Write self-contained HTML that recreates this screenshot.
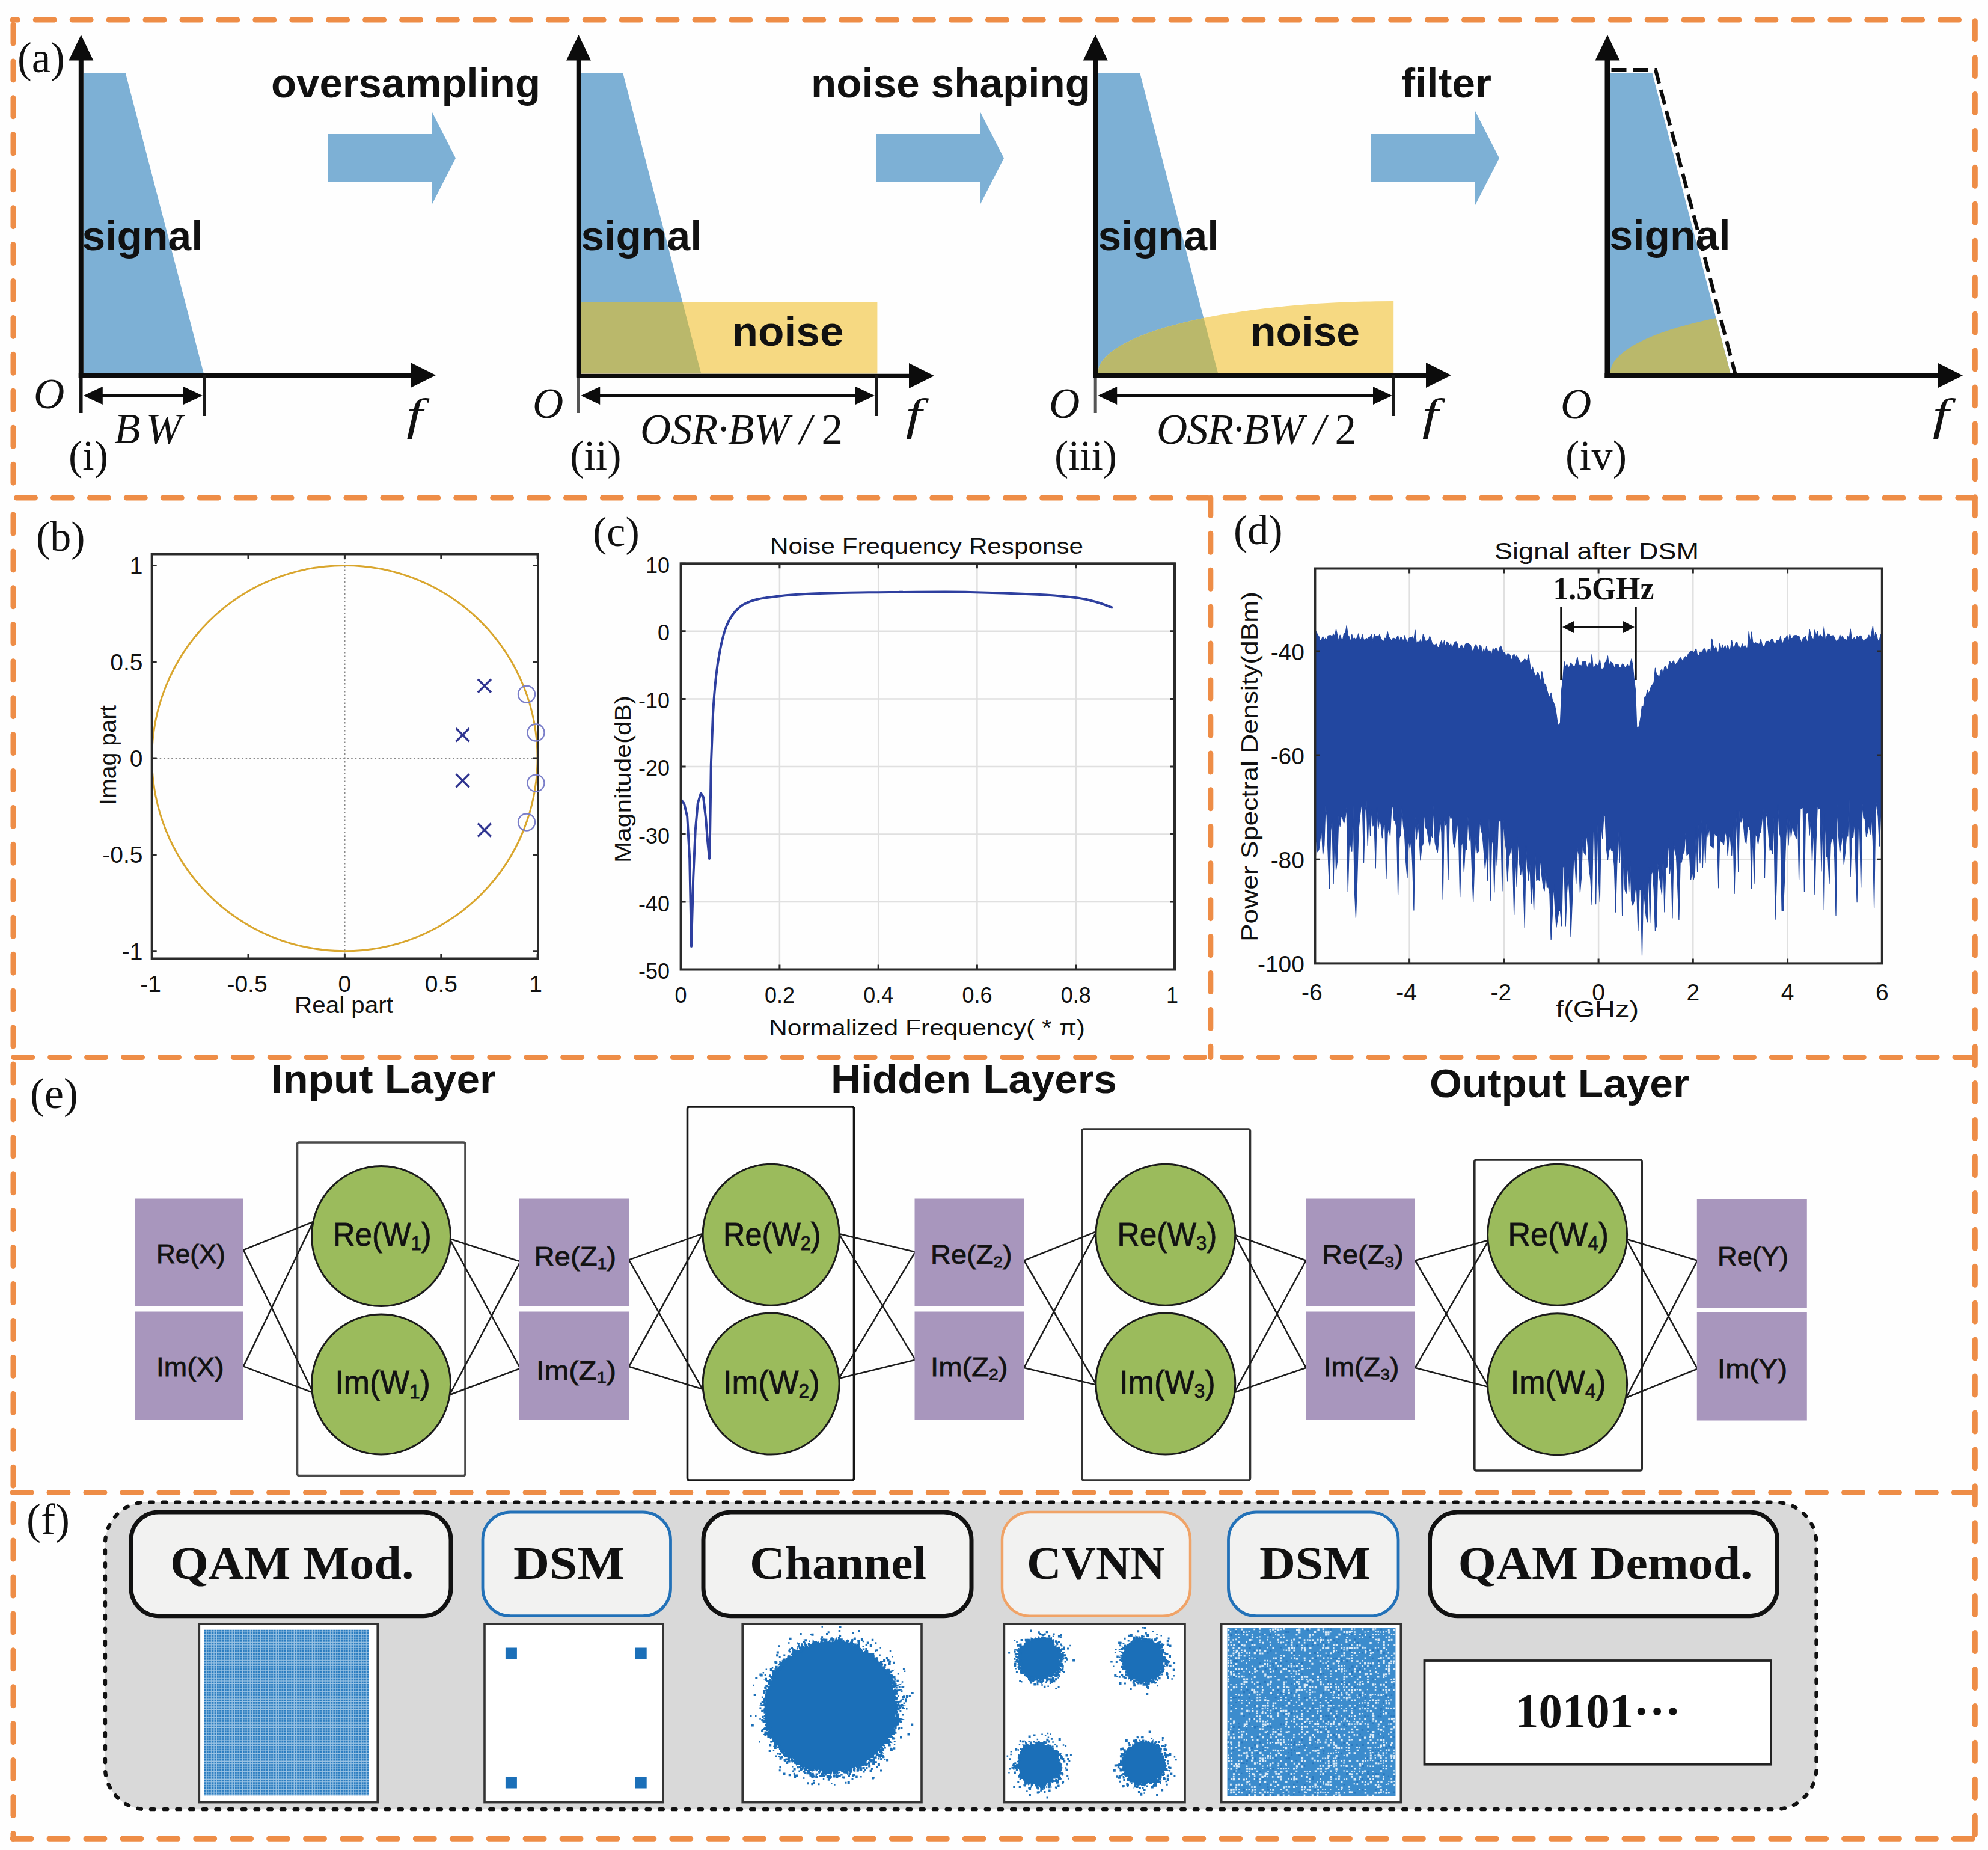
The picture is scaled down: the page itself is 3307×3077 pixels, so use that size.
<!DOCTYPE html>
<html lang="en"><head><meta charset="utf-8"><title>DSM and CVNN principle figure</title>
<style>
html,body{margin:0;padding:0;background:#fefefe;}
svg{display:block;}
text{fill:#111;}
.ss{font-family:"Liberation Sans", "DejaVu Sans", sans-serif;}
.sr{font-family:"Liberation Serif", "DejaVu Serif", serif;}
.b{font-weight:bold;}
.i{font-style:italic;}
</style></head><body>
<svg width="3307" height="3077" viewBox="0 0 3307 3077">
<rect width="3307" height="3077" fill="#fefefe"/>
<g fill="none" stroke="#EE8D47" stroke-width="9" stroke-linecap="round" stroke-dasharray="31 29.93">
<path d="M21 33H3285.3" stroke-dashoffset="22.7"/>
<path d="M21 828H3285.3" stroke-dashoffset="54.4"/>
<path d="M21 1758.5H3285.3" stroke-dashoffset="59.2"/>
<path d="M21 2482.5H3285.3" stroke-dashoffset="60.86"/>
<path d="M21 3058.3H3285.3" stroke-dashoffset="60.86"/>
<path d="M22 33V828" stroke-dashoffset="52.93"/>
<path d="M22 856V3058.3"/>
<path d="M3285.3 33V3058.3" stroke-dashoffset="59.3"/>
<path d="M2013.8 828V1758.5" stroke-dashoffset="1.6"/>
</g>
<text class="sr" x="29" y="120" font-size="71">(a)</text>
<path d="M138.8 121.5 H208.8 L338.8 621 H138.8 Z" fill="#7DB0D5"/>
<path d="M134.8 628 V88" stroke="#0c0c0c" stroke-width="8" fill="none"/>
<path d="M134.8 58 L114.3 100.5 L155.3 100.5 Z" fill="#0c0c0c"/>
<path d="M130.8 624 H695" stroke="#0c0c0c" stroke-width="8" fill="none"/>
<path d="M725 624 L683 603 L683 645 Z" fill="#0c0c0c"/>
<path d="M134.8 628V687" stroke="#111" stroke-width="5.5" fill="none"/>
<path d="M339.5 624V692" stroke="#1a1a1a" stroke-width="5" fill="none"/>
<path d="M158.8 658H317" stroke="#0c0c0c" stroke-width="4" fill="none"/>
<path d="M138.8 658 l32 -15 v30 Z M337 658 l-32 -15 v30 Z" fill="#0c0c0c"/>
<text class="ss b" x="136.5" y="416" font-size="68" textLength="201" lengthAdjust="spacingAndGlyphs">signal</text>
<text class="sr i" x="56" y="679" font-size="71">O</text>
<text class="sr i" x="190" y="737" font-size="71" textLength="112" lengthAdjust="spacing">BW</text>
<text class="sr i" x="676.2" y="713.5" font-size="75" textLength="27.1" lengthAdjust="spacingAndGlyphs">f</text>
<text class="sr" x="114" y="781" font-size="70">(i)</text>
<text class="ss b" x="451" y="162" font-size="69" textLength="448" lengthAdjust="spacingAndGlyphs">oversampling</text>
<path d="M545 223 h173 v-38 l40 78 l-40 78 v-38 h-173 Z" fill="#7DB0D5"/>
<path d="M966.2 121.5 H1036.2 L1166.2 621 H966.2 Z" fill="#7DB0D5"/>
<rect x="966.2" y="502" width="493.2" height="119.5" fill="#F6D982"/>
<clipPath id="c2"><path d="M966.2 121.5 H1036.2 L1166.2 621 H966.2 Z"/></clipPath>
<rect x="966.2" y="502" width="493.2" height="119.5" fill="#BAB86B" clip-path="url(#c2)"/>
<path d="M962.5 627.8 V88" stroke="#0c0c0c" stroke-width="7.5" fill="none"/>
<path d="M962.5 58 L942 100.5 L983 100.5 Z" fill="#0c0c0c"/>
<path d="M959.2 625 H1524" stroke="#0c0c0c" stroke-width="6.5" fill="none"/>
<path d="M1554 625 L1512 604 L1512 646 Z" fill="#0c0c0c"/>
<path d="M962.5 628V687" stroke="#555" stroke-width="5" fill="none"/>
<path d="M1457.5 624V692" stroke="#1a1a1a" stroke-width="5" fill="none"/>
<path d="M986.2 658H1435" stroke="#0c0c0c" stroke-width="4" fill="none"/>
<path d="M966.2 658 l32 -15 v30 Z M1455 658 l-32 -15 v30 Z" fill="#0c0c0c"/>
<text class="ss b" x="966.5" y="416" font-size="68" textLength="201" lengthAdjust="spacingAndGlyphs">signal</text>
<text class="ss b" x="1217.5" y="574.5" font-size="68" textLength="186" lengthAdjust="spacingAndGlyphs">noise</text>
<text class="sr i" x="886" y="695" font-size="71">O</text>
<text class="sr i" x="1065" y="738" font-size="71" textLength="337" lengthAdjust="spacing">OSR·BW / <tspan font-style="normal">2</tspan></text>
<text class="sr i" x="1506.7" y="713.5" font-size="75" textLength="27.1" lengthAdjust="spacingAndGlyphs">f</text>
<text class="sr" x="948" y="781" font-size="70">(ii)</text>
<text class="ss b" x="1349" y="162" font-size="69" textLength="465" lengthAdjust="spacingAndGlyphs">noise shaping</text>
<path d="M1457 223 h173 v-38 l40 78 l-40 78 v-38 h-173 Z" fill="#7DB0D5"/>
<path d="M1826.2 121.5 H1896.2 L2026.2 621 H1826.2 Z" fill="#7DB0D5"/>
<path d="M1826.2 621 A492 120 0 0 1 2318.2 501 V621 Z" fill="#F6D982"/>
<clipPath id="c3"><path d="M1826.2 121.5 H1896.2 L2026.2 621 H1826.2 Z"/></clipPath>
<path d="M1826.2 621 A492 120 0 0 1 2318.2 501 V621 Z" fill="#BAB86B" clip-path="url(#c3)"/>
<path d="M1822.2 628 V88" stroke="#0c0c0c" stroke-width="8" fill="none"/>
<path d="M1822.2 58 L1801.7 100.5 L1842.7 100.5 Z" fill="#0c0c0c"/>
<path d="M1818.2 624 H2384" stroke="#0c0c0c" stroke-width="8" fill="none"/>
<path d="M2414 624 L2372 603 L2372 645 Z" fill="#0c0c0c"/>
<path d="M1822.2 628V687" stroke="#555" stroke-width="5" fill="none"/>
<path d="M2318.5 624V692" stroke="#1a1a1a" stroke-width="5" fill="none"/>
<path d="M1846.2 658H2296" stroke="#0c0c0c" stroke-width="4" fill="none"/>
<path d="M1826.2 658 l32 -15 v30 Z M2316 658 l-32 -15 v30 Z" fill="#0c0c0c"/>
<text class="ss b" x="1826.5" y="416" font-size="68" textLength="201" lengthAdjust="spacingAndGlyphs">signal</text>
<text class="ss b" x="2080" y="574.5" font-size="68" textLength="182" lengthAdjust="spacingAndGlyphs">noise</text>
<text class="sr i" x="1745" y="695" font-size="71">O</text>
<text class="sr i" x="1924" y="738" font-size="71" textLength="332" lengthAdjust="spacing">OSR·BW / <tspan font-style="normal">2</tspan></text>
<text class="sr i" x="2365.7" y="713.5" font-size="75" textLength="27.1" lengthAdjust="spacingAndGlyphs">f</text>
<text class="sr" x="1754" y="781" font-size="70" textLength="104" lengthAdjust="spacing">(iii)</text>
<text class="ss b" x="2331" y="162" font-size="69" textLength="150" lengthAdjust="spacingAndGlyphs">filter</text>
<path d="M2281 223 h173 v-38 l40 78 l-40 78 v-38 h-173 Z" fill="#7DB0D5"/>
<path d="M2678.5 121.5 H2748.5 L2878.5 621 H2678.5 Z" fill="#7DB0D5"/>
<clipPath id="c4"><path d="M2678.5 121.5 H2748.5 L2878.5 621 H2678.5 Z"/></clipPath>
<path d="M2678.5 621 A492 120 0 0 1 3170.5 501 V621 Z" fill="#BAB86B" clip-path="url(#c4)"/>
<path d="M2674 628.5 V88" stroke="#0c0c0c" stroke-width="9" fill="none"/>
<path d="M2674 58 L2653.5 100.5 L2694.5 100.5 Z" fill="#0c0c0c"/>
<path d="M2669.5 624.6 H3235" stroke="#0c0c0c" stroke-width="9" fill="none"/>
<path d="M3265 624.6 L3223 603.6 L3223 645.6 Z" fill="#0c0c0c"/>
<path d="M2680.5 116 H2754 L2886.5 622" stroke="#0c0c0c" stroke-width="6" stroke-dasharray="25 11" fill="none"/>
<text class="ss b" x="2677.5" y="415" font-size="68" textLength="201" lengthAdjust="spacingAndGlyphs">signal</text>
<text class="sr i" x="2596" y="696" font-size="71">O</text>
<text class="sr i" x="3215.1" y="713.5" font-size="75" textLength="27.1" lengthAdjust="spacingAndGlyphs">f</text>
<text class="sr" x="2604" y="781" font-size="70" textLength="102" lengthAdjust="spacing">(iv)</text>
<text class="sr" x="60" y="916" font-size="70">(b)</text>
<path d="M252.7 1261.1H895 M573.4 921.5V1594.5" stroke="#888" stroke-width="2.2" stroke-dasharray="2.5 4" fill="none"/>
<circle cx="573.4" cy="1261.1" r="320.7" fill="none" stroke="#D9A62E" stroke-width="3"/>
<rect x="252.7" y="921.5" width="642.3" height="673" fill="none" stroke="#2a2a2a" stroke-width="4"/>
<path d="M252.7 1594.5v-8 M252.7 921.5v8 M252.7 1581.8h8 M895 1581.8h-8 M413 1594.5v-8 M413 921.5v8 M252.7 1421.4h8 M895 1421.4h-8 M573.4 1594.5v-8 M573.4 921.5v8 M252.7 1261.1h8 M895 1261.1h-8 M733.8 1594.5v-8 M733.8 921.5v8 M252.7 1100.8h8 M895 1100.8h-8 M894.1 1594.5v-8 M894.1 921.5v8 M252.7 940.4h8 M895 940.4h-8" stroke="#2a2a2a" stroke-width="3" fill="none"/>
<text class="ss" x="237.5" y="954.4" font-size="39" text-anchor="end" fill="#222">1</text>
<text class="ss" x="237.5" y="1114.8" font-size="39" text-anchor="end" fill="#222">0.5</text>
<text class="ss" x="237.5" y="1275.1" font-size="39" text-anchor="end" fill="#222">0</text>
<text class="ss" x="237.5" y="1435.4" font-size="39" text-anchor="end" fill="#222">-0.5</text>
<text class="ss" x="237.5" y="1595.8" font-size="39" text-anchor="end" fill="#222">-1</text>
<text class="ss" x="250.7" y="1650" font-size="39" text-anchor="middle" fill="#222">-1</text>
<text class="ss" x="411" y="1650" font-size="39" text-anchor="middle" fill="#222">-0.5</text>
<text class="ss" x="573.4" y="1650" font-size="39" text-anchor="middle" fill="#222">0</text>
<text class="ss" x="733.8" y="1650" font-size="39" text-anchor="middle" fill="#222">0.5</text>
<text class="ss" x="891.1" y="1650" font-size="39" text-anchor="middle" fill="#222">1</text>
<text class="ss" x="572" y="1685" font-size="39" text-anchor="middle" textLength="164" lengthAdjust="spacingAndGlyphs" fill="#222">Real part</text>
<text class="ss" x="193" y="1256" font-size="39" text-anchor="middle" textLength="166" lengthAdjust="spacingAndGlyphs" transform="rotate(-90 193 1256)" fill="#222">Imag part</text>
<path d="M794.9 1129.7l22 22 M816.9 1129.7l-22 22 M758.6 1211.2l22 22 M780.6 1211.2l-22 22 M758.6 1287.5l22 22 M780.6 1287.5l-22 22 M794.9 1369.5l22 22 M816.9 1369.5l-22 22" stroke="#2F3490" stroke-width="3.4" fill="none"/>
<circle cx="876" cy="1154.7" r="14" fill="none" stroke="#7B7FC9" stroke-width="2.4"/>
<circle cx="891.5" cy="1218.5" r="14" fill="none" stroke="#7B7FC9" stroke-width="2.4"/>
<circle cx="891.5" cy="1302.6" r="14" fill="none" stroke="#7B7FC9" stroke-width="2.4"/>
<circle cx="876" cy="1367.5" r="14" fill="none" stroke="#7B7FC9" stroke-width="2.4"/>
<text class="sr" x="986" y="908" font-size="70">(c)</text>
<path d="M1296.9 937.3V1612.5 M1461.2 937.3V1612.5 M1625.4 937.3V1612.5 M1789.7 937.3V1612.5 M1132.6 1049.8H1954 M1132.6 1162.4H1954 M1132.6 1274.9H1954 M1132.6 1387.4H1954 M1132.6 1500H1954" stroke="#e0e0e0" stroke-width="2.5" fill="none"/>
<path d="M1132.8 1330 L1138 1336.8 L1143.2 1358 L1147.2 1428 L1150 1574 L1153.2 1460 L1156.8 1380 L1160.8 1336 L1166 1319.2 L1170 1326 L1174 1360 L1177.2 1400 L1180 1428 L1181.2 1380 L1182.8 1272 L1186 1188 C1187.4 1163.3 1189.2 1142 1191.2 1124 C1193.2 1106 1195.5 1092.7 1198 1080 C1200.5 1067.3 1203.3 1056.3 1206 1048 C1208.7 1039.7 1211 1035.3 1214 1030 C1217 1024.7 1220 1020.2 1224 1016 C1228 1011.8 1232 1008 1238 1004.8 C1244 1001.6 1250 999.1 1260 996.8 C1270 994.5 1284.7 992.7 1298 991.2 C1311.3 989.7 1323 988.9 1340 988 C1357 987.1 1380 986.5 1400 986 C1420 985.5 1443.3 985.4 1460 985.2 C1476.7 985 1492.8 984.9 1500 984.8 C1507.2 984.7 1484.3 984.9 1503.3 984.9 C1522.3 984.9 1577.1 984.2 1614 984.9 C1650.9 985.5 1695.1 987.2 1724.6 988.8 C1754.1 990.3 1774.4 992.2 1791 994.3 C1807.6 996.4 1814.3 998.7 1824.2 1001.5 C1834.2 1004.3 1846.4 1009.3 1850.8 1010.9" stroke="#2E3F9F" stroke-width="4" fill="none" stroke-linejoin="round"/>
<rect x="1132.6" y="937.3" width="821.4" height="675.2" fill="none" stroke="#2a2a2a" stroke-width="4"/>
<path d="M1132.6 1612.5v-8 M1132.6 937.3v8 M1296.9 1612.5v-8 M1296.9 937.3v8 M1461.2 1612.5v-8 M1461.2 937.3v8 M1625.4 1612.5v-8 M1625.4 937.3v8 M1789.7 1612.5v-8 M1789.7 937.3v8 M1954 1612.5v-8 M1954 937.3v8 M1132.6 937.3h8 M1954 937.3h-8 M1132.6 1049.8h8 M1954 1049.8h-8 M1132.6 1162.4h8 M1954 1162.4h-8 M1132.6 1274.9h8 M1954 1274.9h-8 M1132.6 1387.4h8 M1954 1387.4h-8 M1132.6 1500h8 M1954 1500h-8 M1132.6 1612.5h8 M1954 1612.5h-8" stroke="#2a2a2a" stroke-width="3" fill="none"/>
<text class="ss" x="1114" y="952.8" font-size="36" text-anchor="end" fill="#222">10</text>
<text class="ss" x="1114" y="1065.3" font-size="36" text-anchor="end" fill="#222">0</text>
<text class="ss" x="1114" y="1177.9" font-size="36" text-anchor="end" fill="#222">-10</text>
<text class="ss" x="1114" y="1290.4" font-size="36" text-anchor="end" fill="#222">-20</text>
<text class="ss" x="1114" y="1402.9" font-size="36" text-anchor="end" fill="#222">-30</text>
<text class="ss" x="1114" y="1515.5" font-size="36" text-anchor="end" fill="#222">-40</text>
<text class="ss" x="1114" y="1628" font-size="36" text-anchor="end" fill="#222">-50</text>
<text class="ss" x="1132.6" y="1668" font-size="36" text-anchor="middle" fill="#222">0</text>
<text class="ss" x="1296.9" y="1668" font-size="36" text-anchor="middle" fill="#222">0.2</text>
<text class="ss" x="1461.2" y="1668" font-size="36" text-anchor="middle" fill="#222">0.4</text>
<text class="ss" x="1625.4" y="1668" font-size="36" text-anchor="middle" fill="#222">0.6</text>
<text class="ss" x="1789.7" y="1668" font-size="36" text-anchor="middle" fill="#222">0.8</text>
<text class="ss" x="1950" y="1668" font-size="36" text-anchor="middle" fill="#222">1</text>
<text class="ss" x="1541.5" y="921" font-size="37" text-anchor="middle" textLength="521" lengthAdjust="spacingAndGlyphs" fill="#222">Noise Frequency Response</text>
<text class="ss" x="1542" y="1722" font-size="37" text-anchor="middle" textLength="526" lengthAdjust="spacingAndGlyphs" fill="#222">Normalized Frequency( * π)</text>
<text class="ss" x="1049" y="1296" font-size="36" text-anchor="middle" textLength="278" lengthAdjust="spacingAndGlyphs" transform="rotate(-90 1049 1296)" fill="#222">Magnitude(dB)</text>
<text class="sr" x="2052" y="905" font-size="70">(d)</text>
<path d="M2344.6 945.5V1602.4 M2501.9 945.5V1602.4 M2659.1 945.5V1602.4 M2816.3 945.5V1602.4 M2973.6 945.5V1602.4 M2187.4 1083H3130.8 M2187.4 1256.1H3130.8 M2187.4 1429.2H3130.8" stroke="#e0e0e0" stroke-width="2.5" fill="none"/>
<path d="M2187.4 1062.9 L2189.6 1050.6 L2191.8 1055.9 L2194 1058.7 L2196.2 1066.8 L2198.4 1063.1 L2200.6 1058.6 L2202.8 1064.6 L2205 1061.1 L2207.1 1064 L2209.3 1057.3 L2211.5 1056.9 L2213.7 1056.8 L2215.9 1059.2 L2218.1 1054.3 L2220.3 1058.5 L2222.5 1047 L2224.7 1056.8 L2226.9 1066.3 L2229.1 1056.1 L2231.3 1062.5 L2233.5 1064.2 L2235.7 1053.3 L2237.9 1054.2 L2240.1 1040.5 L2242.2 1056.4 L2244.4 1059.2 L2246.6 1067.4 L2248.8 1055.3 L2251 1062.4 L2253.2 1061 L2255.4 1063.8 L2257.6 1060.1 L2259.8 1053.9 L2262 1065.1 L2264.2 1062.9 L2266.4 1055.6 L2268.6 1064.4 L2270.8 1063.8 L2273 1061.5 L2275.2 1062.8 L2277.4 1059.3 L2279.5 1059 L2281.7 1055.5 L2283.9 1065.7 L2286.1 1054.9 L2288.3 1058.4 L2290.5 1057.3 L2292.7 1059.5 L2294.9 1055.2 L2297.1 1062.8 L2299.3 1064.8 L2301.5 1067.2 L2303.7 1061 L2305.9 1062.2 L2308.1 1050.7 L2310.3 1059.3 L2312.5 1061.8 L2314.6 1066.1 L2316.8 1061.9 L2319 1061.3 L2321.2 1063.6 L2323.4 1060.3 L2325.6 1057 L2327.8 1069.1 L2330 1059.4 L2332.2 1061.2 L2334.4 1067.4 L2336.6 1056.8 L2338.8 1063.5 L2341 1070.5 L2343.2 1062.2 L2345.4 1060.1 L2347.6 1060.4 L2349.8 1058.9 L2351.9 1063.9 L2354.1 1048 L2356.3 1071.1 L2358.5 1066.3 L2360.7 1069.1 L2362.9 1063.6 L2365.1 1069.3 L2367.3 1055 L2369.5 1061 L2371.7 1067.3 L2373.9 1064.9 L2376.1 1064.9 L2378.3 1057.9 L2380.5 1063.6 L2382.7 1071.4 L2384.9 1072.1 L2387 1072.6 L2389.2 1071 L2391.4 1076.5 L2393.6 1076.5 L2395.8 1069.8 L2398 1065.2 L2400.2 1075.5 L2402.4 1065.5 L2404.6 1076.2 L2406.8 1067.3 L2409 1069.2 L2411.2 1073.9 L2413.4 1070.5 L2415.6 1079.4 L2417.8 1072.3 L2420 1068.3 L2422.2 1066.8 L2424.3 1071.1 L2426.5 1079.9 L2428.7 1077.1 L2430.9 1072.4 L2433.1 1075.6 L2435.3 1079.6 L2437.5 1071.4 L2439.7 1070 L2441.9 1070.3 L2444.1 1071.6 L2446.3 1073.1 L2448.5 1080.4 L2450.7 1084.9 L2452.9 1075.4 L2455.1 1071.8 L2457.3 1076.4 L2459.5 1082.9 L2461.6 1073.5 L2463.8 1074.5 L2466 1086.8 L2468.2 1078.9 L2470.4 1086.4 L2472.6 1075 L2474.8 1083.5 L2477 1082.4 L2479.2 1083.4 L2481.4 1088.7 L2483.6 1078.1 L2485.8 1083.5 L2488 1077.7 L2490.2 1079.5 L2492.4 1085.6 L2494.6 1077.1 L2496.7 1074.3 L2498.9 1081.1 L2501.1 1086 L2503.3 1085.1 L2505.5 1094.5 L2507.7 1087.2 L2509.9 1087.4 L2512.1 1090 L2514.3 1099 L2516.5 1091.2 L2518.7 1087.9 L2520.9 1092.8 L2523.1 1090.4 L2525.3 1094.8 L2527.5 1098.2 L2529.7 1103 L2531.9 1100.4 L2534 1099.1 L2536.2 1095.8 L2538.4 1097.9 L2540.6 1098.4 L2542.8 1088.9 L2545 1105 L2547.2 1116.5 L2549.4 1109.2 L2551.6 1117.9 L2553.8 1125 L2556 1122.1 L2558.2 1117.8 L2560.4 1124.2 L2562.6 1135.1 L2564.8 1116.7 L2567 1128.2 L2569.1 1138.4 L2571.3 1138.9 L2573.5 1148.4 L2575.7 1155.8 L2577.9 1160.2 L2580.1 1152.3 L2582.3 1164 L2584.5 1169 L2586.7 1175.2 L2588.9 1187.6 L2591.1 1203.9 L2593.3 1207.6 L2595.5 1201.8 L2597.7 1146.9 L2599.9 1128.8 L2602.1 1100.4 L2604.3 1109.7 L2606.4 1104.7 L2608.6 1109.8 L2610.8 1108.8 L2613 1102.3 L2615.2 1105.7 L2617.4 1107.6 L2619.6 1109 L2621.8 1101.3 L2624 1092.9 L2626.2 1107.7 L2628.4 1105.7 L2630.6 1108.2 L2632.8 1100.5 L2635 1099.9 L2637.2 1099.8 L2639.4 1107.9 L2641.5 1111.1 L2643.7 1101.6 L2645.9 1106.1 L2648.1 1088.3 L2650.3 1111.7 L2652.5 1109.1 L2654.7 1104.2 L2656.9 1106.5 L2659.1 1106.9 L2661.3 1096.5 L2663.5 1112.2 L2665.7 1112.5 L2667.9 1111.4 L2670.1 1102 L2672.3 1100 L2674.5 1090.9 L2676.7 1109.5 L2678.8 1100.6 L2681 1101.9 L2683.2 1103.9 L2685.4 1111.7 L2687.6 1105.6 L2689.8 1104.6 L2692 1105.3 L2694.2 1110.8 L2696.4 1109.8 L2698.6 1104.1 L2700.8 1104.8 L2703 1111.5 L2705.2 1108.4 L2707.4 1105.1 L2709.6 1111.4 L2711.8 1104.5 L2713.9 1095.8 L2716.1 1107.1 L2718.3 1129.9 L2720.5 1147.5 L2722.7 1208.9 L2724.9 1212.4 L2727.1 1205.4 L2729.3 1192.7 L2731.5 1174.1 L2733.7 1177.1 L2735.9 1159.2 L2738.1 1158.5 L2740.3 1147.3 L2742.5 1153.6 L2744.7 1148.5 L2746.9 1140.4 L2749.1 1138.8 L2751.2 1135.3 L2753.4 1111.2 L2755.6 1122.2 L2757.8 1123.1 L2760 1129.4 L2762.2 1116.5 L2764.4 1112.8 L2766.6 1122.6 L2768.8 1109.2 L2771 1107.7 L2773.2 1115.5 L2775.4 1108.3 L2777.6 1099.5 L2779.8 1104.2 L2782 1101.8 L2784.2 1098.6 L2786.3 1107.2 L2788.5 1103.7 L2790.7 1101.6 L2792.9 1097.3 L2795.1 1093.5 L2797.3 1096.7 L2799.5 1100.8 L2801.7 1093.2 L2803.9 1091.8 L2806.1 1093.3 L2808.3 1087.9 L2810.5 1085.4 L2812.7 1082.8 L2814.9 1082.4 L2817.1 1086 L2819.3 1082.8 L2821.5 1078.9 L2823.6 1089.5 L2825.8 1091.3 L2828 1084.5 L2830.2 1085.5 L2832.4 1082.8 L2834.6 1078.2 L2836.8 1080.6 L2839 1088.3 L2841.2 1080.6 L2843.4 1080.3 L2845.6 1086 L2847.8 1062.4 L2850 1074.8 L2852.2 1080 L2854.4 1075.6 L2856.6 1083.8 L2858.7 1084.7 L2860.9 1070 L2863.1 1080.8 L2865.3 1072.3 L2867.5 1079.5 L2869.7 1073.4 L2871.9 1081.1 L2874.1 1072.5 L2876.3 1081.7 L2878.5 1079.4 L2880.7 1065.2 L2882.9 1075.8 L2885.1 1077 L2887.3 1069.1 L2889.5 1068 L2891.7 1077.5 L2893.9 1075.8 L2896 1077.9 L2898.2 1070.7 L2900.4 1077 L2902.6 1073.4 L2904.8 1077.3 L2907 1076.9 L2909.2 1050 L2911.4 1069.2 L2913.6 1051.1 L2915.8 1068.4 L2918 1070.5 L2920.2 1068.7 L2922.4 1069.8 L2924.6 1071 L2926.8 1071 L2929 1062.8 L2931.2 1071.9 L2933.3 1075.2 L2935.5 1074.8 L2937.7 1066.8 L2939.9 1066.5 L2942.1 1066.4 L2944.3 1068.1 L2946.5 1063.4 L2948.7 1063 L2950.9 1069.2 L2953.1 1072.6 L2955.3 1065.1 L2957.5 1064.6 L2959.7 1066.9 L2961.9 1057.7 L2964.1 1070.8 L2966.3 1068.4 L2968.4 1061.6 L2970.6 1061.4 L2972.8 1056.5 L2975 1069.7 L2977.2 1054.3 L2979.4 1061.3 L2981.6 1061.8 L2983.8 1057.3 L2986 1056.8 L2988.2 1056.7 L2990.4 1057.8 L2992.6 1057.6 L2994.8 1064.1 L2997 1069.3 L2999.2 1061.8 L3001.4 1060.2 L3003.6 1058.5 L3005.7 1066.2 L3007.9 1066.5 L3010.1 1046.7 L3012.3 1056.8 L3014.5 1060.9 L3016.7 1064 L3018.9 1047.8 L3021.1 1057.9 L3023.3 1049.5 L3025.5 1060.7 L3027.7 1055.4 L3029.9 1057.6 L3032.1 1060.6 L3034.3 1042.5 L3036.5 1064.6 L3038.7 1058.7 L3040.8 1054.2 L3043 1055.3 L3045.2 1057.9 L3047.4 1057.2 L3049.6 1057 L3051.8 1060.8 L3054 1067.2 L3056.2 1064.4 L3058.4 1065.5 L3060.6 1055.8 L3062.8 1060.8 L3065 1057.5 L3067.2 1063.7 L3069.4 1062.8 L3071.6 1065.8 L3073.8 1058.2 L3076 1064.6 L3078.1 1046 L3080.3 1063.4 L3082.5 1062.7 L3084.7 1060.1 L3086.9 1064.4 L3089.1 1057.6 L3091.3 1060.6 L3093.5 1057.6 L3095.7 1057.3 L3097.9 1062.8 L3100.1 1067.2 L3102.3 1063.7 L3104.5 1062.3 L3106.7 1061.2 L3108.9 1056.1 L3111.1 1062.1 L3113.2 1054.2 L3115.4 1041.4 L3117.6 1064 L3119.8 1051.6 L3122 1057.7 L3124.2 1066.8 L3126.4 1063.5 L3128.6 1055.5 L3130.8 1065.1 L3130.8 1364.9 L3128.6 1353.2 L3126.4 1407.1 L3124.2 1358.6 L3122 1334.3 L3119.8 1353.5 L3117.6 1510.1 L3115.4 1398.4 L3113.2 1357.9 L3111.1 1387.4 L3108.9 1370.7 L3106.7 1383.8 L3104.5 1391.4 L3102.3 1362.3 L3100.1 1361 L3097.9 1336 L3095.7 1476.1 L3093.5 1374.6 L3091.3 1379.1 L3089.1 1500.7 L3086.9 1434.4 L3084.7 1364.6 L3082.5 1392.8 L3080.3 1392 L3078.1 1458.5 L3076 1329 L3073.8 1390.9 L3071.6 1389.8 L3069.4 1418.2 L3067.2 1437.3 L3065 1384.5 L3062.8 1404.5 L3060.6 1417.7 L3058.4 1387.9 L3056.2 1338.1 L3054 1522.7 L3051.8 1425.8 L3049.6 1396.4 L3047.4 1393.8 L3045.2 1404.1 L3043 1469.4 L3040.8 1425.2 L3038.7 1425.3 L3036.5 1353.9 L3034.3 1513.4 L3032.1 1365.9 L3029.9 1449.1 L3027.7 1342.8 L3025.5 1345.5 L3023.3 1340 L3021.1 1397.3 L3018.9 1487.5 L3016.7 1370.4 L3014.5 1431.8 L3012.3 1362.9 L3010.1 1389.2 L3007.9 1348.3 L3005.7 1353.1 L3003.6 1348.6 L3001.4 1483.4 L2999.2 1342.2 L2997 1344.9 L2994.8 1344.8 L2992.6 1462.8 L2990.4 1353.5 L2988.2 1394.9 L2986 1388 L2983.8 1381.5 L2981.6 1373.4 L2979.4 1392 L2977.2 1361.4 L2975 1406 L2972.8 1356.7 L2970.6 1397.7 L2968.4 1467.1 L2966.3 1515.1 L2964.1 1514.4 L2961.9 1392.3 L2959.7 1382.5 L2957.5 1337 L2955.3 1466 L2953.1 1529.3 L2950.9 1359.7 L2948.7 1420.5 L2946.5 1412.2 L2944.3 1414.5 L2942.1 1388.6 L2939.9 1361.9 L2937.7 1351.6 L2935.5 1459.9 L2933.3 1345.8 L2931.2 1362.4 L2929 1383.4 L2926.8 1386.4 L2924.6 1403.8 L2922.4 1390.9 L2920.2 1386.7 L2918 1469.5 L2915.8 1383.8 L2913.6 1477.6 L2911.4 1381.4 L2909.2 1375.6 L2907 1373.9 L2904.8 1402.7 L2902.6 1398.1 L2900.4 1372.5 L2898.2 1356 L2896 1368 L2893.9 1349.1 L2891.7 1449.9 L2889.5 1347 L2887.3 1400.1 L2885.1 1486.5 L2882.9 1368.9 L2880.7 1422.8 L2878.5 1394.7 L2876.3 1388.6 L2874.1 1422.8 L2871.9 1389.7 L2869.7 1382.7 L2867.5 1405.2 L2865.3 1399.9 L2863.1 1400 L2860.9 1387.8 L2858.7 1476.8 L2856.6 1390.5 L2854.4 1389.9 L2852.2 1383.7 L2850 1410.9 L2847.8 1407.5 L2845.6 1406.4 L2843.4 1375.1 L2841.2 1391.9 L2839 1369.1 L2836.8 1435.4 L2834.6 1375.4 L2832.4 1442.6 L2830.2 1362.9 L2828 1435.7 L2825.8 1371.4 L2823.6 1450.4 L2821.5 1376.1 L2819.3 1455.6 L2817.1 1462.9 L2814.9 1447.3 L2812.7 1463 L2810.5 1421.2 L2808.3 1420.1 L2806.1 1422.7 L2803.9 1385.6 L2801.7 1416 L2799.5 1420.8 L2797.3 1433.9 L2795.1 1435.1 L2792.9 1530.4 L2790.7 1473.8 L2788.5 1423.8 L2786.3 1416.1 L2784.2 1400.2 L2782 1526.9 L2779.8 1430.5 L2777.6 1452.7 L2775.4 1394.9 L2773.2 1442.1 L2771 1442.8 L2768.8 1516.9 L2766.6 1416.8 L2764.4 1487.7 L2762.2 1471.3 L2760 1455 L2757.8 1436.3 L2755.6 1539.6 L2753.4 1548.1 L2751.2 1480.1 L2749.1 1448.4 L2746.9 1453.5 L2744.7 1535.3 L2742.5 1442.6 L2740.3 1533.8 L2738.1 1522.8 L2735.9 1498.2 L2733.7 1470.7 L2731.5 1589.3 L2729.3 1478.7 L2727.1 1480.1 L2724.9 1548.3 L2722.7 1481.8 L2720.5 1477.5 L2718.3 1498.7 L2716.1 1506 L2713.9 1498.1 L2711.8 1432.9 L2709.6 1483.7 L2707.4 1431.9 L2705.2 1486.2 L2703 1479.6 L2700.8 1422.2 L2698.6 1523.3 L2696.4 1380.4 L2694.2 1435.5 L2692 1383.3 L2689.8 1437.3 L2687.6 1517.2 L2685.4 1440.9 L2683.2 1415.2 L2681 1414.8 L2678.8 1407.3 L2676.7 1414.1 L2674.5 1429.6 L2672.3 1410.9 L2670.1 1357 L2667.9 1355.2 L2665.7 1394.4 L2663.5 1367.6 L2661.3 1499.7 L2659.1 1457.2 L2656.9 1367.6 L2654.7 1503.7 L2652.5 1381.1 L2650.3 1384.1 L2648.1 1504.7 L2645.9 1462.3 L2643.7 1445.3 L2641.5 1409 L2639.4 1384.1 L2637.2 1421.8 L2635 1418 L2632.8 1395.2 L2630.6 1458.4 L2628.4 1484.3 L2626.2 1421 L2624 1411.1 L2621.8 1469.4 L2619.6 1426.7 L2617.4 1435.5 L2615.2 1502.6 L2613 1557.5 L2610.8 1486.5 L2608.6 1453.5 L2606.4 1485.9 L2604.3 1540.1 L2602.1 1440.9 L2599.9 1442.1 L2597.7 1539.9 L2595.5 1514.7 L2593.3 1514.4 L2591.1 1527.9 L2588.9 1542.1 L2586.7 1510.5 L2584.5 1470.8 L2582.3 1521.8 L2580.1 1563.4 L2577.9 1486.6 L2575.7 1475.2 L2573.5 1476.6 L2571.3 1446.5 L2569.1 1481.8 L2567 1474.3 L2564.8 1456.8 L2562.6 1425.1 L2560.4 1464.3 L2558.2 1460.9 L2556 1465.5 L2553.8 1419.8 L2551.6 1513.1 L2549.4 1463.3 L2547.2 1502.9 L2545 1437.6 L2542.8 1464.5 L2540.6 1442.7 L2538.4 1405.5 L2536.2 1542.6 L2534 1466.7 L2531.9 1433.5 L2529.7 1455.4 L2527.5 1434.4 L2525.3 1391.2 L2523.1 1474.5 L2520.9 1422.8 L2518.7 1521.6 L2516.5 1433.3 L2514.3 1404.5 L2512.1 1418.2 L2509.9 1426.5 L2507.7 1465.9 L2505.5 1412.6 L2503.3 1396.3 L2501.1 1363.6 L2498.9 1482 L2496.7 1363.6 L2494.6 1365.1 L2492.4 1367.7 L2490.2 1439.3 L2488 1389.1 L2485.8 1484 L2483.6 1394.1 L2481.4 1403.6 L2479.2 1497.6 L2477 1360.6 L2474.8 1464.9 L2472.6 1417.3 L2470.4 1444.9 L2468.2 1414.3 L2466 1387.7 L2463.8 1380.8 L2461.6 1363.3 L2459.5 1415.8 L2457.3 1418.7 L2455.1 1391.2 L2452.9 1429.6 L2450.7 1499.9 L2448.5 1444.5 L2446.3 1380.7 L2444.1 1397.1 L2441.9 1358.4 L2439.7 1413.4 L2437.5 1407.9 L2435.3 1449.8 L2433.1 1402 L2430.9 1405.1 L2428.7 1491.8 L2426.5 1391.8 L2424.3 1367.8 L2422.2 1382.6 L2420 1409.2 L2417.8 1402.7 L2415.6 1358.1 L2413.4 1362.3 L2411.2 1352 L2409 1463.2 L2406.8 1367.8 L2404.6 1372.8 L2402.4 1357.6 L2400.2 1496.2 L2398 1383.6 L2395.8 1361.9 L2393.6 1389.2 L2391.4 1417.3 L2389.2 1410.3 L2387 1400.8 L2384.9 1340.2 L2382.7 1392.9 L2380.5 1387.1 L2378.3 1407 L2376.1 1395.8 L2373.9 1379.9 L2371.7 1376.4 L2369.5 1348.5 L2367.3 1403.5 L2365.1 1407.7 L2362.9 1430.8 L2360.7 1388.5 L2358.5 1364.5 L2356.3 1395.9 L2354.1 1358.8 L2351.9 1514.1 L2349.8 1439.8 L2347.6 1390.8 L2345.4 1411.2 L2343.2 1394.7 L2341 1459.4 L2338.8 1434.4 L2336.6 1388 L2334.4 1372.5 L2332.2 1340.9 L2330 1388.1 L2327.8 1393.2 L2325.6 1487.8 L2323.4 1378.1 L2321.2 1366.6 L2319 1364.3 L2316.8 1338.1 L2314.6 1347.1 L2312.5 1390.2 L2310.3 1375.9 L2308.1 1385.7 L2305.9 1461.5 L2303.7 1369.3 L2301.5 1373.6 L2299.3 1393.8 L2297.1 1370.9 L2294.9 1362 L2292.7 1378.4 L2290.5 1342.3 L2288.3 1444 L2286.1 1369.6 L2283.9 1374 L2281.7 1346.8 L2279.5 1389.8 L2277.4 1340.6 L2275.2 1406.5 L2273 1330.8 L2270.8 1349.9 L2268.6 1434.6 L2266.4 1341.5 L2264.2 1341.8 L2262 1359.8 L2259.8 1382.2 L2257.6 1465.2 L2255.4 1526.4 L2253.2 1478.5 L2251 1338.7 L2248.8 1416.3 L2246.6 1405.4 L2244.4 1402.5 L2242.2 1482.9 L2240.1 1342.5 L2237.9 1359.6 L2235.7 1369 L2233.5 1361.3 L2231.3 1355.5 L2229.1 1374.5 L2226.9 1356.8 L2224.7 1431.3 L2222.5 1447 L2220.3 1372.7 L2218.1 1470.2 L2215.9 1362.2 L2213.7 1382.3 L2211.5 1478.3 L2209.3 1424.6 L2207.1 1357.3 L2205 1339.7 L2202.8 1406 L2200.6 1421.2 L2198.4 1379.2 L2196.2 1394.4 L2194 1412.8 L2191.8 1416.8 L2189.6 1388 L2187.4 1455 Z" fill="#2247A0" stroke="#2247A0" stroke-width="1.2" stroke-linejoin="round"/>
<rect x="2187.4" y="945.5" width="943.4" height="656.9" fill="none" stroke="#2a2a2a" stroke-width="4"/>
<path d="M2187.4 1602.4v-8 M2187.4 945.5v8 M2344.6 1602.4v-8 M2344.6 945.5v8 M2501.9 1602.4v-8 M2501.9 945.5v8 M2659.1 1602.4v-8 M2659.1 945.5v8 M2816.3 1602.4v-8 M2816.3 945.5v8 M2973.6 1602.4v-8 M2973.6 945.5v8 M3130.8 1602.4v-8 M3130.8 945.5v8 M2187.4 1083h8 M3130.8 1083h-8 M2187.4 1256.1h8 M3130.8 1256.1h-8 M2187.4 1429.2h8 M3130.8 1429.2h-8 M2187.4 1602.3h8 M3130.8 1602.3h-8" stroke="#2a2a2a" stroke-width="3" fill="none"/>
<text class="ss" x="2170" y="1097.5" font-size="39" text-anchor="end" fill="#222">-40</text>
<text class="ss" x="2170" y="1270.6" font-size="39" text-anchor="end" fill="#222">-60</text>
<text class="ss" x="2170" y="1443.7" font-size="39" text-anchor="end" fill="#222">-80</text>
<text class="ss" x="2170" y="1616.8" font-size="39" text-anchor="end" fill="#222">-100</text>
<text class="ss" x="2182.4" y="1664" font-size="39" text-anchor="middle" fill="#222">-6</text>
<text class="ss" x="2339.6" y="1664" font-size="39" text-anchor="middle" fill="#222">-4</text>
<text class="ss" x="2496.9" y="1664" font-size="39" text-anchor="middle" fill="#222">-2</text>
<text class="ss" x="2659.1" y="1664" font-size="39" text-anchor="middle" fill="#222">0</text>
<text class="ss" x="2816.3" y="1664" font-size="39" text-anchor="middle" fill="#222">2</text>
<text class="ss" x="2973.6" y="1664" font-size="39" text-anchor="middle" fill="#222">4</text>
<text class="ss" x="3130.8" y="1664" font-size="39" text-anchor="middle" fill="#222">6</text>
<text class="ss" x="2656" y="929.5" font-size="38" text-anchor="middle" textLength="340" lengthAdjust="spacingAndGlyphs" fill="#222">Signal after DSM</text>
<text class="ss" x="2657" y="1692" font-size="38" text-anchor="middle" textLength="138" lengthAdjust="spacingAndGlyphs" fill="#222">f(GHz)</text>
<text class="ss" x="2092" y="1275" font-size="38" text-anchor="middle" textLength="582" lengthAdjust="spacingAndGlyphs" transform="rotate(-90 2092 1275)" fill="#222">Power Spectral Density(dBm)</text>
<text class="sr b" x="2667.5" y="996.5" font-size="54" text-anchor="middle" textLength="168" lengthAdjust="spacingAndGlyphs">1.5GHz</text>
<path d="M2597 1010V1131 M2721 1010V1131" stroke="#111" stroke-width="3.5" fill="none"/>
<path d="M2612 1043H2706" stroke="#111" stroke-width="4" fill="none"/>
<path d="M2599 1043l20 -10.5v21Z M2719 1043l-20 -10.5v21Z" fill="#111"/>
<text class="sr" x="50" y="1843" font-size="72">(e)</text>
<text class="ss b" x="451" y="1817.5" font-size="66" textLength="374" lengthAdjust="spacingAndGlyphs">Input Layer</text>
<text class="ss b" x="1382" y="1817.5" font-size="66" textLength="476" lengthAdjust="spacingAndGlyphs">Hidden Layers</text>
<text class="ss b" x="2378" y="1824.5" font-size="66" textLength="432" lengthAdjust="spacingAndGlyphs">Output Layer</text>
<rect x="494.5" y="1900" width="279.5" height="554.5" rx="3" fill="none" stroke="#4a4a4a" stroke-width="3.6"/>
<rect x="1143.5" y="1841" width="277" height="621" rx="3" fill="none" stroke="#161616" stroke-width="3.6"/>
<rect x="1800" y="1878" width="279.5" height="584" rx="3" fill="none" stroke="#333" stroke-width="3.6"/>
<rect x="2452.8" y="1929" width="278.4" height="517" rx="3" fill="none" stroke="#2a2a2a" stroke-width="3.6"/>
<path d="M405 2079L521 2032 M405 2079L521 2316.6 M405 2272.6L521 2032 M405 2272.6L521 2316.6 M748 2060.3L865.5 2098.3 M748 2060.3L865.5 2276 M748 2320L865.5 2098.3 M748 2320L865.5 2276 M1046.2 2095.4L1168.5 2051.9 M1046.2 2095.4L1168.5 2310.5 M1046.2 2273L1168.5 2051.9 M1046.2 2273L1168.5 2310.5 M1395.5 2051.9L1522.5 2082.2 M1395.5 2051.9L1522.5 2261.7 M1395.5 2292.7L1522.5 2082.2 M1395.5 2292.7L1522.5 2261.7 M1703.4 2096.5L1824 2048.3 M1703.4 2096.5L1824 2303.4 M1703.4 2274.9L1824 2048.3 M1703.4 2274.9L1824 2303.4 M2053.5 2053.7L2172.5 2096.5 M2053.5 2053.7L2172.5 2274.9 M2053.5 2315.9L2172.5 2096.5 M2053.5 2315.9L2172.5 2274.9 M2354.1 2096.5L2476.5 2062.6 M2354.1 2096.5L2476.5 2307 M2354.1 2274.9L2476.5 2062.6 M2354.1 2274.9L2476.5 2307 M2705 2060.8L2823.6 2096.5 M2705 2060.8L2823.6 2276.7 M2705 2324.8L2823.6 2096.5 M2705 2324.8L2823.6 2276.7" stroke="#1c1c1c" stroke-width="2.6" fill="none"/>
<rect x="224" y="1993.5" width="181" height="179.5" fill="#A896BD"/>
<rect x="224" y="2181.5" width="181" height="180.5" fill="#A896BD"/>
<rect x="864" y="1993.5" width="182" height="179.5" fill="#A896BD"/>
<rect x="864" y="2181.5" width="182" height="180.5" fill="#A896BD"/>
<rect x="1521.5" y="1993.5" width="181.9" height="179.5" fill="#A896BD"/>
<rect x="1521.5" y="2181.5" width="181.9" height="180.5" fill="#A896BD"/>
<rect x="2172.3" y="1993.5" width="181.7" height="179.5" fill="#A896BD"/>
<rect x="2172.3" y="2181.5" width="181.7" height="180.5" fill="#A896BD"/>
<rect x="2822.8" y="1994.5" width="183" height="180.5" fill="#A896BD"/>
<rect x="2822.8" y="2183" width="183" height="179.5" fill="#A896BD"/>
<ellipse cx="634" cy="2056" rx="115.5" ry="116.5" fill="#9BBB5C" stroke="#1b1b1b" stroke-width="3"/>
<ellipse cx="634" cy="2302.5" rx="115.5" ry="116.5" fill="#9BBB5C" stroke="#1b1b1b" stroke-width="3"/>
<ellipse cx="1282.6" cy="2053.7" rx="113.5" ry="117.5" fill="#9BBB5C" stroke="#1b1b1b" stroke-width="3"/>
<ellipse cx="1282.6" cy="2301.6" rx="113.5" ry="117.5" fill="#9BBB5C" stroke="#1b1b1b" stroke-width="3"/>
<ellipse cx="1938.8" cy="2053.7" rx="116" ry="117.5" fill="#9BBB5C" stroke="#1b1b1b" stroke-width="3"/>
<ellipse cx="1938.8" cy="2301.6" rx="116" ry="117.5" fill="#9BBB5C" stroke="#1b1b1b" stroke-width="3"/>
<ellipse cx="2590.6" cy="2053.7" rx="116" ry="117.5" fill="#9BBB5C" stroke="#1b1b1b" stroke-width="3"/>
<ellipse cx="2590.6" cy="2302.3" rx="116" ry="117.5" fill="#9BBB5C" stroke="#1b1b1b" stroke-width="3"/>
<text class="ss" x="260" y="2101" font-size="44" textLength="115" lengthAdjust="spacingAndGlyphs" fill="#1a1a1a" stroke="#1a1a1a" stroke-width="0.9">Re(X)</text>
<text class="ss" x="260" y="2288.5" font-size="44" textLength="112.5" lengthAdjust="spacingAndGlyphs" fill="#1a1a1a" stroke="#1a1a1a" stroke-width="0.9">Im(X)</text>
<text class="ss" x="888.5" y="2105.4" font-size="44" textLength="136.5" lengthAdjust="spacingAndGlyphs" fill="#1a1a1a" stroke="#1a1a1a" stroke-width="0.9">Re(Z<tspan font-size="60%" dy="5.7">1</tspan><tspan dy="-5.7">)</tspan></text>
<text class="ss" x="892" y="2294.5" font-size="44" textLength="133" lengthAdjust="spacingAndGlyphs" fill="#1a1a1a" stroke="#1a1a1a" stroke-width="0.9">Im(Z<tspan font-size="60%" dy="5.7">1</tspan><tspan dy="-5.7">)</tspan></text>
<text class="ss" x="1548" y="2101.8" font-size="44" textLength="135.7" lengthAdjust="spacingAndGlyphs" fill="#1a1a1a" stroke="#1a1a1a" stroke-width="0.9">Re(Z<tspan font-size="60%" dy="5.7">2</tspan><tspan dy="-5.7">)</tspan></text>
<text class="ss" x="1548" y="2289" font-size="44" textLength="128.6" lengthAdjust="spacingAndGlyphs" fill="#1a1a1a" stroke="#1a1a1a" stroke-width="0.9">Im(Z<tspan font-size="60%" dy="5.7">2</tspan><tspan dy="-5.7">)</tspan></text>
<text class="ss" x="2199" y="2101.8" font-size="44" textLength="135.8" lengthAdjust="spacingAndGlyphs" fill="#1a1a1a" stroke="#1a1a1a" stroke-width="0.9">Re(Z<tspan font-size="60%" dy="5.7">3</tspan><tspan dy="-5.7">)</tspan></text>
<text class="ss" x="2201.7" y="2289" font-size="44" textLength="125.6" lengthAdjust="spacingAndGlyphs" fill="#1a1a1a" stroke="#1a1a1a" stroke-width="0.9">Im(Z<tspan font-size="60%" dy="5.7">3</tspan><tspan dy="-5.7">)</tspan></text>
<text class="ss" x="2857" y="2104.7" font-size="44" textLength="118" lengthAdjust="spacingAndGlyphs" fill="#1a1a1a" stroke="#1a1a1a" stroke-width="0.9">Re(Y)</text>
<text class="ss" x="2857" y="2292.4" font-size="44" textLength="116" lengthAdjust="spacingAndGlyphs" fill="#1a1a1a" stroke="#1a1a1a" stroke-width="0.9">Im(Y)</text>
<text class="ss" x="554" y="2072" font-size="55" textLength="163.6" lengthAdjust="spacingAndGlyphs" fill="#1a1a1a" stroke="#1a1a1a" stroke-width="0.9">Re(W<tspan font-size="60%" dy="7.2">1</tspan><tspan dy="-7.2">)</tspan></text>
<text class="ss" x="557.4" y="2318.4" font-size="55" textLength="158.4" lengthAdjust="spacingAndGlyphs" fill="#1a1a1a" stroke="#1a1a1a" stroke-width="0.9">Im(W<tspan font-size="60%" dy="7.2">1</tspan><tspan dy="-7.2">)</tspan></text>
<text class="ss" x="1203" y="2071.5" font-size="55" textLength="162.5" lengthAdjust="spacingAndGlyphs" fill="#1a1a1a" stroke="#1a1a1a" stroke-width="0.9">Re(W<tspan font-size="60%" dy="7.2">2</tspan><tspan dy="-7.2">)</tspan></text>
<text class="ss" x="1203" y="2317.7" font-size="55" textLength="160.7" lengthAdjust="spacingAndGlyphs" fill="#1a1a1a" stroke="#1a1a1a" stroke-width="0.9">Im(W<tspan font-size="60%" dy="7.2">2</tspan><tspan dy="-7.2">)</tspan></text>
<text class="ss" x="1858.5" y="2071.5" font-size="55" textLength="165.9" lengthAdjust="spacingAndGlyphs" fill="#1a1a1a" stroke="#1a1a1a" stroke-width="0.9">Re(W<tspan font-size="60%" dy="7.2">3</tspan><tspan dy="-7.2">)</tspan></text>
<text class="ss" x="1862" y="2317.7" font-size="55" textLength="159.6" lengthAdjust="spacingAndGlyphs" fill="#1a1a1a" stroke="#1a1a1a" stroke-width="0.9">Im(W<tspan font-size="60%" dy="7.2">3</tspan><tspan dy="-7.2">)</tspan></text>
<text class="ss" x="2508.5" y="2071.5" font-size="55" textLength="167.7" lengthAdjust="spacingAndGlyphs" fill="#1a1a1a" stroke="#1a1a1a" stroke-width="0.9">Re(W<tspan font-size="60%" dy="7.2">4</tspan><tspan dy="-7.2">)</tspan></text>
<text class="ss" x="2512.8" y="2317.7" font-size="55" textLength="158.8" lengthAdjust="spacingAndGlyphs" fill="#1a1a1a" stroke="#1a1a1a" stroke-width="0.9">Im(W<tspan font-size="60%" dy="7.2">4</tspan><tspan dy="-7.2">)</tspan></text>
<text class="sr" x="44" y="2551" font-size="72">(f)</text>
<rect x="175" y="2498.7" width="2846.5" height="510.5" rx="68" fill="#D9D9D9"/>
<rect x="175" y="2498.7" width="2846.5" height="510.5" rx="68" fill="none" stroke="#111" stroke-width="6.3" stroke-linecap="round" stroke-dasharray="5.7 16" stroke-dashoffset="-6"/>
<rect x="218" y="2515" width="532" height="172.7" rx="46" fill="#F2F2F1" stroke="#111" stroke-width="7"/>
<text class="sr b" x="283" y="2626" font-size="78" textLength="405.5" lengthAdjust="spacingAndGlyphs" fill="#0b0b0b">QAM Mod.</text>
<rect x="803" y="2515" width="312.5" height="172.7" rx="46" fill="#F2F2F1" stroke="#2271B8" stroke-width="4.8"/>
<text class="sr b" x="854" y="2626" font-size="78" textLength="185" lengthAdjust="spacingAndGlyphs" fill="#0b0b0b">DSM</text>
<rect x="1170" y="2515" width="446" height="172.7" rx="46" fill="#F2F2F1" stroke="#111" stroke-width="7"/>
<text class="sr b" x="1247" y="2626" font-size="78" textLength="294" lengthAdjust="spacingAndGlyphs" fill="#0b0b0b">Channel</text>
<rect x="1667" y="2515" width="313" height="172.7" rx="46" fill="#F2F2F1" stroke="#F0A367" stroke-width="4.4"/>
<text class="sr b" x="1708" y="2626" font-size="78" textLength="230" lengthAdjust="spacingAndGlyphs" fill="#0b0b0b">CVNN</text>
<rect x="2043.5" y="2515" width="282.5" height="172.7" rx="46" fill="#F2F2F1" stroke="#2271B8" stroke-width="4.8"/>
<text class="sr b" x="2095" y="2626" font-size="78" textLength="185" lengthAdjust="spacingAndGlyphs" fill="#0b0b0b">DSM</text>
<rect x="2378.5" y="2515" width="578" height="172.7" rx="46" fill="#F2F2F1" stroke="#111" stroke-width="7"/>
<text class="sr b" x="2425.5" y="2626" font-size="78" textLength="490" lengthAdjust="spacingAndGlyphs" fill="#0b0b0b">QAM Demod.</text>
<rect x="331.3" y="2701" width="296.9" height="296.6" fill="#fff" stroke="#333" stroke-width="3.6"/>
<pattern id="qg" x="339.4" y="2710.6" width="4.3" height="4.3" patternUnits="userSpaceOnUse"><rect width="4.3" height="4.3" fill="#9CC4E4"/><rect width="3" height="3" fill="#2A7CC0"/></pattern>
<rect x="339.4" y="2710.6" width="274.6" height="275.7" fill="url(#qg)"/>
<rect x="806" y="2701" width="297" height="296.6" fill="#fff" stroke="#333" stroke-width="3.6"/>
<rect x="840.9" y="2740.5" width="19" height="19" fill="#1B6FB8"/>
<rect x="1056.7" y="2740.5" width="19" height="19" fill="#1B6FB8"/>
<rect x="840.9" y="2955.5" width="19" height="19" fill="#1B6FB8"/>
<rect x="1056.7" y="2955.5" width="19" height="19" fill="#1B6FB8"/>
<rect x="1235.2" y="2701" width="297.8" height="296.6" fill="#fff" stroke="#333" stroke-width="3.6"/>
<path d="M1492.1 2839L1495.6 2841.7L1492.4 2844.3L1489.9 2846.8L1493 2849.7L1488.7 2851.9L1488.3 2854.5L1505.2 2860L1493.9 2860.8L1495.2 2863.9L1495.4 2866.9L1495 2869.6L1487.5 2870.4L1487.2 2873.1L1486.3 2875.5L1485 2877.9L1487.8 2881.9L1485.7 2884L1481 2884.8L1489.7 2892L1479.2 2889.8L1477.9 2892.1L1484.9 2899.3L1478.5 2898.7L1477.5 2901.3L1470.4 2899.7L1473.2 2904.9L1467.4 2904L1470.9 2910.1L1464.4 2908.2L1471.1 2917.6L1461.3 2912.3L1460.9 2915.6L1467.5 2926.2L1455.4 2917.5L1454 2919.8L1455.7 2925.8L1450.4 2923.7L1447.9 2924.8L1448.7 2930.2L1443.2 2927.2L1441.6 2929.3L1441.6 2934.3L1440.1 2937.1L1436.2 2935.8L1433.9 2937.2L1431 2937.4L1428.7 2938.7L1427.5 2942.5L1422.9 2938.6L1422.3 2944.2L1418.2 2940.7L1417.4 2946.8L1414.8 2947.7L1411.5 2946L1411.1 2955.5L1405.7 2944.6L1403.2 2945.3L1401.1 2948.2L1398 2945.5L1395.3 2945.1L1393.1 2949L1390.4 2949.7L1387.9 2952.1L1385 2945.5L1382.4 2954.6L1379.8 2948.1L1377.2 2946.2L1374.2 2951.7L1371.7 2949.8L1368.5 2953.6L1367 2944.4L1363.6 2949L1361.9 2943.5L1358.7 2946.4L1356.4 2944.6L1354.3 2942.2L1350.4 2946.2L1347.8 2945.4L1345.1 2944.9L1343.8 2940.9L1339.8 2943.7L1338.7 2939.4L1334.9 2941.3L1333.2 2938.5L1330.9 2937L1330.4 2932.5L1324.7 2937.1L1323.4 2934L1321.1 2932.6L1320.1 2929.2L1319.5 2925.6L1317.7 2923.7L1313.5 2924.7L1310.4 2924.3L1308.8 2922.1L1303.9 2923.4L1304.6 2918.7L1305.4 2914.2L1300.9 2914.8L1297.8 2914L1297.3 2910.8L1297 2907.6L1292.5 2907.7L1294 2903.2L1285.7 2905.7L1288.2 2900.7L1287.5 2897.9L1281.7 2898.2L1287.6 2891.7L1285.5 2889.9L1283.7 2887.8L1280.3 2886.5L1277.5 2884.7L1268 2885.6L1279 2878.2L1271.2 2878.1L1266.9 2876.5L1274.2 2871.3L1275.2 2868.2L1274.6 2865.6L1272.6 2863.3L1273 2860.4L1269.6 2858.3L1273.7 2854.9L1275.5 2852L1274 2849.5L1272.4 2847L1270.5 2844.4L1270.1 2841.7L1275.4 2839L1262.3 2836.1L1271.5 2833.6L1273.5 2831.1L1270 2828.1L1269.8 2825.3L1272.3 2822.9L1272.2 2820.2L1273.3 2817.6L1277 2815.7L1272 2811.8L1275.9 2810L1278.2 2807.9L1275.2 2804.2L1281.5 2803.5L1279.1 2799.8L1269.8 2793.2L1284.5 2796.3L1284.8 2793.6L1276.7 2786.7L1284.8 2787.8L1284 2784.3L1284.6 2781.5L1280.6 2775.8L1290.1 2778.6L1290.4 2775.5L1293.2 2774.2L1294.6 2771.9L1297.3 2770.6L1296 2766.1L1298 2764.3L1301.6 2763.9L1305.2 2763.7L1305.5 2760.2L1309.8 2761L1309.3 2756.5L1310 2753.1L1313.5 2753.2L1317.5 2754.1L1318.1 2750.4L1318.1 2745.8L1317.7 2740.2L1323.1 2743.5L1326.7 2744.2L1330 2744.8L1324.5 2728.7L1335.2 2743.5L1336.9 2741L1339 2739.3L1336.5 2726.2L1344.4 2738.7L1346.5 2736.9L1348.3 2734.1L1351.2 2734.4L1351.8 2726.6L1355.8 2731.1L1358.6 2731.3L1361.1 2730.1L1364.2 2732.4L1366.2 2727.8L1369.3 2731.1L1371.5 2726.3L1374.2 2725.5L1377.2 2731.8L1379.7 2727.2L1382.4 2731.9L1385 2729.5L1387.6 2731.8L1390.9 2721.7L1393.2 2728.1L1397.2 2717.4L1398.6 2728.1L1401.2 2729.1L1403.8 2729.5L1406.2 2731.1L1410.3 2725.8L1410.7 2734.9L1414.9 2730L1419.4 2725L1418.8 2735.4L1421 2737.3L1424 2736.9L1430.9 2727.7L1429.9 2736.8L1431 2740.6L1433.2 2742.1L1434.7 2745L1436.4 2747.2L1441.7 2743.6L1444.2 2744.6L1444.5 2749L1447.1 2749.9L1450.6 2749.7L1453.3 2750.8L1454.7 2753.3L1454.9 2757.1L1459.3 2756.3L1460.7 2758.8L1460.7 2762.6L1460.7 2766.2L1470.3 2761.2L1467.3 2767.3L1466.7 2771.3L1470.9 2771.4L1472.4 2773.6L1473.2 2776.3L1477.6 2776.6L1477.2 2780.1L1488.9 2776.4L1480.2 2784.6L1484.7 2785.3L1486.2 2787.7L1485 2791.3L1483.4 2795L1484.8 2797.3L1486.3 2799.6L1483.3 2803.5L1500.9 2800.5L1485.5 2808.2L1486.2 2810.7L1502.5 2809.4L1489.3 2815.4L1491.2 2817.7L1489.3 2820.7L1491.8 2823L1493.3 2825.5L1488.4 2828.7L1499.8 2830.5L1491.5 2833.7L1507.4 2836Z" fill="#1B6FB8"/>
<path d="M1483.5 2802.2h3v3h-3zM1281.1 2887.1h3v3h-3zM1485.9 2869.4h4v4h-4zM1464 2943.4h3v3h-3zM1296.5 2773.6h4v4h-4zM1277.8 2868.9h2.5v2.5h-2.5zM1315.1 2923.9h3.5v3.5h-3.5zM1274 2879.7h4v4h-4zM1289.7 2770.7h4v4h-4zM1305.1 2927.8h3v3h-3zM1494.7 2804.5h3v3h-3zM1270.7 2852.3h3.5v3.5h-3.5zM1406.9 2726.9h3.5v3.5h-3.5zM1364.7 2952.1h3v3h-3zM1303.3 2751.4h3v3h-3zM1489.8 2805.5h3v3h-3zM1460.1 2764.9h2.5v2.5h-2.5zM1491.6 2845.5h2.5v2.5h-2.5zM1305.3 2763.5h3.5v3.5h-3.5zM1479.1 2886.4h3v3h-3zM1273.3 2803.1h3.5v3.5h-3.5zM1272.5 2850.1h3.5v3.5h-3.5zM1317 2937h2.5v2.5h-2.5zM1418.4 2733.3h3v3h-3zM1271.6 2879.4h4v4h-4zM1423.1 2736.1h3.5v3.5h-3.5zM1352.4 2953.4h3v3h-3zM1283 2887.6h2.5v2.5h-2.5zM1275.4 2865h2.5v2.5h-2.5zM1279 2886.1h4v4h-4zM1346.5 2952.3h2.5v2.5h-2.5zM1335.9 2956.2h2.5v2.5h-2.5zM1344.4 2733.2h3.5v3.5h-3.5zM1360.2 2944.9h3.5v3.5h-3.5zM1321.8 2747h2.5v2.5h-2.5zM1333.3 2939.2h3.5v3.5h-3.5zM1271.5 2884.5h3.5v3.5h-3.5zM1277.1 2867.2h3v3h-3zM1486.8 2900.1h2.5v2.5h-2.5zM1309.9 2923h4v4h-4zM1416 2726.3h3.5v3.5h-3.5zM1415.4 2730.8h3v3h-3zM1435 2944.9h3.5v3.5h-3.5zM1423.7 2738.1h2.5v2.5h-2.5zM1273.1 2807.9h2.5v2.5h-2.5zM1312.6 2741.5h2.5v2.5h-2.5zM1286.8 2784.9h2.5v2.5h-2.5zM1326.9 2933.4h2.5v2.5h-2.5zM1469.2 2775.2h3v3h-3zM1480.9 2908.2h4v4h-4zM1385.5 2947.9h3.5v3.5h-3.5zM1392.6 2728.5h3.5v3.5h-3.5zM1421.2 2735.9h3v3h-3zM1269.4 2843.5h2.5v2.5h-2.5zM1349.5 2716.8h4v4h-4zM1455 2743.5h2.5v2.5h-2.5zM1483.4 2754h2.5v2.5h-2.5zM1266.9 2821.6h2.5v2.5h-2.5zM1284.3 2891.6h3v3h-3zM1385.3 2947.4h4v4h-4zM1338.1 2738.2h4v4h-4zM1284.6 2888.9h2.5v2.5h-2.5zM1266.9 2859.9h3.5v3.5h-3.5zM1311.3 2743.7h3v3h-3zM1483 2777.1h2.5v2.5h-2.5zM1273.6 2775.5h2.5v2.5h-2.5zM1340.8 2939.5h3.5v3.5h-3.5zM1404.6 2945.8h4v4h-4zM1292.2 2777.8h3v3h-3zM1470 2770.7h3.5v3.5h-3.5zM1291.8 2746.4h4v4h-4zM1450.3 2749.6h4v4h-4zM1477.1 2782.4h2.5v2.5h-2.5zM1274.1 2850.9h2.5v2.5h-2.5zM1404.4 2944.9h4v4h-4zM1500.6 2821.1h3.5v3.5h-3.5zM1407.6 2734.5h3v3h-3zM1478.6 2761.7h3.5v3.5h-3.5zM1278.5 2872.7h4v4h-4zM1297.2 2772h3v3h-3zM1397.3 2731.8h3v3h-3zM1294 2736.2h3.5v3.5h-3.5zM1275.5 2828.3h3v3h-3zM1503 2840h3v3h-3zM1429.5 2742.2h3.5v3.5h-3.5zM1297.6 2764.4h4v4h-4zM1345.1 2738h3.5v3.5h-3.5zM1490.3 2852h3v3h-3zM1475.7 2785.2h4v4h-4zM1411.6 2948.4h4v4h-4zM1448.9 2940.3h3.5v3.5h-3.5zM1337.6 2940.7h3.5v3.5h-3.5zM1498.1 2837h2.5v2.5h-2.5zM1308.5 2928.7h2.5v2.5h-2.5zM1325.1 2738.2h2.5v2.5h-2.5zM1321.6 2750.8h4v4h-4zM1355.7 2730.1h3.5v3.5h-3.5zM1279.5 2795.1h2.5v2.5h-2.5zM1457.7 2743.3h3v3h-3zM1470.6 2776.2h4v4h-4zM1491.4 2793.8h3.5v3.5h-3.5zM1385.9 2725.6h2.5v2.5h-2.5zM1378 2947.7h2.5v2.5h-2.5zM1320.2 2953.1h4v4h-4zM1364.3 2730.3h4v4h-4zM1472.9 2898.3h2.5v2.5h-2.5zM1460.3 2923.5h3v3h-3zM1429.8 2939.5h4v4h-4zM1292.4 2779.7h3v3h-3zM1515.2 2866.4h4v4h-4zM1292.7 2898.4h4v4h-4zM1479.4 2791h3v3h-3zM1395.2 2719h4v4h-4zM1256 2852.8h2.5v2.5h-2.5zM1365.9 2725.7h3.5v3.5h-3.5zM1501 2825.5h2.5v2.5h-2.5zM1375.1 2947.4h3.5v3.5h-3.5zM1319.4 2751.4h4v4h-4zM1413.2 2944.8h3.5v3.5h-3.5zM1434.5 2737.1h3v3h-3zM1379.6 2952.1h3.5v3.5h-3.5zM1277 2806h3v3h-3zM1285.2 2790.1h3v3h-3zM1284.6 2795h3v3h-3zM1400.4 2732.3h4v4h-4zM1279.1 2785.2h3.5v3.5h-3.5zM1485.8 2906.2h3.5v3.5h-3.5zM1277.3 2863.9h3v3h-3zM1390.5 2952.4h2.5v2.5h-2.5zM1280.7 2798.5h3.5v3.5h-3.5zM1295.6 2774.7h2.5v2.5h-2.5zM1352.4 2960.3h3v3h-3zM1388.2 2728.6h3v3h-3zM1427 2943.1h2.5v2.5h-2.5zM1275.8 2870.4h3v3h-3zM1341.4 2947.3h4v4h-4zM1296.2 2762.8h2.5v2.5h-2.5zM1442.8 2932.3h2.5v2.5h-2.5zM1451.5 2925.7h4v4h-4zM1434.4 2939.1h3.5v3.5h-3.5zM1387.1 2967.2h2.5v2.5h-2.5zM1314.9 2755.6h3v3h-3zM1290.1 2903.3h2.5v2.5h-2.5zM1273.2 2859.9h4v4h-4zM1383.6 2726.7h4v4h-4zM1446.8 2735h4v4h-4zM1431.5 2742.8h2.5v2.5h-2.5zM1475.9 2775.7h4v4h-4zM1288.4 2890.4h2.5v2.5h-2.5zM1349.7 2948.8h4v4h-4zM1369.5 2725.5h3.5v3.5h-3.5zM1473.9 2755.9h3v3h-3zM1461.7 2917.7h4v4h-4zM1492.9 2819.8h2.5v2.5h-2.5zM1274.7 2821.1h3.5v3.5h-3.5zM1311 2731.2h2.5v2.5h-2.5zM1499.8 2838.5h3.5v3.5h-3.5zM1456.8 2756.2h3v3h-3zM1403.2 2955h2.5v2.5h-2.5zM1471 2777.5h3v3h-3zM1463 2918.4h4v4h-4zM1491.6 2839.4h3.5v3.5h-3.5zM1489.7 2855.2h4v4h-4zM1477.6 2765.3h4v4h-4zM1455.8 2929.2h3v3h-3zM1485.2 2869.5h3.5v3.5h-3.5zM1342.4 2944.1h4v4h-4zM1461.1 2763.9h2.5v2.5h-2.5zM1423.2 2953.4h3.5v3.5h-3.5zM1468.8 2775.7h3v3h-3zM1275.6 2816.5h2.5v2.5h-2.5zM1317.9 2750h3.5v3.5h-3.5zM1488.7 2812.7h4v4h-4zM1357.6 2733.7h4v4h-4zM1289 2894.1h3.5v3.5h-3.5zM1466.9 2919h3.5v3.5h-3.5zM1428.2 2938h3.5v3.5h-3.5zM1410.3 2731.9h2.5v2.5h-2.5zM1290.3 2780.6h3.5v3.5h-3.5zM1468.4 2772.7h3v3h-3zM1363.1 2952.5h2.5v2.5h-2.5zM1277.7 2864h2.5v2.5h-2.5zM1277 2818.3h3.5v3.5h-3.5zM1274.1 2813.2h2.5v2.5h-2.5zM1451.8 2955.5h3v3h-3zM1385.2 2948.6h2.5v2.5h-2.5zM1431.1 2954.1h2.5v2.5h-2.5zM1291.1 2751.2h4v4h-4zM1507 2841.1h2.5v2.5h-2.5zM1430.8 2941.6h3.5v3.5h-3.5zM1334.1 2940.3h2.5v2.5h-2.5zM1270.4 2827.2h3v3h-3zM1283.8 2773h2.5v2.5h-2.5zM1297.5 2770.5h4v4h-4zM1278 2806.6h3v3h-3zM1375.5 2952h4v4h-4zM1374.7 2947.5h2.5v2.5h-2.5zM1271.7 2784.6h3v3h-3zM1330.4 2940.9h4v4h-4zM1421.3 2733.4h3.5v3.5h-3.5zM1449 2755h2.5v2.5h-2.5zM1477.3 2776.5h3v3h-3zM1305.6 2763.9h4v4h-4zM1488.5 2867.9h3.5v3.5h-3.5zM1393.2 2727.1h3v3h-3zM1303.3 2914.4h4v4h-4zM1338.3 2726.2h4v4h-4zM1485.5 2880.7h3.5v3.5h-3.5zM1345.4 2728.4h2.5v2.5h-2.5zM1464.1 2924.3h3v3h-3zM1451.2 2927.2h2.5v2.5h-2.5zM1493.6 2841.3h3v3h-3zM1477.6 2900.6h4v4h-4zM1286.7 2888.2h2.5v2.5h-2.5zM1332.5 2733.2h3v3h-3zM1351.8 2942.6h3v3h-3zM1288.6 2891.9h3v3h-3zM1310 2922.2h3v3h-3zM1490.1 2866.4h2.5v2.5h-2.5zM1373.4 2725.7h3v3h-3zM1274.5 2864.8h3v3h-3zM1295 2919.9h3v3h-3zM1287.2 2892.6h3v3h-3zM1272.2 2852.8h4v4h-4zM1389.2 2727.1h4v4h-4zM1498.3 2834.1h4v4h-4zM1413.6 2945.3h2.5v2.5h-2.5zM1487.2 2871h3.5v3.5h-3.5zM1300.6 2761.3h3.5v3.5h-3.5zM1269.1 2830.3h3v3h-3zM1369.5 2948.8h3v3h-3zM1366.1 2721.2h3v3h-3zM1393.9 2722.4h2.5v2.5h-2.5zM1491.6 2853.1h4v4h-4zM1266.1 2876.8h4v4h-4zM1328.4 2944.6h2.5v2.5h-2.5zM1345.5 2947.3h4v4h-4zM1487.2 2866.5h3v3h-3zM1490.2 2860.8h4v4h-4zM1267.1 2854.6h3.5v3.5h-3.5zM1338.7 2941.9h4v4h-4zM1447.9 2925.9h3.5v3.5h-3.5zM1273.4 2814.6h3v3h-3zM1289.4 2919.4h3v3h-3zM1470.8 2905.5h3v3h-3zM1459.9 2933.1h4v4h-4zM1272.5 2790.7h3.5v3.5h-3.5zM1325 2748h3v3h-3zM1279.2 2799.6h2.5v2.5h-2.5zM1500.6 2804.8h3v3h-3zM1405.1 2732h4v4h-4zM1464.4 2915.8h4v4h-4zM1300.5 2912.7h4v4h-4zM1350.9 2734.7h4v4h-4zM1417.7 2952.2h3.5v3.5h-3.5zM1326.9 2745h2.5v2.5h-2.5zM1376.7 2713.3h3v3h-3zM1274.1 2853.9h3.5v3.5h-3.5zM1349.4 2737h4v4h-4zM1474.1 2925.5h4v4h-4zM1367.1 2948.7h3.5v3.5h-3.5zM1274.4 2860.4h3.5v3.5h-3.5zM1478.8 2886.1h3.5v3.5h-3.5zM1470.7 2767.6h3.5v3.5h-3.5zM1431.9 2725h4v4h-4zM1299.9 2912.3h3.5v3.5h-3.5zM1496.9 2861.6h3v3h-3zM1397.8 2725.2h4v4h-4zM1300.8 2769h2.5v2.5h-2.5zM1441.8 2730.4h4v4h-4zM1490.8 2815.7h3v3h-3zM1337.9 2738.9h4v4h-4zM1295.7 2943.3h3v3h-3zM1296.1 2771.7h3.5v3.5h-3.5zM1336 2740.2h2.5v2.5h-2.5zM1503.8 2778.6h2.5v2.5h-2.5zM1389.9 2951.1h2.5v2.5h-2.5zM1301.8 2759h3.5v3.5h-3.5zM1372.9 2946.4h2.5v2.5h-2.5zM1337.1 2946.8h4v4h-4zM1330.7 2716.1h3v3h-3zM1444.2 2935.6h4v4h-4zM1419.6 2735.7h4v4h-4zM1356.2 2954h4v4h-4zM1391.3 2947.9h3.5v3.5h-3.5zM1347.9 2717h3v3h-3zM1479.8 2744.6h2.5v2.5h-2.5zM1465.1 2766.6h4v4h-4zM1266.7 2830h2.5v2.5h-2.5zM1446.6 2943.8h4v4h-4zM1485.6 2875h4v4h-4zM1380.3 2954h3.5v3.5h-3.5zM1358.9 2731.4h3.5v3.5h-3.5zM1449.6 2753.5h3v3h-3zM1280.9 2793.2h3v3h-3zM1295.7 2754.5h3v3h-3zM1460.6 2917.4h3.5v3.5h-3.5zM1395.3 2946.8h2.5v2.5h-2.5zM1267.8 2859.5h3v3h-3zM1370 2947.8h3.5v3.5h-3.5zM1307.2 2757.4h3v3h-3zM1493.9 2874.2h2.5v2.5h-2.5zM1457.2 2760.1h3.5v3.5h-3.5zM1366.5 2704.3h2.5v2.5h-2.5zM1278.7 2909.9h4v4h-4zM1433.5 2933.6h4v4h-4zM1420.3 2723.6h3.5v3.5h-3.5zM1401.7 2954.5h4v4h-4zM1395.5 2704h4v4h-4zM1332.9 2742h3.5v3.5h-3.5zM1416 2736.1h3v3h-3zM1439.4 2740.9h3.5v3.5h-3.5zM1463.9 2763h3v3h-3zM1334.6 2934.9h3v3h-3zM1365.9 2948.8h3.5v3.5h-3.5zM1398.2 2950.1h3.5v3.5h-3.5zM1274.8 2802.9h3v3h-3zM1497 2888.1h3.5v3.5h-3.5zM1331 2745.1h3.5v3.5h-3.5zM1247.5 2853.1h3v3h-3zM1493.4 2833.2h2.5v2.5h-2.5zM1279.2 2900.4h4v4h-4zM1280.5 2800.6h3.5v3.5h-3.5zM1360.5 2966.3h3v3h-3zM1494 2835h2.5v2.5h-2.5zM1430.6 2934.8h3v3h-3zM1270 2810.9h3.5v3.5h-3.5zM1307.7 2930.5h3.5v3.5h-3.5zM1485.7 2882.1h3v3h-3zM1484.2 2882.1h3.5v3.5h-3.5zM1426.5 2728h4v4h-4zM1285.7 2909.9h2.5v2.5h-2.5zM1485.7 2795.2h4v4h-4zM1382 2965h2.5v2.5h-2.5zM1490.4 2845.4h3.5v3.5h-3.5zM1297.9 2910.4h3.5v3.5h-3.5zM1423.6 2736.4h4v4h-4zM1315.7 2926h3.5v3.5h-3.5zM1291.6 2777.9h3v3h-3zM1376.7 2730.3h3v3h-3zM1271.2 2805.8h3v3h-3zM1320.1 2927.6h3.5v3.5h-3.5zM1316.7 2929h2.5v2.5h-2.5zM1295.6 2902.3h2.5v2.5h-2.5zM1333.3 2940.9h3v3h-3zM1490 2853.1h2.5v2.5h-2.5zM1385.2 2731.1h3.5v3.5h-3.5zM1262 2895.6h3v3h-3zM1263.4 2839.5h3v3h-3zM1423.6 2739.6h4v4h-4zM1486.6 2803.5h3v3h-3zM1401.9 2727.8h2.5v2.5h-2.5zM1451.1 2931.2h4v4h-4zM1473.5 2782h3.5v3.5h-3.5zM1475.5 2759.6h4v4h-4zM1268.8 2835.5h2.5v2.5h-2.5zM1467.4 2920.3h4v4h-4zM1279.3 2882.7h4v4h-4zM1271.7 2837.9h2.5v2.5h-2.5zM1275.6 2828.8h4v4h-4zM1274.6 2876.4h2.5v2.5h-2.5zM1480.9 2793.9h4v4h-4zM1330.8 2935.4h3.5v3.5h-3.5zM1424.7 2942.7h4v4h-4zM1509.5 2882.5h4v4h-4zM1465.6 2908.8h3v3h-3zM1439.6 2733.9h3.5v3.5h-3.5zM1489.8 2834.7h2.5v2.5h-2.5zM1356.3 2732.9h3.5v3.5h-3.5zM1274 2871.2h4v4h-4zM1418.9 2942.3h3v3h-3zM1483.9 2889.6h4v4h-4zM1459.3 2763.8h4v4h-4zM1455.2 2745.3h2.5v2.5h-2.5zM1413.8 2735.3h3.5v3.5h-3.5zM1430.2 2938.3h3.5v3.5h-3.5zM1487.1 2808.8h3.5v3.5h-3.5zM1462.8 2912h4v4h-4zM1496.3 2861.6h4v4h-4zM1470.1 2776.7h3v3h-3zM1274.6 2816.9h3v3h-3zM1256.3 2789.1h4v4h-4zM1492.2 2849.6h3.5v3.5h-3.5zM1455.3 2731.2h3v3h-3zM1345.5 2736.9h3v3h-3zM1436.3 2939.3h2.5v2.5h-2.5zM1456.8 2917.3h3.5v3.5h-3.5zM1297.3 2768.5h3v3h-3zM1489.8 2844.4h3v3h-3zM1372.9 2728.9h3.5v3.5h-3.5zM1395.9 2731.1h2.5v2.5h-2.5zM1306.8 2757.2h4v4h-4zM1362.6 2945.3h2.5v2.5h-2.5zM1485.4 2799.4h4v4h-4zM1393.1 2952.4h3.5v3.5h-3.5zM1470.8 2925.4h2.5v2.5h-2.5zM1332.7 2738.8h4v4h-4zM1292.8 2915.4h3v3h-3zM1280.5 2873.2h4v4h-4zM1325.4 2937.7h3.5v3.5h-3.5zM1351.4 2951.2h3v3h-3zM1492.6 2849.5h3.5v3.5h-3.5zM1298.8 2909.9h2.5v2.5h-2.5zM1434.7 2728.7h2.5v2.5h-2.5zM1279 2808.3h3v3h-3zM1476.4 2897.3h3.5v3.5h-3.5zM1494.4 2860.6h3.5v3.5h-3.5zM1502.6 2831.4h2.5v2.5h-2.5zM1329 2744.7h2.5v2.5h-2.5zM1310.1 2924.5h3.5v3.5h-3.5zM1268 2853.7h2.5v2.5h-2.5zM1515.7 2813.9h4v4h-4zM1282.7 2883.3h2.5v2.5h-2.5zM1489.9 2837.4h4v4h-4zM1316 2739.8h3v3h-3zM1269.2 2826.2h4v4h-4zM1308.4 2917.9h4v4h-4zM1480.9 2906.8h2.5v2.5h-2.5zM1439.9 2938.9h3.5v3.5h-3.5zM1312.6 2723.7h4v4h-4zM1400 2732.4h4v4h-4zM1444.1 2930.8h3.5v3.5h-3.5zM1499.8 2796.3h2.5v2.5h-2.5zM1468.6 2909.3h2.5v2.5h-2.5zM1400.1 2732.7h2.5v2.5h-2.5zM1481.8 2884.1h2.5v2.5h-2.5zM1272.7 2832.3h3.5v3.5h-3.5zM1401.2 2731.4h4v4h-4zM1249.8 2867.4h4v4h-4zM1434.3 2933.6h3v3h-3zM1446.2 2752h3v3h-3zM1452.6 2928.3h3v3h-3zM1287.1 2902.5h2.5v2.5h-2.5zM1290.8 2894.4h3v3h-3zM1413.9 2735.8h4v4h-4zM1445 2933.1h2.5v2.5h-2.5zM1289.5 2902.2h2.5v2.5h-2.5zM1297.9 2909.1h3v3h-3zM1375.1 2946.7h4v4h-4zM1329 2937.8h3v3h-3zM1280 2792.4h2.5v2.5h-2.5zM1295.9 2906.6h3.5v3.5h-3.5zM1402.5 2944.8h4v4h-4zM1296.1 2915.4h3.5v3.5h-3.5zM1280.1 2871.7h2.5v2.5h-2.5zM1439.9 2933.8h3.5v3.5h-3.5zM1294.3 2903.2h2.5v2.5h-2.5zM1357.8 2734.6h3.5v3.5h-3.5zM1273.9 2849.9h4v4h-4zM1370.7 2728.9h2.5v2.5h-2.5zM1496.4 2844.1h3v3h-3zM1306.5 2924.4h3.5v3.5h-3.5zM1440.8 2747.1h2.5v2.5h-2.5zM1337.7 2942.2h3.5v3.5h-3.5zM1484.2 2874.3h3.5v3.5h-3.5zM1280.8 2775h4v4h-4zM1315.8 2750.6h2.5v2.5h-2.5zM1356.5 2952.1h2.5v2.5h-2.5zM1295.6 2904.9h3.5v3.5h-3.5zM1330.5 2936h3v3h-3zM1409.8 2727.2h2.5v2.5h-2.5zM1494.7 2838.8h4v4h-4zM1302.1 2759h3.5v3.5h-3.5zM1313.4 2757h3v3h-3zM1288.5 2787.5h4v4h-4zM1281.3 2895.9h2.5v2.5h-2.5zM1432.8 2934.2h3v3h-3zM1302 2916.6h4v4h-4zM1417.7 2733.1h2.5v2.5h-2.5zM1449.8 2725.7h3.5v3.5h-3.5zM1325.5 2741h2.5v2.5h-2.5zM1350.1 2732.8h2.5v2.5h-2.5zM1478.5 2787.9h4v4h-4zM1333.8 2935.7h2.5v2.5h-2.5zM1443.9 2929.6h4v4h-4zM1491.7 2860.8h4v4h-4zM1418.2 2950h4v4h-4zM1266.2 2843.7h4v4h-4zM1270.5 2830.9h3v3h-3zM1398.2 2730h2.5v2.5h-2.5zM1320.7 2928.2h3.5v3.5h-3.5zM1296.6 2922.7h4v4h-4zM1273.3 2872.3h4v4h-4zM1310.7 2927.6h4v4h-4zM1350.7 2732.6h2.5v2.5h-2.5zM1347 2735.8h3.5v3.5h-3.5zM1316.5 2928.6h2.5v2.5h-2.5zM1377.6 2946.4h3.5v3.5h-3.5zM1298.4 2920.4h4v4h-4zM1472.5 2780.3h3v3h-3zM1507 2819.9h4v4h-4zM1300.6 2909.5h3v3h-3zM1384.5 2731.2h3.5v3.5h-3.5zM1274.1 2838.6h3.5v3.5h-3.5zM1279.3 2792h3.5v3.5h-3.5zM1271 2846.3h3.5v3.5h-3.5zM1419.4 2737.7h3v3h-3zM1403.8 2945.6h3.5v3.5h-3.5zM1468.3 2920.5h3v3h-3zM1485.2 2763.7h3.5v3.5h-3.5zM1296.4 2937.7h3.5v3.5h-3.5zM1288.3 2762.9h3.5v3.5h-3.5zM1467.4 2909.7h3v3h-3zM1276.1 2813.7h3.5v3.5h-3.5zM1356.6 2949.5h3.5v3.5h-3.5zM1273.4 2849.4h3.5v3.5h-3.5zM1417.5 2714.1h3v3h-3zM1458.5 2761.8h3v3h-3zM1294.9 2767.2h3v3h-3zM1269.6 2814.1h3.5v3.5h-3.5zM1343.7 2943.5h3.5v3.5h-3.5zM1316.9 2746.7h4v4h-4zM1276.6 2871.3h3v3h-3zM1488 2800h3.5v3.5h-3.5zM1463.4 2768.1h2.5v2.5h-2.5zM1268.6 2781.1h2.5v2.5h-2.5zM1347.8 2940.3h2.5v2.5h-2.5zM1419.7 2943.2h3.5v3.5h-3.5zM1457 2761.6h2.5v2.5h-2.5zM1452.9 2925h3v3h-3zM1497.9 2826.5h2.5v2.5h-2.5zM1275.4 2883.9h2.5v2.5h-2.5zM1273.5 2820.6h4v4h-4zM1492.8 2783h2.5v2.5h-2.5zM1285 2894.8h2.5v2.5h-2.5zM1345.1 2738.5h2.5v2.5h-2.5zM1455.1 2921.3h3.5v3.5h-3.5zM1403.3 2946.5h3v3h-3zM1511.6 2819.4h3v3h-3zM1463.5 2739.2h2.5v2.5h-2.5zM1289.8 2763.4h3.5v3.5h-3.5zM1480.8 2795.1h3v3h-3zM1486.2 2812h2.5v2.5h-2.5zM1349.8 2943.9h2.5v2.5h-2.5zM1289.5 2894.6h3v3h-3zM1339.9 2734.5h2.5v2.5h-2.5zM1490 2839.5h3v3h-3zM1502.1 2820.3h4v4h-4zM1318 2926.9h4v4h-4zM1500.5 2850.1h3.5v3.5h-3.5zM1488.1 2871.7h3.5v3.5h-3.5zM1272.9 2824.4h3v3h-3zM1483.3 2792.3h3v3h-3zM1446.7 2927.4h4v4h-4zM1405.4 2963.8h3v3h-3zM1390.9 2954.1h3.5v3.5h-3.5zM1288.5 2774.7h2.5v2.5h-2.5zM1426 2939h3.5v3.5h-3.5zM1265 2831.8h3v3h-3zM1327.6 2732.9h2.5v2.5h-2.5zM1486.7 2895.1h3v3h-3zM1282.2 2877.5h3v3h-3zM1306.4 2919.2h2.5v2.5h-2.5zM1493.1 2832.4h3v3h-3zM1281.2 2895.4h3v3h-3zM1319.6 2940.5h4v4h-4zM1477 2776.2h2.5v2.5h-2.5zM1263.3 2857.2h2.5v2.5h-2.5zM1484 2873.4h2.5v2.5h-2.5zM1285.9 2888.3h2.5v2.5h-2.5zM1416.5 2957.9h3v3h-3zM1482.6 2793h3v3h-3zM1455.9 2929.9h2.5v2.5h-2.5zM1420.5 2940.2h3v3h-3zM1469.1 2760.1h4v4h-4zM1303.6 2925.8h3.5v3.5h-3.5zM1457 2937h3v3h-3zM1364.6 2724.4h2.5v2.5h-2.5zM1344.4 2940.7h2.5v2.5h-2.5zM1365.5 2950.6h4v4h-4zM1391.1 2726.4h2.5v2.5h-2.5zM1477.4 2892.4h2.5v2.5h-2.5zM1501.9 2774.9h3v3h-3zM1441.2 2932.1h2.5v2.5h-2.5zM1349.5 2953.8h4v4h-4zM1302.5 2948.6h4v4h-4zM1276.3 2862.7h4v4h-4zM1488.6 2824.2h4v4h-4zM1276.8 2809.5h2.5v2.5h-2.5zM1437.1 2943.1h3v3h-3zM1486.4 2813.1h4v4h-4zM1416.6 2731.8h2.5v2.5h-2.5zM1276.4 2862.6h2.5v2.5h-2.5zM1450.3 2956h3.5v3.5h-3.5zM1374.8 2953.4h3.5v3.5h-3.5zM1340.7 2738h3.5v3.5h-3.5zM1436.7 2932.6h4v4h-4zM1279.4 2887.8h3.5v3.5h-3.5zM1319.8 2948.8h3v3h-3zM1332 2735.9h3v3h-3zM1271.1 2861.4h3.5v3.5h-3.5zM1394.7 2711.1h3.5v3.5h-3.5zM1393 2952.4h3v3h-3zM1349.7 2733.7h2.5v2.5h-2.5zM1311 2759.2h4v4h-4zM1277.7 2798h4v4h-4zM1336.9 2732.7h4v4h-4zM1368.8 2951.9h4v4h-4zM1485.6 2877.2h4v4h-4zM1482.6 2879.9h2.5v2.5h-2.5zM1361.4 2948.6h2.5v2.5h-2.5zM1362.1 2944.5h4v4h-4zM1414.8 2734.6h2.5v2.5h-2.5zM1281 2889.7h2.5v2.5h-2.5zM1270.4 2846.1h3.5v3.5h-3.5zM1335.8 2944.9h3.5v3.5h-3.5zM1485.5 2787.5h4v4h-4zM1427.1 2711h3v3h-3zM1335 2729.2h3.5v3.5h-3.5zM1426.2 2727.5h3v3h-3zM1465.3 2914.5h3v3h-3zM1497.9 2871.9h3.5v3.5h-3.5zM1269.1 2859.9h4v4h-4zM1487.4 2791.6h2.5v2.5h-2.5zM1489.6 2822.9h3.5v3.5h-3.5zM1504.9 2825.2h3.5v3.5h-3.5zM1379.4 2953.4h3.5v3.5h-3.5zM1496.6 2828.2h3v3h-3zM1381.7 2723.2h4v4h-4zM1462.3 2751.4h2.5v2.5h-2.5zM1264.7 2784.4h4v4h-4zM1400.7 2954.4h2.5v2.5h-2.5zM1489.7 2854.5h3v3h-3zM1396.2 2952.8h2.5v2.5h-2.5zM1343.8 2733.1h3.5v3.5h-3.5zM1268.6 2863.1h2.5v2.5h-2.5zM1312.8 2745.9h2.5v2.5h-2.5zM1320.4 2950.7h2.5v2.5h-2.5zM1349.4 2965.8h3.5v3.5h-3.5zM1497.9 2811.3h3.5v3.5h-3.5zM1466.7 2908h4v4h-4zM1481.1 2882.4h2.5v2.5h-2.5zM1266.3 2858.9h3v3h-3zM1351.8 2963.7h3.5v3.5h-3.5zM1388.4 2949h2.5v2.5h-2.5zM1311.7 2950.7h3.5v3.5h-3.5zM1253.7 2817h4v4h-4zM1409.7 2963h4v4h-4zM1475.6 2785.1h4v4h-4zM1276.4 2886.5h3.5v3.5h-3.5zM1287 2781.6h2.5v2.5h-2.5zM1275.4 2820.2h2.5v2.5h-2.5zM1301 2767.1h3.5v3.5h-3.5zM1408.8 2728.1h3.5v3.5h-3.5zM1368.8 2957.9h2.5v2.5h-2.5zM1351.9 2731.4h4v4h-4zM1511.9 2819.2h3v3h-3zM1501.8 2804.1h2.5v2.5h-2.5zM1280.7 2805.7h4v4h-4zM1344.3 2734.2h3v3h-3zM1494.8 2835.7h3v3h-3zM1287.8 2905h4v4h-4zM1494.3 2872.6h3v3h-3zM1385.8 2952.6h4v4h-4zM1489.4 2850.4h4v4h-4zM1368.3 2725.2h3v3h-3zM1499.4 2804h4v4h-4zM1505.4 2828.7h2.5v2.5h-2.5zM1327.5 2931h4v4h-4zM1374 2716.1h3v3h-3zM1376.8 2958.3h3.5v3.5h-3.5zM1277.6 2874.2h4v4h-4zM1413.7 2946h3v3h-3zM1303.2 2760.9h3.5v3.5h-3.5zM1304.8 2764.2h4v4h-4zM1302.5 2758.6h4v4h-4zM1333.1 2737.8h4v4h-4zM1463.6 2768.4h3v3h-3zM1348.8 2951.3h4v4h-4zM1276.5 2884.8h3v3h-3zM1295.6 2775.3h3.5v3.5h-3.5zM1280.1 2796h4v4h-4zM1320.1 2931.3h2.5v2.5h-2.5zM1300 2767.7h4v4h-4zM1342 2964.3h4v4h-4zM1488.4 2880.8h3v3h-3zM1440.3 2744.4h3.5v3.5h-3.5zM1380 2725.2h3.5v3.5h-3.5zM1377.9 2955h4v4h-4zM1252 2801.7h3v3h-3zM1384.4 2725.1h2.5v2.5h-2.5zM1365 2951.3h4v4h-4zM1323.2 2951.6h4v4h-4zM1325.5 2745.2h4v4h-4zM1334.1 2742.6h2.5v2.5h-2.5zM1272.9 2866.8h4v4h-4zM1263.4 2783.5h3.5v3.5h-3.5zM1284.5 2883.1h2.5v2.5h-2.5zM1346.2 2949.5h3.5v3.5h-3.5zM1434.8 2741.4h3.5v3.5h-3.5zM1451.3 2929.6h2.5v2.5h-2.5zM1274.8 2811.7h4v4h-4zM1447.8 2927.4h3v3h-3zM1411.3 2942.2h2.5v2.5h-2.5zM1312.5 2757.7h3v3h-3zM1372.3 2950.9h2.5v2.5h-2.5zM1326.9 2744.4h3.5v3.5h-3.5zM1410.5 2952.2h3.5v3.5h-3.5zM1318.1 2944.6h3v3h-3z" fill="#1B6FB8"/>
<rect x="1670.4" y="2701" width="300.6" height="296.6" fill="#fff" stroke="#333" stroke-width="3.6"/>
<path d="M1766.8 2758.5L1762 2760.8L1766.2 2763.7L1764.1 2766L1763.7 2768.5L1761.7 2770.4L1764 2774.1L1766.7 2778.6L1759.9 2777.8L1757.9 2779.5L1755.8 2781L1754 2782.7L1757.4 2790.1L1751.7 2787.5L1749.8 2789.4L1747.4 2790.4L1743.5 2788.3L1742.6 2792.2L1740.1 2792.6L1737.5 2792.6L1735.1 2793.3L1732.8 2794.8L1730.4 2799.7L1727.8 2791.8L1724.9 2797.6L1723.3 2791L1719.2 2797.9L1716.7 2796.5L1713.3 2797.4L1714.1 2789.1L1710 2791.5L1708 2789.7L1706.2 2787.7L1703.8 2786.5L1704.2 2782.5L1701.2 2781.8L1698.6 2780.6L1699.7 2776.8L1697.9 2775L1698.7 2772L1695.2 2770.8L1692.2 2769.1L1694.1 2765.9L1684.2 2764.8L1694.8 2760.9L1692.3 2758.5L1688 2755.6L1694.4 2753.6L1688.4 2749.9L1695.3 2748.8L1686.4 2743L1694.7 2743.2L1696.1 2741L1696.2 2738L1699.6 2737.1L1703.5 2737.1L1705 2735.3L1706 2733L1705.4 2728.3L1707.9 2727.3L1709.9 2725.3L1714.5 2728.8L1714.7 2723L1718.4 2725.8L1720.8 2725.5L1722.8 2723.1L1725.4 2724.7L1727.7 2721L1730.2 2724.6L1732.9 2721.5L1735.5 2721.5L1738 2722.4L1740.3 2723.6L1743.1 2723.6L1745.3 2725L1749.8 2722.4L1750.2 2727L1752.4 2728.5L1752.6 2732.3L1754.4 2733.9L1754.4 2737.2L1756.9 2738.2L1757.4 2740.8L1761.6 2741.1L1764.1 2742.9L1760.6 2747L1764.3 2748.4L1766.5 2750.5L1761.7 2753.9L1770.4 2755.6Z" fill="#1B6FB8"/>
<path d="M1755.5 2782.4h3.5v3.5h-3.5zM1695.3 2745.8h3v3h-3zM1738.4 2790.2h3v3h-3zM1693.9 2770.3h2.5v2.5h-2.5zM1768.9 2779.8h2.5v2.5h-2.5zM1753.6 2784.7h3v3h-3zM1750.7 2726.2h3v3h-3zM1731.8 2717.8h2.5v2.5h-2.5zM1709.2 2785.5h3.5v3.5h-3.5zM1746.4 2786.8h2.5v2.5h-2.5zM1731.1 2797.8h3v3h-3zM1757.5 2775.7h3.5v3.5h-3.5zM1690.3 2729.8h2.5v2.5h-2.5zM1700.1 2739.5h3v3h-3zM1741.2 2789.9h3v3h-3zM1762.6 2775.3h2.5v2.5h-2.5zM1747.4 2791.4h4v4h-4zM1698.7 2777.8h2.5v2.5h-2.5zM1700.8 2782.4h2.5v2.5h-2.5zM1762.1 2755.9h3.5v3.5h-3.5zM1762.4 2744.1h4v4h-4zM1720.3 2792.5h3v3h-3zM1751.9 2794.7h3.5v3.5h-3.5zM1759 2743.1h2.5v2.5h-2.5zM1726 2793.5h3v3h-3zM1729.1 2716.1h3v3h-3zM1697.6 2725.9h3.5v3.5h-3.5zM1732.3 2724.9h2.5v2.5h-2.5zM1726.3 2713.3h3.5v3.5h-3.5zM1695.4 2737h3.5v3.5h-3.5zM1773.2 2758.2h3.5v3.5h-3.5zM1761.9 2750.1h4v4h-4zM1695.4 2759.2h2.5v2.5h-2.5zM1693.9 2773.9h3v3h-3zM1711.9 2793.2h3v3h-3zM1724.5 2798h2.5v2.5h-2.5zM1726.2 2794.2h3v3h-3zM1695.4 2749.3h4v4h-4zM1695.7 2746.1h2.5v2.5h-2.5zM1759.1 2785.1h3.5v3.5h-3.5zM1705.7 2729.9h2.5v2.5h-2.5zM1766.3 2774.7h3v3h-3zM1739.8 2726.1h4v4h-4zM1759.9 2719.5h4v4h-4zM1724.7 2796.3h3v3h-3zM1713.1 2796.6h4v4h-4zM1691.2 2749.2h3v3h-3zM1756.2 2785.9h2.5v2.5h-2.5zM1689.9 2779.5h3v3h-3zM1693.2 2741h2.5v2.5h-2.5zM1695.2 2794.8h3v3h-3zM1686.8 2769.5h3.5v3.5h-3.5zM1686.1 2745.2h3.5v3.5h-3.5zM1760.1 2746.4h2.5v2.5h-2.5zM1695.7 2763.5h3v3h-3zM1749.5 2731.3h3.5v3.5h-3.5zM1755.8 2786.4h3.5v3.5h-3.5zM1760.3 2740.9h3.5v3.5h-3.5zM1757.3 2733.2h3v3h-3zM1755 2728.2h3.5v3.5h-3.5zM1719.3 2799.5h4v4h-4zM1696.6 2765h4v4h-4zM1751.2 2728.8h3v3h-3zM1695.7 2756.3h3v3h-3zM1706.3 2786.2h2.5v2.5h-2.5zM1771.6 2756h3.5v3.5h-3.5zM1763.6 2775.8h4v4h-4zM1741 2724.5h4v4h-4zM1765.1 2741.3h3.5v3.5h-3.5zM1758.5 2774.9h4v4h-4zM1677.1 2747.4h3v3h-3zM1693.2 2771.6h2.5v2.5h-2.5zM1695.5 2733.5h4v4h-4zM1708.2 2730h4v4h-4zM1755.3 2736.3h2.5v2.5h-2.5zM1763.1 2759.2h3v3h-3zM1751.8 2783.5h2.5v2.5h-2.5zM1697.9 2744.7h3.5v3.5h-3.5zM1692.5 2771.4h2.5v2.5h-2.5zM1722.5 2791.2h3v3h-3zM1699.2 2773.7h2.5v2.5h-2.5zM1764.1 2753.1h4v4h-4zM1763.5 2733.6h3v3h-3zM1751.6 2716.4h3v3h-3zM1694.4 2765h4v4h-4zM1739.1 2796.5h2.5v2.5h-2.5zM1699.2 2775h4v4h-4zM1702.9 2734.6h4v4h-4zM1764.1 2734.2h2.5v2.5h-2.5zM1743.1 2726.8h3.5v3.5h-3.5zM1729.3 2796.4h3.5v3.5h-3.5zM1756.2 2731.2h3.5v3.5h-3.5zM1731.1 2723h4v4h-4zM1762.9 2721.8h3v3h-3zM1696.1 2766.2h2.5v2.5h-2.5zM1733.1 2793h4v4h-4zM1689.7 2759.4h3.5v3.5h-3.5zM1739.7 2790.2h3v3h-3zM1767.2 2752.4h3v3h-3zM1760.5 2778.5h4v4h-4zM1696.2 2780.3h3.5v3.5h-3.5zM1764.9 2736.1h2.5v2.5h-2.5zM1707.5 2730h3.5v3.5h-3.5zM1696.6 2745.5h3v3h-3zM1749 2728.6h2.5v2.5h-2.5zM1728.7 2793.8h2.5v2.5h-2.5zM1762.5 2752h3.5v3.5h-3.5zM1696.1 2737.2h3v3h-3zM1766.3 2753.9h2.5v2.5h-2.5zM1687.8 2749.5h4v4h-4zM1735.9 2803.8h3.5v3.5h-3.5zM1713.2 2710.5h3.5v3.5h-3.5zM1768.2 2740.8h3.5v3.5h-3.5zM1724.7 2725.6h3.5v3.5h-3.5zM1695.9 2759.2h4v4h-4zM1766.7 2778.4h2.5v2.5h-2.5zM1730.8 2795.3h4v4h-4zM1715 2788.6h4v4h-4zM1696.8 2771.7h3v3h-3zM1698 2796h2.5v2.5h-2.5zM1759.3 2789.2h2.5v2.5h-2.5zM1746.7 2793.9h2.5v2.5h-2.5zM1745.8 2793.5h3.5v3.5h-3.5zM1767.2 2756.6h3.5v3.5h-3.5zM1769.1 2747.3h2.5v2.5h-2.5zM1687.4 2765.6h2.5v2.5h-2.5zM1749.6 2790h4v4h-4zM1743.2 2719.7h4v4h-4zM1757.4 2777.1h2.5v2.5h-2.5zM1763.2 2718h3.5v3.5h-3.5zM1754.6 2780.8h3v3h-3zM1696.8 2744.7h3.5v3.5h-3.5zM1757.2 2780h4v4h-4zM1766.9 2758.8h2.5v2.5h-2.5zM1757.5 2739.1h3.5v3.5h-3.5zM1724.5 2800.2h3v3h-3zM1697 2778h3v3h-3zM1699.1 2773h2.5v2.5h-2.5zM1713.8 2728.4h3v3h-3zM1697.7 2736.8h4v4h-4zM1784.1 2759.5h4v4h-4zM1703.1 2732.1h4v4h-4zM1747.2 2796h4v4h-4zM1760.8 2745.3h2.5v2.5h-2.5zM1704.8 2785.7h2.5v2.5h-2.5zM1760.2 2738.7h3v3h-3zM1757.1 2740.2h3.5v3.5h-3.5zM1704.7 2725.7h3.5v3.5h-3.5zM1695.1 2772.7h4v4h-4zM1736.2 2716.5h3.5v3.5h-3.5zM1768.7 2751.4h3v3h-3zM1763.6 2768.6h3.5v3.5h-3.5zM1763.1 2742.1h4v4h-4zM1712.1 2728.4h3.5v3.5h-3.5zM1763.7 2765.2h3.5v3.5h-3.5zM1761 2786.4h2.5v2.5h-2.5zM1691.8 2734.7h4v4h-4zM1711.3 2787.8h3.5v3.5h-3.5zM1770.7 2762.5h3v3h-3zM1745.9 2798.5h2.5v2.5h-2.5zM1740.1 2792.6h4v4h-4zM1733.9 2717.6h3.5v3.5h-3.5zM1764.7 2768.6h2.5v2.5h-2.5zM1687 2766h3.5v3.5h-3.5zM1759.6 2745h3.5v3.5h-3.5zM1686.7 2727.3h2.5v2.5h-2.5zM1755.2 2807h3v3h-3zM1760.2 2743.8h4v4h-4zM1717.1 2793.1h3.5v3.5h-3.5zM1742.4 2803.5h2.5v2.5h-2.5zM1762.3 2769.5h3.5v3.5h-3.5zM1741.6 2724.6h2.5v2.5h-2.5zM1693.1 2734h2.5v2.5h-2.5zM1698.2 2777.5h3.5v3.5h-3.5zM1694.6 2772.7h2.5v2.5h-2.5zM1716.7 2791.2h3.5v3.5h-3.5zM1698.2 2780.9h3.5v3.5h-3.5zM1704 2785.4h2.5v2.5h-2.5zM1710 2790.4h4v4h-4zM1761.5 2779.9h2.5v2.5h-2.5zM1718.9 2792.2h2.5v2.5h-2.5zM1732.3 2801.3h2.5v2.5h-2.5zM1725.6 2725.5h2.5v2.5h-2.5zM1693.8 2771.5h2.5v2.5h-2.5zM1697.4 2776.1h4v4h-4zM1758.5 2779.1h3.5v3.5h-3.5zM1686.4 2757.7h3v3h-3zM1712.1 2725.8h2.5v2.5h-2.5zM1750.8 2720.6h2.5v2.5h-2.5zM1701.5 2738.7h2.5v2.5h-2.5zM1761.3 2747.6h3.5v3.5h-3.5zM1754.6 2791.2h4v4h-4zM1758.8 2783.9h4v4h-4zM1763.5 2760h4v4h-4zM1759.6 2729.4h3.5v3.5h-3.5zM1764.1 2749.6h4v4h-4zM1725.1 2725.3h2.5v2.5h-2.5zM1765.2 2766.2h3.5v3.5h-3.5zM1747.3 2792.2h4v4h-4zM1760 2745h4v4h-4zM1755.7 2785.4h2.5v2.5h-2.5zM1743.9 2791.2h4v4h-4zM1695.5 2753.2h3.5v3.5h-3.5zM1775 2740.4h3v3h-3zM1720 2725.4h4v4h-4zM1701 2736.4h3.5v3.5h-3.5zM1716.4 2789.1h2.5v2.5h-2.5zM1779.2 2735.8h2.5v2.5h-2.5zM1710.7 2730.3h2.5v2.5h-2.5zM1739.7 2712.8h3.5v3.5h-3.5zM1694.1 2747.6h3.5v3.5h-3.5zM1769.1 2751.2h4v4h-4zM1753.7 2784.2h3.5v3.5h-3.5zM1766.2 2747.9h3.5v3.5h-3.5zM1727.3 2724.6h3.5v3.5h-3.5zM1762.9 2752.2h3v3h-3zM1727.8 2724.8h2.5v2.5h-2.5zM1768.5 2738.5h3.5v3.5h-3.5zM1698.4 2744.9h2.5v2.5h-2.5zM1761.1 2767.5h4v4h-4zM1765.7 2769.8h4v4h-4zM1750 2731.3h3.5v3.5h-3.5zM1716.6 2724.9h2.5v2.5h-2.5zM1731.5 2722.7h4v4h-4zM1695.6 2766.6h4v4h-4zM1688.3 2774h2.5v2.5h-2.5zM1759.6 2804.3h3v3h-3zM1746.3 2729.4h4v4h-4zM1745.4 2723.7h3v3h-3zM1714.3 2728.8h3v3h-3z" fill="#1B6FB8"/>
<path d="M1939.5 2761L1937.2 2763.4L1935.3 2765.6L1934.8 2767.9L1939 2771.5L1936.6 2773.5L1937.5 2776.7L1936.5 2779.2L1930.3 2778.5L1932 2782.5L1930.3 2784.5L1926 2783.9L1926.8 2788.2L1924.7 2789.7L1923.2 2792L1920.1 2791.9L1920.2 2797.7L1915.4 2793.4L1913.2 2794.5L1912.6 2802.2L1909.7 2803.1L1906 2796.2L1903.5 2795.9L1901.1 2795.1L1898.1 2800.5L1895.7 2798.6L1893.6 2795.7L1891.6 2793.8L1889.8 2791.9L1887.1 2792.1L1883.6 2793.4L1881.9 2791.2L1876.7 2793.7L1877.4 2788.7L1874.5 2787.9L1876.4 2782.8L1872.7 2782.5L1873.7 2778.9L1870.6 2777.9L1867 2776.7L1870.9 2772.4L1869.2 2770.5L1868.3 2768.2L1867.8 2765.8L1864.2 2763.7L1864.2 2761L1868 2758.6L1869.1 2756.3L1860 2752L1869.9 2751.7L1860.2 2745.7L1871.9 2747.5L1869 2743.3L1865.2 2737.8L1875.5 2741.5L1873 2736.4L1878.1 2737.6L1877.5 2733.5L1879.3 2731.5L1882.5 2731.7L1885 2731.1L1885.6 2726.8L1888.3 2726.3L1888.7 2719.1L1893.3 2724.8L1895.2 2720.7L1898.8 2727.9L1901 2724.5L1903.5 2726.4L1906.3 2723.4L1908.5 2725.7L1910.8 2727L1913 2727.9L1917.1 2724.2L1918.3 2728.2L1918.9 2732.2L1921.5 2732.6L1925.6 2731.2L1932 2728L1929.8 2734.4L1934.5 2734L1937.6 2735.4L1930.5 2743.4L1938.3 2741.8L1933.5 2747.1L1936.6 2748.5L1934.5 2751.8L1934.9 2754.1L1939.6 2755.8L1939.9 2758.4Z" fill="#1B6FB8"/>
<path d="M1868.9 2787.5h2.5v2.5h-2.5zM1867.8 2751.1h3v3h-3zM1891.1 2711.2h4v4h-4zM1908 2794.9h4v4h-4zM1922.6 2733.1h2.5v2.5h-2.5zM1866.8 2758.9h2.5v2.5h-2.5zM1869.5 2755h4v4h-4zM1928.7 2736.5h3v3h-3zM1922 2796.9h3v3h-3zM1937 2760h4v4h-4zM1939.5 2782.5h4v4h-4zM1857.1 2787.2h2.5v2.5h-2.5zM1924.4 2786.7h3.5v3.5h-3.5zM1875.7 2727.4h3v3h-3zM1870.8 2742.3h4v4h-4zM1869.2 2762.8h3v3h-3zM1884.4 2721.8h4v4h-4zM1928.2 2738.6h4v4h-4zM1922.8 2723.2h3v3h-3zM1888.2 2792.4h4v4h-4zM1905.6 2724.2h3v3h-3zM1893.3 2796.3h3.5v3.5h-3.5zM1904.3 2714.9h3.5v3.5h-3.5zM1890 2796.9h3v3h-3zM1866.8 2748.2h3.5v3.5h-3.5zM1869.8 2769h4v4h-4zM1868.1 2765.3h2.5v2.5h-2.5zM1924.5 2731.8h4v4h-4zM1916.7 2712.1h2.5v2.5h-2.5zM1869.5 2745.6h3v3h-3zM1884.9 2724.1h3v3h-3zM1926.7 2783.9h4v4h-4zM1928.5 2782.2h2.5v2.5h-2.5zM1867.4 2732.1h3v3h-3zM1923.3 2717.6h2.5v2.5h-2.5zM1937.6 2766h2.5v2.5h-2.5zM1930.5 2719h2.5v2.5h-2.5zM1900.3 2794.2h3.5v3.5h-3.5zM1860.8 2787.7h3v3h-3zM1868.5 2767.6h4v4h-4zM1944.7 2768.7h4v4h-4zM1921.1 2788.2h3.5v3.5h-3.5zM1903.2 2799.8h3.5v3.5h-3.5zM1897.1 2723.3h3.5v3.5h-3.5zM1904.4 2726.2h3v3h-3zM1930 2738.6h2.5v2.5h-2.5zM1900.5 2800.3h3.5v3.5h-3.5zM1898.1 2719.2h3v3h-3zM1904 2794.6h3v3h-3zM1931.5 2738.5h3v3h-3zM1869.9 2798.5h3v3h-3zM1862.7 2730.8h3v3h-3zM1871.5 2743.5h4v4h-4zM1874.5 2739.7h4v4h-4zM1929.1 2730.2h3v3h-3zM1884.6 2731.1h2.5v2.5h-2.5zM1861.6 2778.9h3.5v3.5h-3.5zM1863.8 2756.7h2.5v2.5h-2.5zM1885.7 2726.8h3v3h-3zM1892.1 2797.9h3.5v3.5h-3.5zM1940.8 2727.7h3.5v3.5h-3.5zM1938.1 2765.8h4v4h-4zM1851 2770.4h2.5v2.5h-2.5zM1888.5 2723.4h3v3h-3zM1941.9 2762.9h3v3h-3zM1868.5 2756h4v4h-4zM1868.9 2767.1h4v4h-4zM1865.2 2755.1h3.5v3.5h-3.5zM1898.3 2722.8h3.5v3.5h-3.5zM1874.1 2735.7h3v3h-3zM1893.7 2795.8h4v4h-4zM1855.8 2763.1h3v3h-3zM1881.3 2787.7h4v4h-4zM1867 2756.8h3v3h-3zM1877.2 2783.3h2.5v2.5h-2.5zM1885.3 2798.9h3v3h-3zM1909.8 2725.3h4v4h-4zM1871.2 2737.2h3.5v3.5h-3.5zM1883.4 2728h2.5v2.5h-2.5zM1926.5 2731.9h2.5v2.5h-2.5zM1853.3 2784.8h4v4h-4zM1901 2725h3.5v3.5h-3.5zM1892.4 2792.7h3v3h-3zM1920.2 2797.4h3v3h-3zM1870.7 2747h3.5v3.5h-3.5zM1940.5 2784.8h2.5v2.5h-2.5zM1869.5 2750.6h4v4h-4zM1939.8 2780.9h3v3h-3zM1924.3 2732.7h3.5v3.5h-3.5zM1925.4 2736.4h4v4h-4zM1915.9 2730.9h4v4h-4zM1879.2 2807.5h3.5v3.5h-3.5zM1882 2792.4h2.5v2.5h-2.5zM1932.6 2744.2h3.5v3.5h-3.5zM1894.2 2794.1h3v3h-3zM1911.2 2794.4h3.5v3.5h-3.5zM1874.2 2740.2h4v4h-4zM1869.6 2723.8h3v3h-3zM1906.7 2815.9h3.5v3.5h-3.5zM1878.9 2789h4v4h-4zM1847.2 2762.1h3.5v3.5h-3.5zM1861.5 2798h4v4h-4zM1871.2 2783.3h4v4h-4zM1854.6 2741.9h3v3h-3zM1948.4 2791.2h2.5v2.5h-2.5zM1857.3 2753.5h3.5v3.5h-3.5zM1944 2752.9h4v4h-4zM1931.3 2783.6h3v3h-3zM1883.7 2796.5h4v4h-4zM1887.5 2795.1h3v3h-3zM1862.1 2735.2h3v3h-3zM1867 2766.5h2.5v2.5h-2.5zM1871 2779.6h3v3h-3zM1913.7 2796.3h4v4h-4zM1896.7 2799h2.5v2.5h-2.5zM1877.1 2739.2h3.5v3.5h-3.5zM1862.2 2759.6h3v3h-3zM1951.6 2764.4h3.5v3.5h-3.5zM1902.6 2705.9h3.5v3.5h-3.5zM1904.3 2798h3v3h-3zM1868.2 2758.9h2.5v2.5h-2.5zM1899.9 2706h2.5v2.5h-2.5zM1928 2782.2h2.5v2.5h-2.5zM1913.9 2793.9h4v4h-4zM1885 2793.5h3v3h-3zM1866.8 2773.8h4v4h-4zM1910 2727.1h2.5v2.5h-2.5zM1923.4 2735h3v3h-3zM1917.5 2795.9h3.5v3.5h-3.5zM1938.1 2762.7h4v4h-4zM1900.5 2794h4v4h-4zM1899.2 2797h3.5v3.5h-3.5zM1888.8 2728.3h3.5v3.5h-3.5zM1921.8 2732.5h3.5v3.5h-3.5zM1939.3 2762.6h3v3h-3zM1865.3 2771h4v4h-4zM1937.4 2764.9h4v4h-4zM1894 2724.2h3.5v3.5h-3.5zM1870.3 2750.4h4v4h-4zM1869.4 2735.6h4v4h-4zM1937.3 2749.1h3.5v3.5h-3.5zM1924.1 2793.5h2.5v2.5h-2.5zM1867.1 2788.1h2.5v2.5h-2.5zM1927.1 2789.7h3.5v3.5h-3.5zM1880 2785.4h4v4h-4zM1885 2732.6h4v4h-4zM1933.9 2775.2h3v3h-3zM1869.9 2768h3v3h-3zM1868.5 2755.6h2.5v2.5h-2.5zM1906.6 2726.2h4v4h-4zM1864.3 2770.7h4v4h-4zM1864.8 2784.5h3.5v3.5h-3.5zM1942.6 2723.4h3v3h-3zM1873.6 2743.9h3.5v3.5h-3.5zM1902.7 2799.8h4v4h-4zM1873.8 2738.3h3v3h-3zM1924.5 2802.7h2.5v2.5h-2.5zM1928.9 2737.7h3.5v3.5h-3.5zM1868.9 2759.7h2.5v2.5h-2.5zM1907.1 2718.1h4v4h-4zM1867.6 2772.6h3.5v3.5h-3.5zM1885.2 2801.3h4v4h-4zM1907 2803.7h4v4h-4zM1880.6 2785.9h3.5v3.5h-3.5zM1880.6 2730.1h3v3h-3zM1951.4 2786.1h2.5v2.5h-2.5zM1911.2 2727.2h2.5v2.5h-2.5zM1883.1 2732.9h3.5v3.5h-3.5zM1879.7 2793.2h3v3h-3zM1940.8 2733.5h4v4h-4zM1907.8 2796h3.5v3.5h-3.5zM1876.9 2718.8h4v4h-4zM1900.9 2794.3h4v4h-4zM1866.7 2765.6h2.5v2.5h-2.5zM1860.8 2742h3v3h-3zM1861.2 2755.4h2.5v2.5h-2.5zM1860.1 2730.6h4v4h-4zM1950.8 2775.6h4v4h-4zM1908.2 2806.1h3v3h-3zM1925.5 2731h3.5v3.5h-3.5zM1872 2744h2.5v2.5h-2.5zM1879.4 2791.7h3v3h-3zM1901.9 2726.7h4v4h-4zM1939.3 2767.4h4v4h-4zM1916.9 2730.4h3.5v3.5h-3.5zM1883.2 2731.6h3.5v3.5h-3.5zM1900.8 2720.5h3v3h-3zM1940.5 2749.1h3v3h-3zM1930.9 2778.9h3.5v3.5h-3.5zM1875.3 2784.7h3.5v3.5h-3.5zM1891 2793.8h3v3h-3zM1875.1 2780.7h3.5v3.5h-3.5zM1899.4 2795.1h3v3h-3zM1931.7 2733.2h3.5v3.5h-3.5zM1944.5 2735.5h4v4h-4zM1920.3 2793h2.5v2.5h-2.5zM1879 2787.7h3.5v3.5h-3.5zM1943.8 2762.9h2.5v2.5h-2.5zM1911.5 2729.3h2.5v2.5h-2.5zM1879.4 2735.9h3.5v3.5h-3.5zM1905.9 2799.7h4v4h-4zM1865.6 2741.8h3v3h-3zM1897.5 2795.9h3.5v3.5h-3.5zM1882.2 2789.3h2.5v2.5h-2.5zM1919.8 2726h4v4h-4zM1920.2 2724.5h2.5v2.5h-2.5zM1874.2 2733.9h4v4h-4zM1890.9 2793.3h3.5v3.5h-3.5zM1890.2 2727.2h3v3h-3zM1879.8 2717.9h4v4h-4zM1932.1 2777.2h4v4h-4zM1921.9 2791.8h3.5v3.5h-3.5zM1879 2784.6h2.5v2.5h-2.5zM1868.7 2789h2.5v2.5h-2.5zM1881.1 2730h3v3h-3zM1893.5 2725.4h3.5v3.5h-3.5zM1940.1 2761h3.5v3.5h-3.5zM1872.6 2739h3v3h-3zM1936.3 2747.2h2.5v2.5h-2.5zM1940.4 2762.8h4v4h-4zM1867.5 2765.6h3.5v3.5h-3.5zM1867.5 2756.5h4v4h-4zM1867.3 2768.3h2.5v2.5h-2.5zM1870.4 2788.8h3.5v3.5h-3.5zM1853.9 2747.2h2.5v2.5h-2.5zM1864.6 2740.9h4v4h-4zM1941 2788.1h4v4h-4zM1882.9 2732.5h4v4h-4zM1867.8 2763.3h2.5v2.5h-2.5zM1890.6 2721.4h3v3h-3z" fill="#1B6FB8"/>
<path d="M1766.1 2935L1764.8 2937.6L1763.1 2940L1764 2942.8L1763.4 2945.3L1771.2 2950.9L1764.9 2951.7L1759.7 2952.1L1767.3 2959.9L1757.8 2957L1753 2956.4L1752.5 2959.2L1751.5 2961.6L1750.8 2964.8L1747.2 2964.2L1750 2973.9L1742.4 2965.5L1740.8 2968L1739.2 2971.1L1737.9 2976.7L1734 2971.6L1731.9 2977.3L1728.8 2971.1L1726.2 2972L1723.5 2973.3L1721.7 2967.9L1719.4 2967.3L1714.3 2975.6L1714.8 2966.5L1710.5 2969.8L1709.4 2966.4L1703.3 2970.8L1704.7 2964.2L1702.5 2962.8L1702.2 2959.4L1700.5 2957.6L1696.9 2957.2L1694.8 2955.5L1694.6 2952.5L1696.2 2948.9L1695.7 2946.6L1695.4 2944.2L1694.6 2942L1691.6 2940L1691.4 2937.5L1692 2935L1694.6 2932.7L1693.8 2930.3L1693.4 2927.7L1695 2925.7L1693.8 2922.7L1693.3 2919.8L1696 2918.3L1696.3 2915.5L1698.4 2913.8L1697.9 2910.1L1699.8 2908.3L1701.7 2906.3L1700.1 2900L1706.1 2903.2L1703.8 2893.9L1711.4 2902L1715.1 2904.3L1715.8 2898.9L1719 2901L1721.6 2901.3L1723.7 2898.7L1726.2 2896.3L1728.9 2895.3L1731.3 2899L1733.5 2901L1736.9 2897.5L1738 2902.6L1740.7 2902.4L1744.3 2900.5L1745.1 2904.6L1747.9 2904.7L1748.9 2907.7L1749.6 2910.5L1751.8 2911.5L1756.8 2910.4L1758.6 2912.4L1758.1 2915.9L1759.1 2918.2L1762.8 2919.3L1760.5 2923L1762.4 2925L1761.5 2927.8L1761.4 2930.2L1765.6 2932.3Z" fill="#1B6FB8"/>
<path d="M1760.3 2947.3h3.5v3.5h-3.5zM1759.6 2956.9h2.5v2.5h-2.5zM1724.2 2898.3h3v3h-3zM1772.5 2917.9h3.5v3.5h-3.5zM1762.9 2957.9h2.5v2.5h-2.5zM1735.4 2896.7h3v3h-3zM1696 2913h4v4h-4zM1695.5 2949.5h2.5v2.5h-2.5zM1700.2 2954.8h2.5v2.5h-2.5zM1766.3 2964.4h3v3h-3zM1730.7 2973.1h3v3h-3zM1698.8 2956.1h3v3h-3zM1680.4 2916.8h2.5v2.5h-2.5zM1692.5 2909.3h2.5v2.5h-2.5zM1761.1 2954.9h2.5v2.5h-2.5zM1763 2918.9h3v3h-3zM1701.8 2957.2h3.5v3.5h-3.5zM1758.2 2949.4h3v3h-3zM1685.4 2936.5h4v4h-4zM1717.7 2903.1h4v4h-4zM1749.8 2963.4h2.5v2.5h-2.5zM1767.1 2961.9h3v3h-3zM1710.6 2886.6h4v4h-4zM1743.6 2970.3h4v4h-4zM1744 2969.1h3v3h-3zM1698 2920.2h3v3h-3zM1729.7 2968.1h3v3h-3zM1756.7 2903.3h3v3h-3zM1737.5 2896.3h3.5v3.5h-3.5zM1694.8 2923.7h3v3h-3zM1692.9 2938.2h3.5v3.5h-3.5zM1698.2 2918.6h3v3h-3zM1760.3 2926.3h2.5v2.5h-2.5zM1695.2 2951.8h3v3h-3zM1715.4 2966.1h3v3h-3zM1694.7 2939.1h4v4h-4zM1710.3 2972.3h4v4h-4zM1755.6 2910.5h4v4h-4zM1702.4 2968.1h2.5v2.5h-2.5zM1702.8 2968.1h3.5v3.5h-3.5zM1742.7 2894.5h4v4h-4zM1758.3 2961.7h3.5v3.5h-3.5zM1685.2 2940.9h2.5v2.5h-2.5zM1688.7 2907.4h3.5v3.5h-3.5zM1712.9 2896.4h4v4h-4zM1761.1 2916.2h4v4h-4zM1678.3 2924.3h3.5v3.5h-3.5zM1730.2 2968.3h3.5v3.5h-3.5zM1733.9 2970.2h4v4h-4zM1761.9 2935.4h4v4h-4zM1686.7 2935.5h3.5v3.5h-3.5zM1758.2 2960.9h3.5v3.5h-3.5zM1760.1 2956.2h3v3h-3zM1690.2 2933.7h4v4h-4zM1724.7 2979.6h4v4h-4zM1746.2 2883.2h2.5v2.5h-2.5zM1760.6 2932.3h4v4h-4zM1747.9 2890.7h3v3h-3zM1688.5 2908.8h3v3h-3zM1720.9 2897.2h2.5v2.5h-2.5zM1758 2948.5h3v3h-3zM1696.2 2907.6h3.5v3.5h-3.5zM1692.3 2934.2h3v3h-3zM1741.7 2881.7h2.5v2.5h-2.5zM1746.9 2905.6h3.5v3.5h-3.5zM1766.9 2923.9h3.5v3.5h-3.5zM1711.4 2984.1h3.5v3.5h-3.5zM1725.3 2973.1h3.5v3.5h-3.5zM1704.7 2959.4h4v4h-4zM1710.4 2895.2h2.5v2.5h-2.5zM1749.7 2910.3h3.5v3.5h-3.5zM1703.3 2963.9h2.5v2.5h-2.5zM1772.6 2941.8h3.5v3.5h-3.5zM1756 2973.3h2.5v2.5h-2.5zM1684.8 2932.9h3v3h-3zM1674.6 2919.6h2.5v2.5h-2.5zM1736.7 2898.1h2.5v2.5h-2.5zM1700.2 2915.5h3.5v3.5h-3.5zM1722.2 2901.8h2.5v2.5h-2.5zM1759.2 2947.9h3.5v3.5h-3.5zM1693.2 2917.7h2.5v2.5h-2.5zM1695.8 2894h3v3h-3zM1687.3 2931.3h3v3h-3zM1749.6 2903.4h3v3h-3zM1760.1 2925.7h4v4h-4zM1740.6 2988.5h3v3h-3zM1771.7 2939.2h2.5v2.5h-2.5zM1694.1 2953.5h2.5v2.5h-2.5zM1723.1 2972.2h2.5v2.5h-2.5zM1758.7 2960.6h2.5v2.5h-2.5zM1763.6 2933.7h2.5v2.5h-2.5zM1694.5 2928.6h3.5v3.5h-3.5zM1757.9 2912.9h4v4h-4zM1699.7 2894.7h3.5v3.5h-3.5zM1729.7 2897.8h3v3h-3zM1724.7 2899.3h3v3h-3zM1762.5 2941.4h4v4h-4zM1746.4 2903.7h3v3h-3zM1689.8 2941.8h3.5v3.5h-3.5zM1745.2 2902.9h3.5v3.5h-3.5zM1759.2 2953.5h3.5v3.5h-3.5zM1753.3 2955.9h2.5v2.5h-2.5zM1739.8 2971.2h2.5v2.5h-2.5zM1736.4 2978.9h3v3h-3zM1729.5 2901h2.5v2.5h-2.5zM1750.5 2960.4h3.5v3.5h-3.5zM1694.7 2920.3h3v3h-3zM1750.3 2896.2h2.5v2.5h-2.5zM1774.2 2952.3h3v3h-3zM1697.7 2949.3h3.5v3.5h-3.5zM1702.3 2913.6h3v3h-3zM1699.2 2952.7h3.5v3.5h-3.5zM1755.3 2958.7h3v3h-3zM1727.6 2901.4h3v3h-3zM1718.3 2894.9h3.5v3.5h-3.5zM1775.9 2956.7h3v3h-3zM1691.9 2928.7h2.5v2.5h-2.5zM1682.5 2938.8h3v3h-3zM1759.6 2943.1h2.5v2.5h-2.5zM1760.9 2943.2h3.5v3.5h-3.5zM1710.1 2906.8h3.5v3.5h-3.5zM1711.1 2973h4v4h-4zM1690 2937.8h2.5v2.5h-2.5zM1692.3 2962.5h3v3h-3zM1763.2 2914.9h2.5v2.5h-2.5zM1736.5 2896.9h4v4h-4zM1742.8 2901.3h2.5v2.5h-2.5zM1768.8 2928.1h3.5v3.5h-3.5zM1755.9 2912.5h3v3h-3zM1683.8 2934.4h3.5v3.5h-3.5zM1726.3 2898.8h3.5v3.5h-3.5zM1713.9 2899.9h3.5v3.5h-3.5zM1694.7 2925.5h3v3h-3zM1759.1 2968.6h3.5v3.5h-3.5zM1690.9 2935.6h4v4h-4zM1713.9 2901.8h3.5v3.5h-3.5zM1737.9 2885.3h2.5v2.5h-2.5zM1761.3 2932.5h3.5v3.5h-3.5zM1734.2 2967.4h3.5v3.5h-3.5zM1735.3 2895.1h3.5v3.5h-3.5zM1680.6 2912.1h2.5v2.5h-2.5zM1754.1 2960.1h4v4h-4zM1677.2 2946.9h2.5v2.5h-2.5zM1753.1 2912.1h4v4h-4zM1764.7 2947.6h3v3h-3zM1760.7 2891h4v4h-4zM1724.8 2901.5h4v4h-4zM1766 2950.6h3v3h-3zM1703.3 2959.9h2.5v2.5h-2.5zM1760.5 2944.9h3.5v3.5h-3.5zM1764.6 2922.5h4v4h-4zM1758.9 2916.2h2.5v2.5h-2.5zM1712.8 2899.1h4v4h-4zM1742.6 2966.3h3.5v3.5h-3.5zM1755.2 2916.5h3v3h-3zM1686.4 2946.5h3.5v3.5h-3.5zM1762.5 2955.6h2.5v2.5h-2.5zM1721.5 2967.8h3.5v3.5h-3.5zM1711.9 2904h2.5v2.5h-2.5zM1731.6 2968.9h4v4h-4zM1699.3 2911.3h2.5v2.5h-2.5zM1685.3 2970.5h3.5v3.5h-3.5zM1745.7 2901.7h3v3h-3zM1761 2931.7h4v4h-4zM1732.7 2896.9h3.5v3.5h-3.5zM1702.5 2912.6h4v4h-4zM1764.2 2921.1h3.5v3.5h-3.5zM1767.8 2901.2h2.5v2.5h-2.5zM1732.2 2973.8h3.5v3.5h-3.5zM1694.7 2900.2h2.5v2.5h-2.5zM1760.6 2952.8h3v3h-3zM1694.7 2970h4v4h-4zM1704.1 2902.5h3.5v3.5h-3.5zM1754.9 2971.4h3v3h-3zM1722.7 2896.7h2.5v2.5h-2.5zM1762.6 2941.5h4v4h-4zM1763.6 2923.1h2.5v2.5h-2.5zM1688.7 2939h4v4h-4zM1726.9 2979.2h3v3h-3zM1748.9 2906.7h4v4h-4zM1755.2 2960.1h3v3h-3zM1725.7 2900.6h2.5v2.5h-2.5zM1764.8 2939.1h2.5v2.5h-2.5zM1745.1 2902.8h2.5v2.5h-2.5zM1706.6 2965.5h3v3h-3zM1695.2 2927.4h2.5v2.5h-2.5zM1779.9 2918h3v3h-3zM1696.2 2924.4h3v3h-3zM1761.3 2938.3h4v4h-4zM1775.2 2924.1h3.5v3.5h-3.5zM1760.7 2953.5h3.5v3.5h-3.5zM1771.6 2902.8h2.5v2.5h-2.5zM1693.7 2952.8h4v4h-4zM1697.7 2920.5h4v4h-4zM1703.6 2901.5h3.5v3.5h-3.5zM1678.2 2940.4h3v3h-3zM1732.3 2883.5h2.5v2.5h-2.5zM1696.2 2947h2.5v2.5h-2.5zM1746.6 2908h3.5v3.5h-3.5zM1705.6 2908.5h3v3h-3zM1738.7 2897.2h2.5v2.5h-2.5zM1740.4 2891.7h4v4h-4zM1773 2932.4h4v4h-4zM1724.6 2891.7h2.5v2.5h-2.5zM1754.1 2900h3v3h-3zM1777.4 2927.8h3v3h-3zM1744.1 2976.5h3.5v3.5h-3.5zM1744.9 2964.2h3.5v3.5h-3.5zM1703.1 2911.2h3v3h-3zM1688.2 2936.2h2.5v2.5h-2.5zM1756.8 2962.8h4v4h-4zM1759 2916.4h4v4h-4zM1742.7 2888.6h2.5v2.5h-2.5zM1707.1 2978.2h2.5v2.5h-2.5zM1743.5 2905.7h3.5v3.5h-3.5zM1719 2884.4h3.5v3.5h-3.5zM1695.7 2958.4h2.5v2.5h-2.5zM1692.9 2922h3.5v3.5h-3.5zM1760.7 2942.6h3v3h-3zM1761 2941.2h3.5v3.5h-3.5zM1763 2940h4v4h-4zM1703 2911.8h3v3h-3zM1730.2 2976.2h3.5v3.5h-3.5zM1697 2954.9h2.5v2.5h-2.5zM1759.7 2957h4v4h-4zM1725.3 2971.8h3.5v3.5h-3.5zM1696.9 2956.6h2.5v2.5h-2.5zM1713 2903.9h3v3h-3zM1761.7 2938.2h4v4h-4zM1698.2 2912.5h4v4h-4z" fill="#1B6FB8"/>
<path d="M1939.3 2933L1939.5 2935.6L1940.4 2938.4L1938.1 2940.6L1944.5 2945.1L1935.6 2945.1L1936.5 2948.2L1933.3 2949.5L1935 2953.4L1931.1 2953.9L1931 2957.1L1932.4 2962L1924.7 2957.9L1924.2 2961L1923.9 2965L1923.3 2969.3L1918.1 2965.3L1915.7 2966.2L1913.7 2968.1L1910.3 2965.3L1908.3 2966.9L1906 2968.4L1903.6 2971.5L1901 2969.5L1898.8 2966.4L1896.4 2966.6L1893.5 2968.3L1890.6 2969.1L1885.4 2974.9L1887 2964.3L1883.9 2964.8L1880.8 2964.8L1880.7 2960.7L1878.1 2959.9L1874.8 2959.6L1876.7 2954.5L1871.4 2955.5L1870.3 2953L1870.6 2949.9L1871.3 2946.8L1866.8 2945.9L1865.2 2943.6L1867 2940.5L1867.3 2937.9L1855.1 2936.3L1865.4 2933L1865.1 2930.4L1865.7 2927.9L1866.5 2925.4L1865.7 2922.5L1869.2 2921L1862.4 2915.2L1871.8 2916.8L1873.5 2915L1874.5 2912.8L1874.5 2909.7L1875.9 2907.5L1877.3 2905.2L1880.5 2905.1L1883.2 2904.7L1883.2 2899.8L1887.7 2903L1886.6 2894.2L1889.2 2892.6L1893.6 2898L1896.1 2897.6L1898.4 2895.8L1901 2896L1903.5 2897.3L1906.5 2893.1L1908.7 2896.7L1911.6 2895.6L1913.4 2899L1918.7 2892.5L1918.4 2900.1L1924.6 2894.4L1922.2 2903.6L1923.5 2905.9L1924.8 2908.1L1926.3 2909.8L1929 2910.6L1931 2912.1L1930.4 2915.4L1936.4 2914.8L1932.6 2919.5L1935.2 2921L1936.1 2923.3L1937.2 2925.6L1936 2928.3L1938.5 2930.5Z" fill="#1B6FB8"/>
<path d="M1900 2896.4h3v3h-3zM1871.8 2892.9h4v4h-4zM1890.3 2967.3h4v4h-4zM1920.6 2968.2h3.5v3.5h-3.5zM1935.1 2926.9h3v3h-3zM1933.6 2947.3h4v4h-4zM1932.8 2893.2h2.5v2.5h-2.5zM1933.3 2921.1h3.5v3.5h-3.5zM1866.7 2969h4v4h-4zM1891.1 2967.1h4v4h-4zM1924.7 2906.9h2.5v2.5h-2.5zM1857.4 2934.3h3v3h-3zM1867.6 2954h2.5v2.5h-2.5zM1878.9 2961.2h2.5v2.5h-2.5zM1929.3 2911.3h2.5v2.5h-2.5zM1896.3 2982.8h4v4h-4zM1872.4 2948.5h3v3h-3zM1883.2 2903.7h3v3h-3zM1862.5 2942.5h4v4h-4zM1898.6 2966.6h3.5v3.5h-3.5zM1886.3 2965.3h2.5v2.5h-2.5zM1936.4 2916.1h4v4h-4zM1870.4 2911.6h4v4h-4zM1869 2939.6h3.5v3.5h-3.5zM1935.8 2936.6h3v3h-3zM1866.9 2970.8h2.5v2.5h-2.5zM1874.3 2969.7h3v3h-3zM1940.7 2956.7h3.5v3.5h-3.5zM1911.2 2898.9h4v4h-4zM1888.1 2897.5h3v3h-3zM1867.8 2938.7h2.5v2.5h-2.5zM1879.4 2906.6h3.5v3.5h-3.5zM1942 2931.5h3v3h-3zM1929.2 2963.3h2.5v2.5h-2.5zM1929 2964.3h3v3h-3zM1866.8 2921.4h4v4h-4zM1901.6 2974.9h4v4h-4zM1868.5 2909.2h4v4h-4zM1922.5 2903.8h3.5v3.5h-3.5zM1936.4 2957.8h2.5v2.5h-2.5zM1931.6 2977h2.5v2.5h-2.5zM1873.8 2912.6h3.5v3.5h-3.5zM1858.8 2937.8h3.5v3.5h-3.5zM1860.7 2952.1h3.5v3.5h-3.5zM1856.1 2953.2h3.5v3.5h-3.5zM1869.3 2935.6h4v4h-4zM1935.4 2907.6h3.5v3.5h-3.5zM1880.3 2957.8h4v4h-4zM1941.5 2959.6h3.5v3.5h-3.5zM1926.4 2901.9h3.5v3.5h-3.5zM1894.4 2965.2h4v4h-4zM1931.6 2917.2h2.5v2.5h-2.5zM1915.2 2901.3h3v3h-3zM1899 2972.2h3.5v3.5h-3.5zM1868.6 2930.3h3.5v3.5h-3.5zM1875.9 2897.2h3.5v3.5h-3.5zM1870.4 2922.6h3v3h-3zM1928.3 2906.7h4v4h-4zM1934.4 2955.9h4v4h-4zM1863 2928.5h3.5v3.5h-3.5zM1943 2938.3h3v3h-3zM1920.7 2896.2h2.5v2.5h-2.5zM1904.1 2899.1h2.5v2.5h-2.5zM1861.3 2961.7h3v3h-3zM1864.7 2917h4v4h-4zM1939.3 2940h3v3h-3zM1914.4 2899.7h4v4h-4zM1938.3 2936h2.5v2.5h-2.5zM1900.7 2894.9h2.5v2.5h-2.5zM1895.7 2900.6h3.5v3.5h-3.5zM1913.2 2965h3v3h-3zM1870.8 2920.8h3v3h-3zM1884.6 2893.5h4v4h-4zM1924.3 2905.1h3v3h-3zM1869 2912.7h3v3h-3zM1873.3 2965.8h4v4h-4zM1918.8 2967h4v4h-4zM1878 2909h2.5v2.5h-2.5zM1881.1 2965.5h2.5v2.5h-2.5zM1901.8 2966.9h3v3h-3zM1889 2964.4h4v4h-4zM1868.9 2941.1h3v3h-3zM1924 2901h4v4h-4zM1862.9 2919.3h4v4h-4zM1932.6 2902h4v4h-4zM1877.6 2955.7h2.5v2.5h-2.5zM1873.2 2911.3h4v4h-4zM1935.5 2929.8h2.5v2.5h-2.5zM1916 2899h2.5v2.5h-2.5zM1880.5 2960h3.5v3.5h-3.5zM1881.9 2959h3v3h-3zM1927.6 2905.5h2.5v2.5h-2.5zM1901.5 2975h3.5v3.5h-3.5zM1921.2 2895.1h4v4h-4zM1897.9 2888.3h3v3h-3zM1860 2954.8h4v4h-4zM1892.9 2979h3.5v3.5h-3.5zM1872.5 2950.6h4v4h-4zM1921 2965.1h3.5v3.5h-3.5zM1861.4 2939.8h2.5v2.5h-2.5zM1909.2 2899.9h4v4h-4zM1867.7 2955.5h3v3h-3zM1860.3 2932.5h4v4h-4zM1886.8 2962.2h4v4h-4zM1903 2898.9h4v4h-4zM1935.3 2957.6h3.5v3.5h-3.5zM1925.6 2906h3.5v3.5h-3.5zM1868.2 2915.6h3.5v3.5h-3.5zM1890.6 2887.7h2.5v2.5h-2.5zM1894.2 2893.5h3v3h-3zM1931.5 2915.5h3v3h-3zM1931.1 2975.4h4v4h-4zM1936.6 2914h3v3h-3zM1868.5 2932.6h4v4h-4zM1903.2 2967.9h2.5v2.5h-2.5zM1874.5 2966.9h3.5v3.5h-3.5zM1878.5 2956.3h3.5v3.5h-3.5zM1944.4 2915.9h4v4h-4zM1914.6 2890.4h2.5v2.5h-2.5zM1937.5 2900.9h3v3h-3zM1939.7 2966.8h3v3h-3zM1931 2902.8h2.5v2.5h-2.5zM1915.8 2896h2.5v2.5h-2.5zM1928.4 2910.8h4v4h-4zM1946.8 2948.5h3.5v3.5h-3.5zM1945.1 2938.8h3.5v3.5h-3.5zM1933.6 2919.5h3v3h-3zM1940.9 2927.6h3v3h-3zM1929.9 2907.6h3v3h-3zM1869.3 2925.2h3.5v3.5h-3.5zM1888.6 2893h2.5v2.5h-2.5zM1940.5 2917.6h4v4h-4zM1865.7 2906.4h3.5v3.5h-3.5zM1917.1 2969.3h3.5v3.5h-3.5zM1896.2 2896.2h3.5v3.5h-3.5zM1863.1 2926.7h2.5v2.5h-2.5zM1851.8 2942.8h4v4h-4zM1922.9 2900.4h3.5v3.5h-3.5zM1926.9 2895.9h3v3h-3zM1903 2898.7h4v4h-4zM1936.7 2903.7h2.5v2.5h-2.5zM1933 2950.6h3.5v3.5h-3.5zM1876 2953.4h3.5v3.5h-3.5zM1878.1 2960h2.5v2.5h-2.5zM1921.9 2959.9h3.5v3.5h-3.5zM1906.2 2969.4h3.5v3.5h-3.5zM1884.5 2961.2h3v3h-3zM1937.9 2917h3v3h-3zM1865.8 2924.3h2.5v2.5h-2.5zM1879.8 2957.8h4v4h-4zM1930.6 2915.9h3v3h-3zM1944.6 2943.9h2.5v2.5h-2.5zM1870.4 2949.6h4v4h-4zM1891.6 2965.9h3.5v3.5h-3.5zM1891 2888.2h3v3h-3zM1933.2 2945.3h2.5v2.5h-2.5zM1923.4 2959.3h3.5v3.5h-3.5zM1892.6 2965.6h4v4h-4zM1878.8 2961.6h3v3h-3zM1918 2966.8h2.5v2.5h-2.5zM1898.6 2887.3h4v4h-4zM1889.7 2970h4v4h-4zM1926.1 2908.2h4v4h-4zM1954.7 2925.3h3v3h-3zM1914.1 2965.2h2.5v2.5h-2.5zM1871.8 2946h3.5v3.5h-3.5zM1925.6 2959.1h3v3h-3zM1940.8 2952.3h3.5v3.5h-3.5zM1874.4 2958.8h4v4h-4zM1895.4 2899.3h3.5v3.5h-3.5zM1919.8 2963h4v4h-4zM1923.1 2962.7h2.5v2.5h-2.5zM1868.4 2958.9h3.5v3.5h-3.5zM1914.8 2970.5h4v4h-4zM1869.1 2932.8h3.5v3.5h-3.5zM1869.6 2949.9h3v3h-3zM1935.1 2938.1h3.5v3.5h-3.5zM1900 2893.6h3.5v3.5h-3.5zM1863.2 2907.5h4v4h-4zM1865.8 2921.7h3v3h-3zM1935.6 2908.3h4v4h-4zM1894.9 2972h3v3h-3zM1923.8 2904.4h4v4h-4zM1925.8 2903.5h2.5v2.5h-2.5zM1883 2960.6h3v3h-3zM1935.9 2939.6h2.5v2.5h-2.5zM1923.1 2984h3v3h-3zM1928.5 2953.8h4v4h-4zM1881 2907.6h2.5v2.5h-2.5zM1874.2 2958h3.5v3.5h-3.5zM1896.3 2981.7h3v3h-3zM1938.5 2961.8h2.5v2.5h-2.5zM1875.7 2910.1h3v3h-3zM1915.2 2901.2h4v4h-4zM1935.9 2925.6h3.5v3.5h-3.5zM1899 2899.5h2.5v2.5h-2.5zM1860.6 2934h4v4h-4zM1886.4 2901h4v4h-4zM1928.6 2961.5h3v3h-3zM1937.9 2908.5h3.5v3.5h-3.5zM1865.4 2940.5h2.5v2.5h-2.5zM1877.3 2900.8h3.5v3.5h-3.5zM1853.8 2934.4h4v4h-4zM1885.6 2904.3h4v4h-4zM1902.5 2966.3h3v3h-3zM1921 2905.8h3.5v3.5h-3.5zM1919.4 2901.7h4v4h-4zM1920.3 2962.8h4v4h-4zM1871.3 2946.6h4v4h-4zM1919.3 2965.7h3v3h-3zM1935.5 2950.4h2.5v2.5h-2.5zM1952.7 2921.1h2.5v2.5h-2.5zM1910.7 2878.5h3.5v3.5h-3.5zM1932.8 2889h3v3h-3zM1882.9 2903.9h3v3h-3zM1952.4 2951.9h3v3h-3zM1898.1 2967.6h2.5v2.5h-2.5zM1868.6 2931.1h4v4h-4zM1867.2 2948.9h3v3h-3zM1928.6 2955.1h3.5v3.5h-3.5zM1937.8 2919.9h4v4h-4zM1902.5 2981.3h2.5v2.5h-2.5zM1871.1 2948h2.5v2.5h-2.5zM1869.8 2946.4h3.5v3.5h-3.5zM1924.9 2961.4h4v4h-4zM1886.1 2969.8h3.5v3.5h-3.5zM1864.5 2951.2h3v3h-3zM1910.5 2898.8h3.5v3.5h-3.5zM1898.7 2966.3h3v3h-3zM1942.2 2951.6h2.5v2.5h-2.5z" fill="#1B6FB8"/>
<rect x="2031.7" y="2701" width="298.6" height="296.6" fill="#fff" stroke="#333" stroke-width="3.6"/>
<rect x="2041.5" y="2708" width="280" height="279" fill="#3C8CCD"/>
<path d="M2041.8 2709h3.4v3.4h-3.4zM2055.1 2708.8h2.2v2.2h-2.2zM2064.5 2708.4h3v3h-3zM2085.3 2708.7h2.6v2.6h-2.6zM2094.3 2708.1h2.6v2.6h-2.6zM2111.6 2709h2.6v2.6h-2.6zM2116.1 2708.4h3.4v3.4h-3.4zM2120.5 2708.1h3v3h-3zM2124.9 2708.6h3.4v3.4h-3.4zM2129.5 2708.7h2.6v2.6h-2.6zM2134.3 2708.1h2.6v2.6h-2.6zM2156 2709.2h3.4v3.4h-3.4zM2160 2708.5h3.4v3.4h-3.4zM2169.3 2708.1h2.6v2.6h-2.6zM2177.4 2708.2h2.2v2.2h-2.2zM2191.4 2708.6h3.4v3.4h-3.4zM2199.7 2708.3h3v3h-3zM2229.7 2708.1h3.4v3.4h-3.4zM2247.2 2708.3h2.6v2.6h-2.6zM2252.1 2708.4h2.2v2.2h-2.2zM2265.6 2708.6h2.6v2.6h-2.6zM2283.1 2708.2h3.4v3.4h-3.4zM2287.1 2708.3h2.2v2.2h-2.2zM2308.7 2709.1h3v3h-3zM2318 2708.9h3v3h-3zM2046 2713h2.2v2.2h-2.2zM2068 2713.3h2.6v2.6h-2.6zM2072.4 2713.4h2.2v2.2h-2.2zM2076.6 2712.4h2.6v2.6h-2.6zM2094.3 2713.3h2.2v2.2h-2.2zM2112 2713h2.2v2.2h-2.2zM2120.3 2712.9h2.6v2.6h-2.6zM2159.9 2713.2h3.4v3.4h-3.4zM2185.9 2712.6h3.4v3.4h-3.4zM2200 2712.6h3v3h-3zM2203.9 2713.3h3.4v3.4h-3.4zM2208.2 2713.3h3.4v3.4h-3.4zM2212.3 2713.1h2.2v2.2h-2.2zM2234.6 2712.7h3.4v3.4h-3.4zM2238.9 2713.1h3.4v3.4h-3.4zM2243.6 2712.5h3.4v3.4h-3.4zM2247.7 2712.6h2.2v2.2h-2.2zM2252.2 2713.2h2.6v2.6h-2.6zM2269.6 2713.4h2.2v2.2h-2.2zM2274.4 2712.4h2.6v2.6h-2.6zM2287.3 2712.6h2.2v2.2h-2.2zM2291.4 2712.7h2.6v2.6h-2.6zM2295.6 2713.4h2.2v2.2h-2.2zM2300 2713.1h2.6v2.6h-2.6zM2304.6 2712.4h2.2v2.2h-2.2zM2309.1 2713.2h3.4v3.4h-3.4zM2041.5 2717.4h3.4v3.4h-3.4zM2054.7 2717.7h2.2v2.2h-2.2zM2059.3 2717.1h2.2v2.2h-2.2zM2067.9 2717.6h2.2v2.2h-2.2zM2072.8 2717.2h3.4v3.4h-3.4zM2081.9 2717.7h2.6v2.6h-2.6zM2103 2717h2.6v2.6h-2.6zM2121 2717.5h2.2v2.2h-2.2zM2125.3 2717.4h3.4v3.4h-3.4zM2133.6 2717.6h2.6v2.6h-2.6zM2155.5 2717.3h3v3h-3zM2177.1 2717.8h3.4v3.4h-3.4zM2182.2 2717.2h3.4v3.4h-3.4zM2204.1 2717.6h3v3h-3zM2208.3 2717.2h3v3h-3zM2226.4 2716.8h3.4v3.4h-3.4zM2243.9 2717.6h2.2v2.2h-2.2zM2251.9 2716.8h3v3h-3zM2261.2 2717h2.6v2.6h-2.6zM2270 2717.9h3v3h-3zM2282.7 2717.1h3v3h-3zM2287.3 2717.3h2.6v2.6h-2.6zM2291.8 2717.3h2.6v2.6h-2.6zM2300.4 2717.1h2.2v2.2h-2.2zM2313.7 2717.1h2.6v2.6h-2.6zM2317.6 2717.8h2.2v2.2h-2.2zM2042.6 2721.7h3v3h-3zM2059.7 2721.9h3v3h-3zM2081.9 2721.3h3v3h-3zM2090.3 2722.3h2.2v2.2h-2.2zM2094.5 2721.2h2.2v2.2h-2.2zM2108.2 2721.6h2.2v2.2h-2.2zM2116.7 2722.3h2.2v2.2h-2.2zM2129.3 2721.7h3.4v3.4h-3.4zM2134.1 2721.5h3v3h-3zM2160.6 2722.1h3.4v3.4h-3.4zM2177.6 2721.5h2.2v2.2h-2.2zM2195 2722.1h2.2v2.2h-2.2zM2221.7 2721.2h3.4v3.4h-3.4zM2239.2 2721.9h3v3h-3zM2260.6 2722.1h2.6v2.6h-2.6zM2265.1 2721.7h3v3h-3zM2282.7 2721.6h3v3h-3zM2304.8 2721.8h3v3h-3zM2309.5 2721.2h3v3h-3zM2042.4 2725.7h3v3h-3zM2050.4 2726.2h2.6v2.6h-2.6zM2055.1 2725.6h2.6v2.6h-2.6zM2077.7 2726h3.4v3.4h-3.4zM2081.2 2726.2h2.2v2.2h-2.2zM2094.6 2726.4h2.6v2.6h-2.6zM2107.3 2725.8h2.6v2.6h-2.6zM2125 2725.7h3v3h-3zM2138.9 2726.7h3v3h-3zM2147.2 2726.4h2.6v2.6h-2.6zM2151.2 2725.5h3v3h-3zM2168.8 2726.3h2.6v2.6h-2.6zM2173.9 2726.2h2.6v2.6h-2.6zM2178 2726.4h2.6v2.6h-2.6zM2181.9 2726.2h3.4v3.4h-3.4zM2190.5 2725.7h3v3h-3zM2195.7 2725.7h3.4v3.4h-3.4zM2199.6 2726.2h2.6v2.6h-2.6zM2207.9 2726.5h3.4v3.4h-3.4zM2212.2 2726.1h2.6v2.6h-2.6zM2238.4 2726.1h2.6v2.6h-2.6zM2243.9 2726.6h3v3h-3zM2287.7 2725.7h2.6v2.6h-2.6zM2291.5 2725.5h3.4v3.4h-3.4zM2309 2726.2h3.4v3.4h-3.4zM2313.5 2725.7h3v3h-3zM2046.1 2730.4h2.6v2.6h-2.6zM2059.5 2730h3v3h-3zM2072.4 2730.1h2.2v2.2h-2.2zM2094.5 2730.4h2.2v2.2h-2.2zM2099.4 2730.7h3v3h-3zM2111.7 2730.6h2.2v2.2h-2.2zM2125.7 2730.4h2.2v2.2h-2.2zM2129.8 2730.5h3v3h-3zM2133.6 2730.5h2.6v2.6h-2.6zM2147.6 2730.5h3v3h-3zM2159.6 2730.6h2.6v2.6h-2.6zM2168.9 2730.8h2.6v2.6h-2.6zM2185.9 2730.7h3.4v3.4h-3.4zM2195.1 2730.1h2.2v2.2h-2.2zM2208.9 2730.6h2.6v2.6h-2.6zM2238.4 2730.1h3v3h-3zM2252 2730.6h2.2v2.2h-2.2zM2278.3 2731h3.4v3.4h-3.4zM2291.8 2731h2.2v2.2h-2.2zM2300.3 2730.1h3.4v3.4h-3.4zM2042 2734.4h2.6v2.6h-2.6zM2046.7 2734.5h2.6v2.6h-2.6zM2051.3 2735.1h3v3h-3zM2064.4 2734.3h3v3h-3zM2068.3 2735.2h3.4v3.4h-3.4zM2081.6 2734.9h3v3h-3zM2085.5 2735.1h3v3h-3zM2112.6 2734.7h2.2v2.2h-2.2zM2138.3 2734.9h2.2v2.2h-2.2zM2146.9 2734.3h3.4v3.4h-3.4zM2164.8 2735.4h2.2v2.2h-2.2zM2199.9 2735.1h3.4v3.4h-3.4zM2217.3 2735h2.6v2.6h-2.6zM2221.6 2734.4h3.4v3.4h-3.4zM2230.3 2734.3h2.2v2.2h-2.2zM2247.2 2734.6h2.6v2.6h-2.6zM2256.6 2734.6h2.6v2.6h-2.6zM2260.7 2735.2h3v3h-3zM2300.7 2735h3v3h-3zM2308.6 2734.9h2.2v2.2h-2.2zM2318.2 2734.5h3.4v3.4h-3.4zM2050.4 2739.4h3v3h-3zM2059.8 2739.7h3.4v3.4h-3.4zM2107.3 2739.3h2.2v2.2h-2.2zM2116.5 2739.3h2.6v2.6h-2.6zM2142.6 2738.9h3.4v3.4h-3.4zM2147.6 2738.7h3.4v3.4h-3.4zM2151.5 2739.4h2.6v2.6h-2.6zM2164.4 2739.2h2.6v2.6h-2.6zM2168.8 2739.1h3v3h-3zM2178.1 2739.6h3.4v3.4h-3.4zM2199.2 2739.2h3.4v3.4h-3.4zM2204.3 2739.3h2.6v2.6h-2.6zM2207.8 2738.7h3.4v3.4h-3.4zM2217 2739.7h2.6v2.6h-2.6zM2230.6 2739.4h2.6v2.6h-2.6zM2234.7 2739.4h2.2v2.2h-2.2zM2239.4 2739.5h2.6v2.6h-2.6zM2243.7 2739.3h3.4v3.4h-3.4zM2247.9 2739.3h3.4v3.4h-3.4zM2252.5 2739.8h2.2v2.2h-2.2zM2256.4 2738.7h3v3h-3zM2265.6 2738.7h3v3h-3zM2269.3 2739.2h2.6v2.6h-2.6zM2286.8 2739.1h2.6v2.6h-2.6zM2291.9 2739h2.2v2.2h-2.2zM2300.8 2738.8h3.4v3.4h-3.4zM2041.7 2743.2h3.4v3.4h-3.4zM2051.1 2744.1h2.2v2.2h-2.2zM2055.6 2743.7h3.4v3.4h-3.4zM2064 2743.4h2.6v2.6h-2.6zM2068.9 2743.5h3.4v3.4h-3.4zM2089.9 2743.4h3v3h-3zM2094.7 2743.4h3v3h-3zM2103 2744.1h3.4v3.4h-3.4zM2134.3 2743.4h2.2v2.2h-2.2zM2138.6 2743.4h2.6v2.6h-2.6zM2143.3 2743.3h3v3h-3zM2151.4 2743.4h3v3h-3zM2164 2743.2h2.2v2.2h-2.2zM2169.3 2743.1h3.4v3.4h-3.4zM2194.8 2743.5h2.2v2.2h-2.2zM2217 2743.7h3.4v3.4h-3.4zM2221.9 2744h2.2v2.2h-2.2zM2234.5 2743.1h2.2v2.2h-2.2zM2239.5 2743.2h2.2v2.2h-2.2zM2270 2744.2h3.4v3.4h-3.4zM2277.8 2743.4h2.6v2.6h-2.6zM2296.2 2744h3v3h-3zM2305.1 2743.1h2.2v2.2h-2.2zM2050.5 2748.4h3v3h-3zM2055.1 2747.4h2.6v2.6h-2.6zM2059.3 2748.3h3.4v3.4h-3.4zM2064.5 2747.9h2.2v2.2h-2.2zM2073.1 2748.2h2.6v2.6h-2.6zM2077.1 2747.9h3v3h-3zM2085.7 2747.8h3.4v3.4h-3.4zM2094.9 2748.5h3v3h-3zM2098.5 2748.5h3v3h-3zM2121.3 2748.5h2.2v2.2h-2.2zM2147 2747.5h3.4v3.4h-3.4zM2177.9 2748.4h2.6v2.6h-2.6zM2190.6 2747.9h2.6v2.6h-2.6zM2204.6 2748.5h2.2v2.2h-2.2zM2212.4 2748.2h3v3h-3zM2217 2747.9h2.2v2.2h-2.2zM2234.5 2747.8h3.4v3.4h-3.4zM2247.9 2747.7h2.2v2.2h-2.2zM2251.8 2747.6h3.4v3.4h-3.4zM2260.9 2747.5h2.2v2.2h-2.2zM2270.2 2747.5h3v3h-3zM2278.9 2748.2h3v3h-3zM2282.9 2747.6h2.6v2.6h-2.6zM2296.2 2748.2h2.6v2.6h-2.6zM2308.5 2747.8h2.6v2.6h-2.6zM2318.3 2748.4h3v3h-3zM2042.5 2752.1h3v3h-3zM2046.3 2752.3h3.4v3.4h-3.4zM2050.8 2752.9h2.2v2.2h-2.2zM2059.1 2752h3.4v3.4h-3.4zM2063.5 2752.9h2.2v2.2h-2.2zM2068.7 2752.4h3v3h-3zM2076.9 2752.5h2.2v2.2h-2.2zM2130.1 2751.9h2.2v2.2h-2.2zM2134 2752.7h3v3h-3zM2151.6 2751.8h2.2v2.2h-2.2zM2160.7 2752.9h2.2v2.2h-2.2zM2190.9 2752.4h3v3h-3zM2195.1 2752.6h3v3h-3zM2230.5 2752h3.4v3.4h-3.4zM2234.6 2751.8h3.4v3.4h-3.4zM2247.7 2751.9h2.2v2.2h-2.2zM2256.3 2752.9h2.2v2.2h-2.2zM2278 2752.4h2.6v2.6h-2.6zM2304.6 2752.4h3.4v3.4h-3.4zM2313.9 2752h2.6v2.6h-2.6zM2042.6 2757h2.2v2.2h-2.2zM2055 2756.2h3.4v3.4h-3.4zM2059.2 2756.3h3v3h-3zM2076.7 2756.7h3v3h-3zM2081.5 2756.5h2.2v2.2h-2.2zM2086.4 2757.2h2.2v2.2h-2.2zM2117 2756.4h2.6v2.6h-2.6zM2120.5 2756.5h3.4v3.4h-3.4zM2129.6 2756.3h3.4v3.4h-3.4zM2147.6 2756.5h2.2v2.2h-2.2zM2152.1 2756.3h3v3h-3zM2155.7 2757h3.4v3.4h-3.4zM2168.7 2756.4h3v3h-3zM2181.7 2756.5h3v3h-3zM2200 2756.5h3.4v3.4h-3.4zM2208 2756.4h2.2v2.2h-2.2zM2213.3 2756.8h2.2v2.2h-2.2zM2225.8 2756.7h3v3h-3zM2239.5 2756.8h2.2v2.2h-2.2zM2243.2 2757.3h3v3h-3zM2247.7 2756.5h3v3h-3zM2269.7 2756.5h2.6v2.6h-2.6zM2291.9 2756.9h3v3h-3zM2295.7 2756.1h3v3h-3zM2299.8 2756.2h2.2v2.2h-2.2zM2308.5 2756.3h3.4v3.4h-3.4zM2317.6 2756.4h2.2v2.2h-2.2zM2042.5 2761h2.6v2.6h-2.6zM2046 2760.8h2.6v2.6h-2.6zM2064.2 2761.5h2.2v2.2h-2.2zM2067.8 2760.9h2.2v2.2h-2.2zM2077.6 2760.9h2.2v2.2h-2.2zM2103.1 2760.7h2.6v2.6h-2.6zM2107.3 2760.8h2.6v2.6h-2.6zM2111.7 2761.6h2.2v2.2h-2.2zM2129.2 2760.8h2.6v2.6h-2.6zM2169 2760.5h2.6v2.6h-2.6zM2177.2 2760.9h3v3h-3zM2194.8 2761.3h3.4v3.4h-3.4zM2208.3 2761.7h2.2v2.2h-2.2zM2222 2761.1h3.4v3.4h-3.4zM2226 2761.5h3v3h-3zM2234.2 2761h2.2v2.2h-2.2zM2247.6 2761.1h2.6v2.6h-2.6zM2256.3 2761.5h3.4v3.4h-3.4zM2265.2 2760.9h2.6v2.6h-2.6zM2300.3 2761h3.4v3.4h-3.4zM2313.2 2761.6h3v3h-3zM2318 2761.5h2.6v2.6h-2.6zM2041.8 2765.1h2.6v2.6h-2.6zM2046.4 2765h2.6v2.6h-2.6zM2054.9 2765.9h3.4v3.4h-3.4zM2072.8 2765.3h2.2v2.2h-2.2zM2102.9 2766h3v3h-3zM2107.1 2765.9h3v3h-3zM2121.1 2764.9h3.4v3.4h-3.4zM2146.6 2766h2.6v2.6h-2.6zM2160.2 2766h2.2v2.2h-2.2zM2181.5 2765.7h3v3h-3zM2199.5 2765.6h2.2v2.2h-2.2zM2204.5 2765.1h2.2v2.2h-2.2zM2216.7 2765.4h3v3h-3zM2225.3 2765.2h2.2v2.2h-2.2zM2261.4 2765.4h2.6v2.6h-2.6zM2269.1 2765h3.4v3.4h-3.4zM2274.5 2765.3h3v3h-3zM2278.5 2765.4h2.6v2.6h-2.6zM2282.6 2765h3.4v3.4h-3.4zM2292 2765.3h2.6v2.6h-2.6zM2300.5 2765h3v3h-3zM2309.3 2765.1h3.4v3.4h-3.4zM2313.1 2765.5h2.2v2.2h-2.2zM2317.2 2764.9h2.2v2.2h-2.2zM2042 2769.7h2.2v2.2h-2.2zM2046.1 2769.8h2.6v2.6h-2.6zM2050.8 2769.9h2.2v2.2h-2.2zM2081.9 2770.4h2.2v2.2h-2.2zM2095.1 2770.4h3v3h-3zM2098.4 2769.4h3.4v3.4h-3.4zM2107.7 2770.2h2.2v2.2h-2.2zM2111.6 2769.3h2.2v2.2h-2.2zM2125.1 2769.9h2.6v2.6h-2.6zM2129.5 2769.8h2.2v2.2h-2.2zM2142.5 2769.6h2.6v2.6h-2.6zM2146.7 2770.1h3.4v3.4h-3.4zM2151.5 2770.4h2.2v2.2h-2.2zM2155.9 2769.5h3v3h-3zM2164.2 2769.9h3v3h-3zM2208 2769.9h2.6v2.6h-2.6zM2225.9 2769.5h2.6v2.6h-2.6zM2230.1 2769.6h3.4v3.4h-3.4zM2235.2 2769.3h2.2v2.2h-2.2zM2256.1 2770.2h2.2v2.2h-2.2zM2265.1 2770h2.6v2.6h-2.6zM2274.1 2769.5h2.6v2.6h-2.6zM2292 2769.7h3v3h-3zM2305.1 2769.5h2.6v2.6h-2.6zM2308.9 2770h3.4v3.4h-3.4zM2054.9 2774.3h2.6v2.6h-2.6zM2059.1 2774.3h3.4v3.4h-3.4zM2063.9 2774.1h3.4v3.4h-3.4zM2072.3 2774.6h2.2v2.2h-2.2zM2086 2773.8h3.4v3.4h-3.4zM2111.5 2774.1h3.4v3.4h-3.4zM2133.7 2774.6h3.4v3.4h-3.4zM2138.4 2774.5h2.6v2.6h-2.6zM2165.1 2774.3h3.4v3.4h-3.4zM2173.8 2773.9h2.2v2.2h-2.2zM2177.2 2773.8h2.2v2.2h-2.2zM2195.4 2774.3h2.2v2.2h-2.2zM2203.8 2774.1h2.2v2.2h-2.2zM2208.2 2773.9h2.6v2.6h-2.6zM2225.5 2774.6h3.4v3.4h-3.4zM2230.5 2774.3h3.4v3.4h-3.4zM2234.9 2774.1h2.2v2.2h-2.2zM2252.7 2774.3h3v3h-3zM2269.2 2774.5h2.2v2.2h-2.2zM2287 2773.8h2.2v2.2h-2.2zM2304.5 2774.5h3.4v3.4h-3.4zM2308.8 2774.6h3.4v3.4h-3.4zM2318 2774h3.4v3.4h-3.4zM2042.4 2778.1h2.6v2.6h-2.6zM2046 2779h3v3h-3zM2051 2778.9h2.2v2.2h-2.2zM2068.3 2779.1h2.2v2.2h-2.2zM2077.1 2779.1h3v3h-3zM2086.4 2778.8h3v3h-3zM2089.8 2778.3h2.2v2.2h-2.2zM2099.1 2778.4h3.4v3.4h-3.4zM2112.3 2779h3v3h-3zM2116.9 2778.2h3v3h-3zM2129.7 2778.6h3.4v3.4h-3.4zM2143.3 2778.1h3v3h-3zM2150.9 2778.2h2.6v2.6h-2.6zM2155.4 2778.8h2.6v2.6h-2.6zM2159.8 2778.1h2.2v2.2h-2.2zM2195 2778.5h3.4v3.4h-3.4zM2213 2778.6h2.2v2.2h-2.2zM2221 2778.1h3v3h-3zM2230.1 2778.2h3.4v3.4h-3.4zM2235 2778.2h2.6v2.6h-2.6zM2238.6 2778.4h2.2v2.2h-2.2zM2252.5 2778.4h3v3h-3zM2260.6 2779h3.4v3.4h-3.4zM2278.4 2778.1h2.6v2.6h-2.6zM2287 2779.2h3v3h-3zM2308.7 2778.1h3.4v3.4h-3.4zM2046.5 2783h3.4v3.4h-3.4zM2051 2783.5h3.4v3.4h-3.4zM2060 2782.6h2.6v2.6h-2.6zM2081.9 2782.4h2.2v2.2h-2.2zM2103.2 2783.4h3.4v3.4h-3.4zM2146.6 2782.7h2.2v2.2h-2.2zM2155.5 2783.2h2.6v2.6h-2.6zM2159.9 2783.3h2.6v2.6h-2.6zM2181.9 2782.9h3v3h-3zM2212.6 2783.3h2.2v2.2h-2.2zM2235 2783.2h2.2v2.2h-2.2zM2243.8 2782.5h3.4v3.4h-3.4zM2269.9 2783.1h3.4v3.4h-3.4zM2273.4 2783.1h2.6v2.6h-2.6zM2278.8 2782.9h3v3h-3zM2291.5 2782.5h2.2v2.2h-2.2zM2300.4 2783.5h3.4v3.4h-3.4zM2304.1 2783.3h3v3h-3zM2309.4 2783h2.6v2.6h-2.6zM2042.1 2787.9h2.2v2.2h-2.2zM2055.3 2786.8h2.2v2.2h-2.2zM2060.1 2787.8h2.6v2.6h-2.6zM2064 2786.8h3.4v3.4h-3.4zM2068.4 2787.3h2.2v2.2h-2.2zM2085.7 2787.9h3v3h-3zM2103.4 2786.8h2.2v2.2h-2.2zM2108.2 2787.8h3.4v3.4h-3.4zM2112.5 2787h3.4v3.4h-3.4zM2120.3 2787.8h2.2v2.2h-2.2zM2138.2 2787h3.4v3.4h-3.4zM2147.2 2787.3h3v3h-3zM2151.4 2786.9h2.6v2.6h-2.6zM2164.2 2787.5h3.4v3.4h-3.4zM2168.9 2787.4h3v3h-3zM2173.1 2787.8h3v3h-3zM2190.6 2787.5h3.4v3.4h-3.4zM2203.6 2787.3h3v3h-3zM2212.6 2787.6h2.2v2.2h-2.2zM2234.5 2787.8h3v3h-3zM2238.6 2787.5h3v3h-3zM2247.4 2787.5h2.2v2.2h-2.2zM2261.1 2787.9h3v3h-3zM2274 2787.6h3v3h-3zM2291 2787.1h3.4v3.4h-3.4zM2300.2 2787.9h3v3h-3zM2304.3 2787.7h2.2v2.2h-2.2zM2042.3 2791.5h2.6v2.6h-2.6zM2068 2791.5h3.4v3.4h-3.4zM2073.1 2791.6h3v3h-3zM2081 2791.6h2.2v2.2h-2.2zM2125.4 2792.2h3.4v3.4h-3.4zM2151.6 2791.7h2.6v2.6h-2.6zM2160 2792.3h2.2v2.2h-2.2zM2164.9 2791.5h3.4v3.4h-3.4zM2172.9 2792.1h2.6v2.6h-2.6zM2178.3 2792.3h3.4v3.4h-3.4zM2190.4 2792.3h3.4v3.4h-3.4zM2195 2791.9h3v3h-3zM2204.1 2792.3h2.6v2.6h-2.6zM2221.9 2791.4h3v3h-3zM2234.4 2791.5h2.6v2.6h-2.6zM2256.9 2791.7h2.6v2.6h-2.6zM2274.1 2791.9h2.6v2.6h-2.6zM2286.7 2792.2h2.2v2.2h-2.2zM2313.3 2792.2h2.6v2.6h-2.6zM2317.5 2791.4h3.4v3.4h-3.4zM2041.5 2795.5h2.6v2.6h-2.6zM2068.5 2795.8h3.4v3.4h-3.4zM2072.5 2795.9h3v3h-3zM2081.5 2796.2h3.4v3.4h-3.4zM2090.3 2796.4h3.4v3.4h-3.4zM2112.3 2795.7h3.4v3.4h-3.4zM2134.5 2796.6h3.4v3.4h-3.4zM2138.6 2796.4h2.2v2.2h-2.2zM2156.1 2796h3.4v3.4h-3.4zM2160.2 2796.2h2.2v2.2h-2.2zM2173.8 2795.6h3v3h-3zM2181.8 2795.6h3v3h-3zM2195.1 2796.1h3.4v3.4h-3.4zM2234.8 2796.4h2.6v2.6h-2.6zM2252.4 2796.3h2.6v2.6h-2.6zM2261.4 2796.6h2.6v2.6h-2.6zM2264.7 2795.9h2.2v2.2h-2.2zM2274.2 2795.9h3.4v3.4h-3.4zM2304.2 2796.5h3.4v3.4h-3.4zM2313.9 2796.2h3v3h-3zM2317.9 2796.1h2.2v2.2h-2.2zM2046.4 2801h2.2v2.2h-2.2zM2055.7 2801h2.2v2.2h-2.2zM2063.7 2800.1h3v3h-3zM2068.5 2800.4h2.6v2.6h-2.6zM2085.9 2799.9h2.2v2.2h-2.2zM2107.4 2800.3h3.4v3.4h-3.4zM2111.7 2800.2h2.6v2.6h-2.6zM2134.3 2800.2h3.4v3.4h-3.4zM2152.1 2799.9h2.2v2.2h-2.2zM2159.7 2800h2.2v2.2h-2.2zM2168.7 2800.5h3.4v3.4h-3.4zM2172.9 2801.1h3v3h-3zM2195.7 2800.2h3v3h-3zM2200.1 2800.7h2.6v2.6h-2.6zM2208.3 2800h2.2v2.2h-2.2zM2212.3 2800.3h2.6v2.6h-2.6zM2221.1 2800.4h2.2v2.2h-2.2zM2230.6 2800h2.6v2.6h-2.6zM2235.1 2801h2.2v2.2h-2.2zM2243.1 2800.3h3v3h-3zM2257.1 2800.6h2.2v2.2h-2.2zM2260.6 2800.4h3v3h-3zM2265.7 2800.1h3v3h-3zM2283 2800.3h3.4v3.4h-3.4zM2286.9 2800.4h2.2v2.2h-2.2zM2295.7 2800.8h3v3h-3zM2300.7 2800.7h3v3h-3zM2042 2804.3h3v3h-3zM2050.9 2804.9h3.4v3.4h-3.4zM2055.6 2805.3h2.6v2.6h-2.6zM2064.3 2805h2.2v2.2h-2.2zM2072.4 2804.5h2.6v2.6h-2.6zM2090.7 2804.5h3v3h-3zM2098.8 2805h2.2v2.2h-2.2zM2112.3 2805.4h2.2v2.2h-2.2zM2124.8 2804.8h3.4v3.4h-3.4zM2134.4 2804.8h3v3h-3zM2138.9 2804.9h3v3h-3zM2143.1 2805.4h2.2v2.2h-2.2zM2160.5 2804.4h3.4v3.4h-3.4zM2168.8 2804.4h3.4v3.4h-3.4zM2178.1 2805h3v3h-3zM2181.8 2804.3h2.6v2.6h-2.6zM2186.8 2804.8h3.4v3.4h-3.4zM2203.5 2805.1h3.4v3.4h-3.4zM2207.9 2805.3h2.2v2.2h-2.2zM2212.4 2804.8h3v3h-3zM2221.4 2804.7h2.6v2.6h-2.6zM2225.4 2804.9h2.2v2.2h-2.2zM2234.2 2805h2.2v2.2h-2.2zM2238.8 2804.7h2.6v2.6h-2.6zM2247.9 2805.2h2.2v2.2h-2.2zM2287.5 2805.3h2.2v2.2h-2.2zM2304.2 2804.4h3v3h-3zM2046.5 2809.2h2.6v2.6h-2.6zM2063.7 2809.3h2.2v2.2h-2.2zM2081.3 2808.7h3.4v3.4h-3.4zM2085.4 2809.7h2.2v2.2h-2.2zM2099.2 2809.3h2.6v2.6h-2.6zM2116.4 2809.7h3.4v3.4h-3.4zM2133.8 2809.2h3.4v3.4h-3.4zM2142.3 2808.9h3v3h-3zM2155.7 2809.8h3.4v3.4h-3.4zM2160.2 2808.7h3.4v3.4h-3.4zM2164.7 2809.1h3v3h-3zM2169.5 2809.1h2.2v2.2h-2.2zM2177.3 2809.4h2.6v2.6h-2.6zM2203.5 2808.7h3v3h-3zM2208.6 2809.5h3v3h-3zM2221.7 2808.6h2.2v2.2h-2.2zM2225.6 2809.3h3v3h-3zM2234.9 2809.4h3v3h-3zM2243.3 2809.7h2.2v2.2h-2.2zM2247.3 2809.1h3.4v3.4h-3.4zM2252.4 2809.3h2.6v2.6h-2.6zM2256.7 2809.1h2.2v2.2h-2.2zM2261 2809.3h3.4v3.4h-3.4zM2273.8 2809.1h2.2v2.2h-2.2zM2286.8 2809.5h2.6v2.6h-2.6zM2299.7 2809.8h2.6v2.6h-2.6zM2304.2 2809.1h2.6v2.6h-2.6zM2309.2 2809.5h3.4v3.4h-3.4zM2317.2 2809.6h2.6v2.6h-2.6zM2085.3 2813.1h3.4v3.4h-3.4zM2090.6 2813.2h2.6v2.6h-2.6zM2098.6 2813.6h2.6v2.6h-2.6zM2112.6 2813.9h3.4v3.4h-3.4zM2133.6 2813h3v3h-3zM2142.5 2813.7h3.4v3.4h-3.4zM2155.3 2813.5h2.2v2.2h-2.2zM2173.2 2813.2h2.2v2.2h-2.2zM2178.1 2813.9h2.6v2.6h-2.6zM2181.8 2813.2h2.6v2.6h-2.6zM2186.4 2813.4h2.2v2.2h-2.2zM2213.1 2813.9h2.2v2.2h-2.2zM2217.3 2813.1h3.4v3.4h-3.4zM2230.4 2814.2h2.6v2.6h-2.6zM2238.6 2813.8h3v3h-3zM2247.6 2813.6h2.6v2.6h-2.6zM2265 2813.8h3.4v3.4h-3.4zM2304.8 2813.2h3.4v3.4h-3.4zM2055.1 2817.4h2.2v2.2h-2.2zM2059.8 2818.2h2.6v2.6h-2.6zM2064.1 2818.4h2.6v2.6h-2.6zM2076.6 2817.6h2.6v2.6h-2.6zM2090.6 2818h2.6v2.6h-2.6zM2094 2817.6h2.6v2.6h-2.6zM2124.8 2818.1h2.2v2.2h-2.2zM2134 2817.4h2.6v2.6h-2.6zM2151.7 2818.3h3.4v3.4h-3.4zM2159.6 2818.2h3v3h-3zM2177.2 2817.7h2.6v2.6h-2.6zM2195.6 2818.3h3.4v3.4h-3.4zM2216.6 2818.5h2.2v2.2h-2.2zM2225.3 2818h3v3h-3zM2230 2817.4h3.4v3.4h-3.4zM2239.2 2817.4h2.2v2.2h-2.2zM2242.8 2817.4h3.4v3.4h-3.4zM2256.6 2818.5h2.2v2.2h-2.2zM2265.1 2818.4h3v3h-3zM2269.7 2817.9h2.2v2.2h-2.2zM2278.3 2817.8h3.4v3.4h-3.4zM2282.3 2817.4h2.2v2.2h-2.2zM2286.7 2817.7h2.2v2.2h-2.2zM2291.6 2818.3h2.6v2.6h-2.6zM2296.3 2818h3v3h-3zM2300.4 2817.5h2.2v2.2h-2.2zM2046.2 2821.9h3v3h-3zM2090.2 2822.5h3v3h-3zM2095.1 2821.9h2.6v2.6h-2.6zM2103.9 2822.6h2.2v2.2h-2.2zM2129.9 2822.1h2.2v2.2h-2.2zM2138 2822.6h2.6v2.6h-2.6zM2160.1 2822h3v3h-3zM2177.5 2822.1h3.4v3.4h-3.4zM2186.3 2822.5h2.2v2.2h-2.2zM2194.8 2822.3h2.6v2.6h-2.6zM2204.4 2822h2.6v2.6h-2.6zM2216.7 2821.9h3.4v3.4h-3.4zM2222 2822h2.6v2.6h-2.6zM2225.6 2822.9h3v3h-3zM2234.3 2822.6h2.6v2.6h-2.6zM2238.8 2822.9h3v3h-3zM2243.4 2821.8h3.4v3.4h-3.4zM2257 2821.8h2.2v2.2h-2.2zM2260.3 2822.7h2.6v2.6h-2.6zM2278.9 2821.9h2.2v2.2h-2.2zM2308.4 2821.8h2.6v2.6h-2.6zM2046.1 2826.8h3.4v3.4h-3.4zM2059.1 2826.8h2.6v2.6h-2.6zM2064.5 2826.9h3v3h-3zM2072.5 2827.3h2.2v2.2h-2.2zM2081.3 2827.2h2.2v2.2h-2.2zM2089.9 2826.8h3.4v3.4h-3.4zM2095.1 2826.4h3v3h-3zM2103.1 2826.2h3.4v3.4h-3.4zM2107.9 2826.9h3.4v3.4h-3.4zM2125.5 2826.9h2.6v2.6h-2.6zM2129.4 2826.2h3.4v3.4h-3.4zM2138.1 2827.3h2.2v2.2h-2.2zM2146.6 2827.2h2.6v2.6h-2.6zM2160.3 2826.2h2.2v2.2h-2.2zM2173.1 2826.2h2.6v2.6h-2.6zM2181.8 2826.6h2.2v2.2h-2.2zM2186.7 2826.6h3v3h-3zM2203.9 2826.9h3.4v3.4h-3.4zM2212.7 2826.9h2.6v2.6h-2.6zM2230.4 2826.7h2.2v2.2h-2.2zM2239.2 2826.3h2.2v2.2h-2.2zM2247.8 2826.7h2.2v2.2h-2.2zM2252.6 2826.6h3v3h-3zM2269.6 2826.9h2.2v2.2h-2.2zM2278 2826.9h2.2v2.2h-2.2zM2283 2826.2h3v3h-3zM2287.6 2827h3v3h-3zM2291.5 2826.6h3v3h-3zM2304.4 2827.1h3.4v3.4h-3.4zM2309 2827.3h2.2v2.2h-2.2zM2313.2 2826.2h2.2v2.2h-2.2zM2064.5 2831.5h2.2v2.2h-2.2zM2076.8 2831h3v3h-3zM2107.3 2831.2h3v3h-3zM2116.8 2831.5h3v3h-3zM2120.6 2831.4h2.6v2.6h-2.6zM2142.9 2831.1h3.4v3.4h-3.4zM2155.8 2830.5h2.2v2.2h-2.2zM2164.7 2831.6h3.4v3.4h-3.4zM2182.3 2831.6h2.6v2.6h-2.6zM2194.8 2831h2.2v2.2h-2.2zM2208.1 2831.1h2.2v2.2h-2.2zM2260.5 2831.7h2.2v2.2h-2.2zM2264.9 2831.2h2.6v2.6h-2.6zM2269.4 2831h2.2v2.2h-2.2zM2274.3 2831.3h3v3h-3zM2287.5 2830.8h3v3h-3zM2291.6 2831.3h2.2v2.2h-2.2zM2304.8 2831.3h3v3h-3zM2309.4 2831.2h3.4v3.4h-3.4zM2046.7 2835.4h2.6v2.6h-2.6zM2072.8 2835.3h3v3h-3zM2089.7 2835.8h3.4v3.4h-3.4zM2099.1 2835.1h3.4v3.4h-3.4zM2103.2 2835.5h3v3h-3zM2107.7 2835.4h3v3h-3zM2116.4 2836.1h3v3h-3zM2138.6 2835.4h3v3h-3zM2151.2 2835.1h2.2v2.2h-2.2zM2160.2 2835.7h2.2v2.2h-2.2zM2194.8 2835.1h3.4v3.4h-3.4zM2199.1 2835h3.4v3.4h-3.4zM2208.9 2835.4h3v3h-3zM2212.6 2835.6h3v3h-3zM2217.4 2835.3h2.2v2.2h-2.2zM2226.3 2835.9h2.6v2.6h-2.6zM2230.2 2834.9h3v3h-3zM2243.8 2835.2h3.4v3.4h-3.4zM2252.2 2835.3h3v3h-3zM2274.3 2835.1h3v3h-3zM2282.5 2835.9h3.4v3.4h-3.4zM2300.1 2835.9h2.2v2.2h-2.2zM2055 2840.3h2.6v2.6h-2.6zM2064.2 2840h3.4v3.4h-3.4zM2082 2840.4h2.2v2.2h-2.2zM2098.6 2840.2h3v3h-3zM2103.8 2839.4h2.2v2.2h-2.2zM2107.3 2839.9h3v3h-3zM2116.7 2840.3h3v3h-3zM2121.3 2839.5h2.6v2.6h-2.6zM2129.3 2839.8h2.2v2.2h-2.2zM2168.9 2839.5h2.6v2.6h-2.6zM2177.5 2839.8h3.4v3.4h-3.4zM2186.6 2839.9h3v3h-3zM2190.9 2840.4h2.6v2.6h-2.6zM2195 2839.3h2.2v2.2h-2.2zM2208.3 2840.1h3.4v3.4h-3.4zM2230.2 2840.4h2.6v2.6h-2.6zM2238.4 2840h2.2v2.2h-2.2zM2248.1 2840h2.6v2.6h-2.6zM2260.9 2840.4h3v3h-3zM2265.1 2839.4h2.2v2.2h-2.2zM2269.1 2839.9h3.4v3.4h-3.4zM2274.2 2840h2.6v2.6h-2.6zM2286.7 2839.4h3v3h-3zM2304.7 2839.3h2.6v2.6h-2.6zM2308.4 2839.7h2.2v2.2h-2.2zM2312.8 2840h2.2v2.2h-2.2zM2317.6 2839.7h2.6v2.6h-2.6zM2046.3 2844.5h3v3h-3zM2073.1 2843.7h3.4v3.4h-3.4zM2077.3 2844.4h2.2v2.2h-2.2zM2082 2844h3.4v3.4h-3.4zM2089.9 2844.5h3v3h-3zM2099.4 2844.8h2.2v2.2h-2.2zM2108 2843.9h2.2v2.2h-2.2zM2112.7 2843.8h2.6v2.6h-2.6zM2129.9 2843.9h3.4v3.4h-3.4zM2133.6 2843.7h3v3h-3zM2137.9 2843.7h3.4v3.4h-3.4zM2151 2844.5h2.2v2.2h-2.2zM2155.8 2844.6h2.6v2.6h-2.6zM2164.3 2844.1h2.2v2.2h-2.2zM2173.8 2844.5h3v3h-3zM2190.4 2844.2h3v3h-3zM2195.1 2844h3.4v3.4h-3.4zM2208.5 2844h2.6v2.6h-2.6zM2221.7 2844.4h3v3h-3zM2234.4 2843.7h3v3h-3zM2238.5 2843.9h2.6v2.6h-2.6zM2247.5 2844.2h2.2v2.2h-2.2zM2273.6 2844.2h2.6v2.6h-2.6zM2278.9 2844h3v3h-3zM2300.1 2844.5h2.6v2.6h-2.6zM2063.6 2848.4h3.4v3.4h-3.4zM2090 2848.5h2.2v2.2h-2.2zM2098.5 2848.1h3v3h-3zM2103.9 2848.1h2.6v2.6h-2.6zM2112.5 2848.7h2.2v2.2h-2.2zM2124.7 2848.3h3.4v3.4h-3.4zM2138.2 2848.9h3.4v3.4h-3.4zM2142.9 2848.6h3v3h-3zM2164.1 2848.9h3v3h-3zM2190.7 2848.4h2.2v2.2h-2.2zM2212.6 2848.6h2.6v2.6h-2.6zM2222 2848.7h2.6v2.6h-2.6zM2247.9 2848h2.2v2.2h-2.2zM2260.4 2849.1h3v3h-3zM2265.4 2849.1h2.2v2.2h-2.2zM2282.5 2848.7h3v3h-3zM2300.2 2848.9h3v3h-3zM2304.1 2848h3.4v3.4h-3.4zM2089.8 2853.3h2.6v2.6h-2.6zM2094.7 2853.2h3v3h-3zM2107.8 2853h3v3h-3zM2112.7 2853.3h3.4v3.4h-3.4zM2124.9 2852.9h2.2v2.2h-2.2zM2142.9 2853h2.2v2.2h-2.2zM2151.6 2853.5h2.6v2.6h-2.6zM2156.4 2853.5h3.4v3.4h-3.4zM2164.7 2853.4h2.2v2.2h-2.2zM2181.8 2852.7h3.4v3.4h-3.4zM2195.5 2852.9h3.4v3.4h-3.4zM2217.7 2852.8h3.4v3.4h-3.4zM2230.3 2852.5h2.2v2.2h-2.2zM2243.7 2852.9h2.2v2.2h-2.2zM2247.2 2853.4h2.2v2.2h-2.2zM2252.3 2853h3v3h-3zM2282.9 2852.8h3.4v3.4h-3.4zM2046 2857.2h2.6v2.6h-2.6zM2076.8 2857.1h3.4v3.4h-3.4zM2085.4 2857.3h2.6v2.6h-2.6zM2095 2857.6h2.2v2.2h-2.2zM2116.4 2857.7h2.2v2.2h-2.2zM2138.1 2856.8h3.4v3.4h-3.4zM2151.5 2857.9h2.6v2.6h-2.6zM2160.6 2857.1h3v3h-3zM2164.6 2857.9h3v3h-3zM2173.5 2856.9h3.4v3.4h-3.4zM2195.7 2857.6h3v3h-3zM2220.9 2857.9h2.2v2.2h-2.2zM2235.2 2856.8h3.4v3.4h-3.4zM2252.1 2857.7h2.2v2.2h-2.2zM2261.2 2857.6h2.2v2.2h-2.2zM2269.3 2857h3.4v3.4h-3.4zM2283.2 2857.9h3v3h-3zM2309.3 2857.6h2.6v2.6h-2.6zM2313.8 2857.9h3.4v3.4h-3.4zM2317.8 2856.9h2.6v2.6h-2.6zM2041.9 2862.1h2.2v2.2h-2.2zM2051.1 2861.5h3.4v3.4h-3.4zM2072.5 2861.7h3v3h-3zM2077 2861.4h2.2v2.2h-2.2zM2090 2861.2h3v3h-3zM2095.1 2861.6h2.6v2.6h-2.6zM2099.4 2861.4h3v3h-3zM2103.9 2862.2h2.6v2.6h-2.6zM2107.4 2861.3h2.2v2.2h-2.2zM2138.7 2862.3h3v3h-3zM2147.3 2861.5h2.6v2.6h-2.6zM2151.4 2861.8h3v3h-3zM2169 2862h3v3h-3zM2173.3 2861.6h2.2v2.2h-2.2zM2177.1 2861.9h2.6v2.6h-2.6zM2181.7 2861.8h2.2v2.2h-2.2zM2190.5 2861.7h2.6v2.6h-2.6zM2199.8 2861.6h3v3h-3zM2208.7 2862.2h2.6v2.6h-2.6zM2217.6 2861.7h3.4v3.4h-3.4zM2230.2 2862.3h2.2v2.2h-2.2zM2234.4 2861.3h2.2v2.2h-2.2zM2239.5 2861.3h2.6v2.6h-2.6zM2243.9 2862h2.2v2.2h-2.2zM2251.5 2861.9h2.2v2.2h-2.2zM2256.3 2862h3.4v3.4h-3.4zM2264.8 2862h2.6v2.6h-2.6zM2283 2861.4h2.2v2.2h-2.2zM2287.2 2861.3h3v3h-3zM2295.6 2862.3h3.4v3.4h-3.4zM2317.9 2861.5h3v3h-3zM2046 2866h2.6v2.6h-2.6zM2051.2 2865.8h2.2v2.2h-2.2zM2068.8 2866.6h3.4v3.4h-3.4zM2073 2866.3h2.6v2.6h-2.6zM2099.1 2866.4h3v3h-3zM2103.2 2866.6h3.4v3.4h-3.4zM2107.3 2865.7h3.4v3.4h-3.4zM2111.8 2865.6h3v3h-3zM2138.1 2866.2h3v3h-3zM2155.9 2866.6h2.6v2.6h-2.6zM2164.7 2865.8h3v3h-3zM2177.4 2865.9h2.2v2.2h-2.2zM2186.3 2865.7h3.4v3.4h-3.4zM2190.8 2865.7h3.4v3.4h-3.4zM2204.4 2865.6h2.6v2.6h-2.6zM2208.3 2866.6h2.2v2.2h-2.2zM2212.6 2865.8h3.4v3.4h-3.4zM2216.7 2866h3v3h-3zM2226.1 2866.1h3.4v3.4h-3.4zM2243 2865.9h3.4v3.4h-3.4zM2247.9 2866.6h2.2v2.2h-2.2zM2252.5 2866.6h2.2v2.2h-2.2zM2256.6 2866.2h2.6v2.6h-2.6zM2261.3 2865.5h3.4v3.4h-3.4zM2269.8 2865.6h3v3h-3zM2274.2 2866.6h2.6v2.6h-2.6zM2291.8 2866.5h3v3h-3zM2309.2 2866.5h2.2v2.2h-2.2zM2313 2866.2h2.6v2.6h-2.6zM2046.6 2871h2.6v2.6h-2.6zM2068.5 2870h2.6v2.6h-2.6zM2073 2870.9h2.2v2.2h-2.2zM2081.7 2870.6h2.2v2.2h-2.2zM2099.4 2870.2h3v3h-3zM2138.1 2870.4h2.2v2.2h-2.2zM2142.2 2870.6h3.4v3.4h-3.4zM2151.9 2870.5h3v3h-3zM2160.8 2870.9h2.2v2.2h-2.2zM2165 2871h3v3h-3zM2169.4 2870.5h3v3h-3zM2173.4 2871.1h2.6v2.6h-2.6zM2181.9 2870.7h2.6v2.6h-2.6zM2191.4 2870h2.6v2.6h-2.6zM2195.6 2870.6h3v3h-3zM2199.7 2870.8h2.6v2.6h-2.6zM2203.9 2870.6h2.6v2.6h-2.6zM2212.4 2870.1h2.2v2.2h-2.2zM2221.6 2870.9h2.2v2.2h-2.2zM2251.9 2870.3h3.4v3.4h-3.4zM2274.3 2870.8h3v3h-3zM2291.6 2870.3h2.2v2.2h-2.2zM2300.5 2870.6h3v3h-3zM2317.4 2871h3.4v3.4h-3.4zM2046.1 2874.8h2.2v2.2h-2.2zM2060 2874.8h3v3h-3zM2095 2874.3h3.4v3.4h-3.4zM2099.2 2874.5h2.6v2.6h-2.6zM2116.6 2874.8h2.2v2.2h-2.2zM2125.5 2874.9h2.2v2.2h-2.2zM2130.1 2874.4h2.2v2.2h-2.2zM2164.5 2874.4h2.6v2.6h-2.6zM2186.2 2875.1h3.4v3.4h-3.4zM2190.5 2875.4h2.2v2.2h-2.2zM2204.3 2874.5h3v3h-3zM2222 2874.5h3.4v3.4h-3.4zM2229.8 2874.3h3.4v3.4h-3.4zM2234.6 2874.4h3.4v3.4h-3.4zM2247.7 2874.8h3v3h-3zM2256 2874.9h3.4v3.4h-3.4zM2291.7 2874.3h2.6v2.6h-2.6zM2295.9 2875.4h3.4v3.4h-3.4zM2313.2 2874.3h3.4v3.4h-3.4zM2042.5 2879.1h3v3h-3zM2059.3 2879.7h2.2v2.2h-2.2zM2063.9 2878.9h2.6v2.6h-2.6zM2067.8 2879h2.6v2.6h-2.6zM2103.7 2879.4h3.4v3.4h-3.4zM2107.8 2878.8h2.2v2.2h-2.2zM2116.6 2879.1h2.6v2.6h-2.6zM2120.5 2878.9h3v3h-3zM2129.2 2878.7h2.6v2.6h-2.6zM2138.6 2879.5h3.4v3.4h-3.4zM2143.1 2879h2.6v2.6h-2.6zM2164.8 2879.3h3v3h-3zM2173.1 2878.9h3.4v3.4h-3.4zM2190.3 2878.8h3.4v3.4h-3.4zM2195.8 2879.3h3.4v3.4h-3.4zM2208.1 2878.6h3.4v3.4h-3.4zM2243.2 2879.4h2.6v2.6h-2.6zM2248.1 2879.5h3.4v3.4h-3.4zM2274.5 2878.8h2.2v2.2h-2.2zM2283 2878.9h3.4v3.4h-3.4zM2300.3 2878.8h2.2v2.2h-2.2zM2313.1 2879.6h2.6v2.6h-2.6zM2042.7 2883.4h3v3h-3zM2050.7 2883.5h2.6v2.6h-2.6zM2064.5 2883.8h3v3h-3zM2072.5 2883h2.6v2.6h-2.6zM2094.3 2883.6h2.6v2.6h-2.6zM2112.4 2884h2.6v2.6h-2.6zM2116 2883.4h2.6v2.6h-2.6zM2125.5 2883.2h3.4v3.4h-3.4zM2129.4 2883.4h3v3h-3zM2151.2 2884h2.6v2.6h-2.6zM2160.4 2883.2h2.6v2.6h-2.6zM2169.4 2883.5h2.6v2.6h-2.6zM2182.1 2883.9h3v3h-3zM2208.4 2884.1h2.6v2.6h-2.6zM2212.2 2884.1h3v3h-3zM2221.9 2883.4h2.2v2.2h-2.2zM2226 2884h3v3h-3zM2234.7 2884h3.4v3.4h-3.4zM2251.6 2884.1h2.6v2.6h-2.6zM2256.5 2884.2h2.6v2.6h-2.6zM2278.8 2883.8h3v3h-3zM2282.7 2884.1h3.4v3.4h-3.4zM2295.6 2883.5h2.2v2.2h-2.2zM2309.1 2883.2h2.2v2.2h-2.2zM2046.2 2888.4h3.4v3.4h-3.4zM2051.3 2888.5h3.4v3.4h-3.4zM2059.2 2887.8h3.4v3.4h-3.4zM2063.6 2888.2h3v3h-3zM2080.9 2888h3v3h-3zM2099 2887.9h3.4v3.4h-3.4zM2112.7 2888.2h3v3h-3zM2121.3 2887.6h3v3h-3zM2134.1 2887.4h2.2v2.2h-2.2zM2151 2888.5h2.6v2.6h-2.6zM2165 2888.4h2.6v2.6h-2.6zM2177.8 2888.4h3.4v3.4h-3.4zM2185.9 2887.9h2.2v2.2h-2.2zM2208 2887.5h2.2v2.2h-2.2zM2226.2 2887.8h3.4v3.4h-3.4zM2243.5 2887.4h2.6v2.6h-2.6zM2269 2888.4h3.4v3.4h-3.4zM2278 2888h3v3h-3zM2282.7 2887.9h3.4v3.4h-3.4zM2313.1 2887.7h2.6v2.6h-2.6zM2068.7 2892.2h2.2v2.2h-2.2zM2072.4 2892.3h2.6v2.6h-2.6zM2082 2892.1h3.4v3.4h-3.4zM2090.5 2892.6h3v3h-3zM2107.4 2892.8h2.2v2.2h-2.2zM2124.9 2892.6h2.6v2.6h-2.6zM2129.2 2891.9h2.6v2.6h-2.6zM2134.5 2892.6h2.2v2.2h-2.2zM2142.3 2892.3h2.2v2.2h-2.2zM2147 2892.6h3v3h-3zM2177.9 2892.5h3.4v3.4h-3.4zM2191.3 2892.3h3.4v3.4h-3.4zM2204.6 2892.3h2.2v2.2h-2.2zM2212.7 2892.4h2.6v2.6h-2.6zM2230.2 2892.8h3.4v3.4h-3.4zM2243.5 2892.9h3v3h-3zM2247.8 2891.9h2.6v2.6h-2.6zM2260.8 2892.6h3.4v3.4h-3.4zM2278.5 2892.8h3v3h-3zM2291.2 2892.5h2.2v2.2h-2.2zM2295.8 2892.7h3.4v3.4h-3.4zM2300.3 2891.9h3v3h-3zM2041.7 2896.2h2.6v2.6h-2.6zM2046.1 2896.4h3.4v3.4h-3.4zM2059.1 2896.4h3.4v3.4h-3.4zM2107.1 2897.1h2.6v2.6h-2.6zM2111.8 2897.1h3v3h-3zM2115.9 2896.9h2.2v2.2h-2.2zM2121 2897.2h3v3h-3zM2125.1 2896.4h3.4v3.4h-3.4zM2129.3 2897.3h2.6v2.6h-2.6zM2134.1 2896.3h3v3h-3zM2160.7 2896.3h2.6v2.6h-2.6zM2177.8 2897.2h3v3h-3zM2186.9 2896.1h2.2v2.2h-2.2zM2190.4 2896.6h3v3h-3zM2194.7 2896.4h2.6v2.6h-2.6zM2203.6 2896.4h3v3h-3zM2212.5 2897.2h2.2v2.2h-2.2zM2217.4 2896.7h3v3h-3zM2239.2 2896.9h3.4v3.4h-3.4zM2274.3 2897h3v3h-3zM2282.5 2897.1h2.6v2.6h-2.6zM2286.9 2897h2.6v2.6h-2.6zM2300.7 2896.4h2.6v2.6h-2.6zM2305 2897.1h2.6v2.6h-2.6zM2313.9 2897h3v3h-3zM2047.1 2901.1h2.2v2.2h-2.2zM2059.1 2901.3h3.4v3.4h-3.4zM2089.9 2901.6h3.4v3.4h-3.4zM2099.4 2900.6h3v3h-3zM2130 2901h2.6v2.6h-2.6zM2138.2 2900.7h2.2v2.2h-2.2zM2142.3 2900.5h2.6v2.6h-2.6zM2146.8 2900.7h2.6v2.6h-2.6zM2155.8 2900.9h2.6v2.6h-2.6zM2160 2900.7h2.6v2.6h-2.6zM2164.5 2900.8h2.2v2.2h-2.2zM2208.6 2901.2h3.4v3.4h-3.4zM2217.5 2900.8h2.6v2.6h-2.6zM2220.9 2901.7h3.4v3.4h-3.4zM2242.9 2900.9h2.6v2.6h-2.6zM2295.6 2901.5h3.4v3.4h-3.4zM2300.8 2901.1h3.4v3.4h-3.4zM2312.8 2901h3v3h-3zM2041.9 2905.5h2.2v2.2h-2.2zM2046.8 2906h3.4v3.4h-3.4zM2055 2905.1h2.6v2.6h-2.6zM2068.9 2905.6h2.6v2.6h-2.6zM2076.7 2905.9h3.4v3.4h-3.4zM2090.4 2905.7h2.2v2.2h-2.2zM2103.5 2905.1h3v3h-3zM2107.7 2905.8h2.6v2.6h-2.6zM2134.2 2905.9h2.2v2.2h-2.2zM2137.8 2905.8h3.4v3.4h-3.4zM2146.9 2906.1h2.2v2.2h-2.2zM2172.9 2905.1h2.2v2.2h-2.2zM2195.3 2905.7h3.4v3.4h-3.4zM2199.4 2905.3h3v3h-3zM2217.5 2906h2.6v2.6h-2.6zM2221.9 2905.8h3v3h-3zM2226.1 2906h3v3h-3zM2230 2905.3h3.4v3.4h-3.4zM2238.6 2905h2.6v2.6h-2.6zM2243 2905.8h3v3h-3zM2256.1 2905h3v3h-3zM2260.4 2906.1h2.2v2.2h-2.2zM2274.3 2905.2h3.4v3.4h-3.4zM2278.4 2905.4h3v3h-3zM2286.7 2905.4h2.2v2.2h-2.2zM2291.5 2905.5h2.6v2.6h-2.6zM2296 2905.4h2.2v2.2h-2.2zM2060 2909.4h3.4v3.4h-3.4zM2077.7 2909.4h3v3h-3zM2086.2 2909.9h3.4v3.4h-3.4zM2089.9 2910.3h2.6v2.6h-2.6zM2103.3 2910h3v3h-3zM2116.7 2909.7h3v3h-3zM2120.6 2909.8h2.6v2.6h-2.6zM2124.7 2910.4h3v3h-3zM2129.2 2910.1h2.6v2.6h-2.6zM2133.8 2909.9h2.2v2.2h-2.2zM2169.1 2909.4h3.4v3.4h-3.4zM2182.6 2910.3h3v3h-3zM2186.4 2910.3h3.4v3.4h-3.4zM2191 2909.7h3.4v3.4h-3.4zM2221 2910h2.6v2.6h-2.6zM2238.8 2909.9h2.6v2.6h-2.6zM2242.8 2909.9h2.6v2.6h-2.6zM2256.8 2909.7h3.4v3.4h-3.4zM2278.4 2910.3h2.2v2.2h-2.2zM2295.7 2910.3h2.6v2.6h-2.6zM2304.9 2909.3h3v3h-3zM2309.1 2909.3h2.6v2.6h-2.6zM2317.5 2909.7h3.4v3.4h-3.4zM2046.9 2914.6h2.6v2.6h-2.6zM2068.2 2914.3h3.4v3.4h-3.4zM2072.6 2913.8h3v3h-3zM2081.3 2913.8h3v3h-3zM2095.1 2913.8h3.4v3.4h-3.4zM2112.4 2914.5h2.6v2.6h-2.6zM2125.7 2914.6h3.4v3.4h-3.4zM2156 2914.2h3v3h-3zM2159.9 2914h3.4v3.4h-3.4zM2178.3 2914.2h2.2v2.2h-2.2zM2191.4 2914.2h3.4v3.4h-3.4zM2208.7 2914.8h2.2v2.2h-2.2zM2212.7 2914.8h2.6v2.6h-2.6zM2216.9 2914.6h2.2v2.2h-2.2zM2221.6 2913.9h2.2v2.2h-2.2zM2225.6 2913.7h2.2v2.2h-2.2zM2243.4 2913.9h3v3h-3zM2251.7 2914.3h3.4v3.4h-3.4zM2269.8 2914.5h3v3h-3zM2278.7 2914.1h2.6v2.6h-2.6zM2282.4 2913.7h2.2v2.2h-2.2zM2292 2914.3h2.2v2.2h-2.2zM2299.7 2914.3h3v3h-3zM2304.9 2914.4h2.2v2.2h-2.2zM2317.5 2914.5h2.2v2.2h-2.2zM2042 2918.5h2.2v2.2h-2.2zM2059.8 2918.6h2.6v2.6h-2.6zM2063.6 2918.7h2.6v2.6h-2.6zM2073.3 2918.6h3.4v3.4h-3.4zM2081.3 2918.7h2.6v2.6h-2.6zM2099.5 2918.2h2.2v2.2h-2.2zM2108 2919h3v3h-3zM2111.9 2919.2h3v3h-3zM2121.3 2918.1h3.4v3.4h-3.4zM2129.4 2918.1h2.6v2.6h-2.6zM2137.9 2919h2.6v2.6h-2.6zM2173.5 2918.3h2.2v2.2h-2.2zM2190.9 2919.2h2.6v2.6h-2.6zM2208.2 2918.9h3.4v3.4h-3.4zM2221.7 2918.9h3v3h-3zM2234.7 2918.7h2.2v2.2h-2.2zM2239.2 2918.1h3.4v3.4h-3.4zM2278.8 2918.5h3v3h-3zM2286.5 2918.7h2.2v2.2h-2.2zM2291.5 2918.1h3.4v3.4h-3.4zM2295.8 2919.1h2.6v2.6h-2.6zM2299.7 2918.4h2.6v2.6h-2.6zM2313.1 2918.5h3.4v3.4h-3.4zM2318.2 2919.1h3v3h-3zM2042.5 2922.4h2.6v2.6h-2.6zM2047 2922.4h3v3h-3zM2072.3 2922.4h3v3h-3zM2082 2922.8h3.4v3.4h-3.4zM2095.1 2923.2h3v3h-3zM2098.5 2923.5h3.4v3.4h-3.4zM2103.8 2923.2h2.2v2.2h-2.2zM2108.2 2922.9h2.2v2.2h-2.2zM2111.8 2923.2h2.2v2.2h-2.2zM2116.3 2922.8h2.2v2.2h-2.2zM2164.7 2923h3.4v3.4h-3.4zM2181.6 2923.4h3v3h-3zM2199.2 2923.4h2.2v2.2h-2.2zM2203.6 2923.5h2.6v2.6h-2.6zM2208.1 2922.7h2.6v2.6h-2.6zM2217.3 2923.4h2.2v2.2h-2.2zM2221.1 2922.9h2.2v2.2h-2.2zM2270 2923.5h2.6v2.6h-2.6zM2278.7 2923.2h3v3h-3zM2286.8 2922.5h2.2v2.2h-2.2zM2295.7 2922.8h3v3h-3zM2304.5 2922.7h2.2v2.2h-2.2zM2313.5 2922.8h2.2v2.2h-2.2zM2317.7 2922.6h3.4v3.4h-3.4zM2042.5 2927.6h3.4v3.4h-3.4zM2046.9 2927.1h3.4v3.4h-3.4zM2059.4 2927.8h2.2v2.2h-2.2zM2063.9 2927.7h2.6v2.6h-2.6zM2081 2926.8h3v3h-3zM2094.6 2927h3v3h-3zM2099 2927.5h3v3h-3zM2103.7 2927.6h2.6v2.6h-2.6zM2129.4 2927.7h3.4v3.4h-3.4zM2147.2 2927h3.4v3.4h-3.4zM2164.7 2927.4h2.6v2.6h-2.6zM2169.5 2927.9h2.6v2.6h-2.6zM2186 2926.8h2.6v2.6h-2.6zM2191.1 2927.3h2.6v2.6h-2.6zM2195 2927.3h2.6v2.6h-2.6zM2208.7 2927.8h3v3h-3zM2216.6 2927.7h3.4v3.4h-3.4zM2221.9 2927.4h2.2v2.2h-2.2zM2230.1 2927h3v3h-3zM2234.7 2926.8h2.6v2.6h-2.6zM2243.7 2927.4h3.4v3.4h-3.4zM2256.4 2927.9h3v3h-3zM2265.5 2927.9h3.4v3.4h-3.4zM2270 2927.9h2.2v2.2h-2.2zM2274.1 2927.3h2.2v2.2h-2.2zM2278.9 2926.8h2.2v2.2h-2.2zM2282.3 2927.1h2.2v2.2h-2.2zM2296.2 2927.7h2.2v2.2h-2.2zM2300.5 2927.4h2.2v2.2h-2.2zM2304.2 2927.4h3.4v3.4h-3.4zM2313.8 2927.5h3v3h-3zM2046.9 2932.3h3.4v3.4h-3.4zM2054.9 2932.2h3.4v3.4h-3.4zM2059.2 2932.3h3v3h-3zM2085.9 2931.3h3.4v3.4h-3.4zM2090.7 2931.2h2.2v2.2h-2.2zM2094.7 2932.2h2.6v2.6h-2.6zM2111.8 2931.9h3.4v3.4h-3.4zM2116 2931.2h2.6v2.6h-2.6zM2125.5 2931.8h2.6v2.6h-2.6zM2137.8 2932.1h3v3h-3zM2151.8 2931.7h3v3h-3zM2159.7 2931.7h3.4v3.4h-3.4zM2204 2931.6h2.2v2.2h-2.2zM2208.9 2931.6h2.6v2.6h-2.6zM2216.7 2931.4h3.4v3.4h-3.4zM2221.3 2931.5h3v3h-3zM2234.5 2931.2h2.2v2.2h-2.2zM2260.9 2932.1h3.4v3.4h-3.4zM2265 2932.2h2.6v2.6h-2.6zM2287.1 2931.3h3v3h-3zM2291.5 2931.6h3v3h-3zM2296.4 2931.9h2.2v2.2h-2.2zM2300.1 2931.4h2.2v2.2h-2.2zM2051.4 2935.9h3v3h-3zM2055.7 2936h3.4v3.4h-3.4zM2059.9 2936.6h3v3h-3zM2072.8 2936.4h2.6v2.6h-2.6zM2099.4 2936.5h2.2v2.2h-2.2zM2107.2 2935.8h2.6v2.6h-2.6zM2111.6 2935.9h2.6v2.6h-2.6zM2125.2 2936.1h2.2v2.2h-2.2zM2138.6 2935.8h2.2v2.2h-2.2zM2155.8 2936.2h3.4v3.4h-3.4zM2164.8 2936.4h3.4v3.4h-3.4zM2194.8 2935.8h3v3h-3zM2199.4 2935.7h3v3h-3zM2208.7 2936.1h3.4v3.4h-3.4zM2213.3 2935.8h2.2v2.2h-2.2zM2217.1 2936.2h3v3h-3zM2221.5 2935.9h2.6v2.6h-2.6zM2229.7 2935.6h3v3h-3zM2234.2 2936h2.2v2.2h-2.2zM2238.4 2935.6h3.4v3.4h-3.4zM2247.3 2936.5h2.6v2.6h-2.6zM2261.3 2935.6h3v3h-3zM2274 2936.2h2.2v2.2h-2.2zM2278.4 2936.4h2.6v2.6h-2.6zM2283.2 2936.5h2.6v2.6h-2.6zM2299.8 2936h2.6v2.6h-2.6zM2304.9 2936h3v3h-3zM2313.3 2936.4h2.6v2.6h-2.6zM2041.9 2940.3h2.2v2.2h-2.2zM2046.5 2940.7h3v3h-3zM2055.8 2939.9h2.6v2.6h-2.6zM2073.1 2940.1h3.4v3.4h-3.4zM2077.1 2940.3h3.4v3.4h-3.4zM2081.3 2941.1h3v3h-3zM2085.9 2939.9h3.4v3.4h-3.4zM2099.2 2940.5h2.2v2.2h-2.2zM2112.1 2940h3v3h-3zM2125.4 2940.7h2.2v2.2h-2.2zM2129.8 2939.9h3.4v3.4h-3.4zM2134.2 2941h2.2v2.2h-2.2zM2138.2 2940.1h2.6v2.6h-2.6zM2142.9 2940.4h2.2v2.2h-2.2zM2151 2940.5h3v3h-3zM2155.9 2940.6h2.2v2.2h-2.2zM2191 2940h3.4v3.4h-3.4zM2195.6 2940.1h3.4v3.4h-3.4zM2204.2 2940.5h3v3h-3zM2208.1 2940.3h2.2v2.2h-2.2zM2221.4 2941h3.4v3.4h-3.4zM2252.6 2940.2h3.4v3.4h-3.4zM2261.1 2941h2.2v2.2h-2.2zM2299.8 2940.6h2.2v2.2h-2.2zM2304.4 2939.9h3.4v3.4h-3.4zM2055.5 2944.4h2.2v2.2h-2.2zM2073 2944.7h3v3h-3zM2076.8 2944.7h2.2v2.2h-2.2zM2089.9 2944.7h3v3h-3zM2108.2 2945.4h2.6v2.6h-2.6zM2120.4 2945h3.4v3.4h-3.4zM2130 2945.4h3.4v3.4h-3.4zM2138.6 2944.5h3v3h-3zM2155.3 2944.8h3v3h-3zM2169.5 2945.2h2.2v2.2h-2.2zM2173.5 2945.3h2.2v2.2h-2.2zM2177.9 2944.9h2.6v2.6h-2.6zM2186.8 2944.5h3.4v3.4h-3.4zM2195.7 2944.8h3.4v3.4h-3.4zM2203.7 2945.2h2.6v2.6h-2.6zM2212.3 2944.5h3v3h-3zM2221.9 2945.4h2.2v2.2h-2.2zM2234.6 2944.3h2.2v2.2h-2.2zM2239.2 2944.8h3v3h-3zM2247.7 2945.2h2.2v2.2h-2.2zM2251.9 2945.2h2.2v2.2h-2.2zM2260.8 2944.7h2.2v2.2h-2.2zM2265.2 2945h3.4v3.4h-3.4zM2269.2 2944.5h3.4v3.4h-3.4zM2282.6 2945.3h2.2v2.2h-2.2zM2296.1 2944.3h3v3h-3zM2317.9 2944.3h2.2v2.2h-2.2zM2050.9 2949.2h3.4v3.4h-3.4zM2059.8 2949.8h2.2v2.2h-2.2zM2076.9 2949.1h2.2v2.2h-2.2zM2082 2949.1h3.4v3.4h-3.4zM2085.4 2949.4h2.6v2.6h-2.6zM2095.1 2949.8h3.4v3.4h-3.4zM2103.8 2948.6h3.4v3.4h-3.4zM2107.2 2949h3v3h-3zM2121.4 2949.1h2.6v2.6h-2.6zM2125.5 2949h3.4v3.4h-3.4zM2146.6 2949.1h3v3h-3zM2151.7 2949.1h2.2v2.2h-2.2zM2173.8 2949h2.6v2.6h-2.6zM2195.1 2949.8h2.6v2.6h-2.6zM2199.4 2948.7h3.4v3.4h-3.4zM2221.1 2948.9h2.2v2.2h-2.2zM2243.9 2949.1h3v3h-3zM2247.2 2949.6h3v3h-3zM2256.1 2949h2.6v2.6h-2.6zM2265 2948.9h2.2v2.2h-2.2zM2318 2949.4h3v3h-3zM2050.9 2953.8h2.6v2.6h-2.6zM2076.9 2953.2h3v3h-3zM2085.8 2953.2h2.6v2.6h-2.6zM2098.4 2953.7h3.4v3.4h-3.4zM2103.1 2953.1h3v3h-3zM2107.6 2954h2.2v2.2h-2.2zM2115.9 2954.1h2.6v2.6h-2.6zM2125.1 2953.9h3.4v3.4h-3.4zM2129.8 2953.8h3v3h-3zM2151.5 2954.1h3.4v3.4h-3.4zM2164.3 2953.1h2.2v2.2h-2.2zM2172.8 2954.1h3v3h-3zM2213 2954.1h3v3h-3zM2226.2 2953.6h3v3h-3zM2247.3 2953.8h3v3h-3zM2261.3 2954.1h3v3h-3zM2274.4 2953.2h3.4v3.4h-3.4zM2282.5 2953.3h2.6v2.6h-2.6zM2287.6 2953.2h3v3h-3zM2291 2953.2h3.4v3.4h-3.4zM2300.4 2954h2.6v2.6h-2.6zM2047 2957.8h2.6v2.6h-2.6zM2050.6 2957.8h3.4v3.4h-3.4zM2059.5 2957.6h3.4v3.4h-3.4zM2067.9 2958.5h3v3h-3zM2072.3 2958.1h2.6v2.6h-2.6zM2085.6 2957.8h2.2v2.2h-2.2zM2094.1 2957.9h3.4v3.4h-3.4zM2129.4 2958.2h3.4v3.4h-3.4zM2142.4 2957.5h2.2v2.2h-2.2zM2147.3 2958.3h2.6v2.6h-2.6zM2151.3 2958h3.4v3.4h-3.4zM2155.4 2957.4h3v3h-3zM2177.6 2958.1h2.2v2.2h-2.2zM2195.4 2957.8h2.6v2.6h-2.6zM2213.2 2958.4h2.6v2.6h-2.6zM2221.4 2958.1h2.2v2.2h-2.2zM2225.3 2957.5h3.4v3.4h-3.4zM2234.9 2958.5h2.6v2.6h-2.6zM2239 2958h2.2v2.2h-2.2zM2251.6 2958.1h3.4v3.4h-3.4zM2260.4 2958.3h2.2v2.2h-2.2zM2278.1 2957.8h2.2v2.2h-2.2zM2283.2 2957.8h2.6v2.6h-2.6zM2299.9 2957.8h2.2v2.2h-2.2zM2313.3 2957.6h2.2v2.2h-2.2zM2073.3 2962.1h3.4v3.4h-3.4zM2077.4 2961.8h2.2v2.2h-2.2zM2094.4 2962.9h2.6v2.6h-2.6zM2102.9 2962.5h3.4v3.4h-3.4zM2117 2961.8h2.6v2.6h-2.6zM2120.8 2962h3v3h-3zM2138.1 2962.6h3.4v3.4h-3.4zM2173.4 2961.8h2.2v2.2h-2.2zM2177.2 2962.1h2.6v2.6h-2.6zM2190.7 2962.6h2.2v2.2h-2.2zM2195.8 2962.1h2.2v2.2h-2.2zM2200.1 2962.8h2.6v2.6h-2.6zM2208.2 2962.7h3.4v3.4h-3.4zM2212.4 2962.6h2.2v2.2h-2.2zM2230 2962.4h3.4v3.4h-3.4zM2264.8 2962.7h3.4v3.4h-3.4zM2270 2962.7h2.6v2.6h-2.6zM2278.8 2962.8h3.4v3.4h-3.4zM2291.1 2962.8h3v3h-3zM2296.3 2962.6h3.4v3.4h-3.4zM2309.2 2961.9h2.2v2.2h-2.2zM2313.5 2962.9h3v3h-3zM2318.3 2961.9h2.2v2.2h-2.2zM2045.9 2966.8h3v3h-3zM2055.4 2967.1h3v3h-3zM2059.1 2966.8h3v3h-3zM2064.3 2967h3.4v3.4h-3.4zM2073.2 2966.4h2.2v2.2h-2.2zM2077.4 2966.6h3v3h-3zM2112.4 2966.7h3.4v3.4h-3.4zM2124.8 2967h3.4v3.4h-3.4zM2186.4 2966.5h3.4v3.4h-3.4zM2200.1 2966.2h2.2v2.2h-2.2zM2204.2 2966.6h3v3h-3zM2208.1 2966.4h3.4v3.4h-3.4zM2212.4 2967.3h2.6v2.6h-2.6zM2251.7 2966.1h2.2v2.2h-2.2zM2256.5 2966.3h2.6v2.6h-2.6zM2269.4 2967h2.6v2.6h-2.6zM2274.3 2966.3h2.6v2.6h-2.6zM2286.8 2967.2h3v3h-3zM2291.9 2967.2h2.6v2.6h-2.6zM2304.9 2966.9h2.2v2.2h-2.2zM2308.5 2966.3h2.2v2.2h-2.2zM2318.2 2967h3v3h-3zM2054.7 2971.5h3v3h-3zM2081.2 2971.2h2.6v2.6h-2.6zM2085.8 2971h3v3h-3zM2120.3 2970.5h2.2v2.2h-2.2zM2134.2 2971.3h3.4v3.4h-3.4zM2138.5 2971h2.6v2.6h-2.6zM2143.1 2970.8h3v3h-3zM2151 2970.9h3v3h-3zM2156 2970.6h2.2v2.2h-2.2zM2164.5 2970.9h3.4v3.4h-3.4zM2169.2 2971h3.4v3.4h-3.4zM2177.6 2971.1h2.6v2.6h-2.6zM2182.4 2971.1h2.2v2.2h-2.2zM2186.7 2971.2h2.6v2.6h-2.6zM2190.3 2970.6h3v3h-3zM2195 2970.6h3.4v3.4h-3.4zM2221.9 2971.2h2.2v2.2h-2.2zM2230.7 2971.7h3v3h-3zM2243.1 2971.1h2.6v2.6h-2.6zM2291.1 2970.6h3.4v3.4h-3.4zM2295.8 2970.6h2.6v2.6h-2.6zM2042.1 2975.5h2.6v2.6h-2.6zM2046.3 2976h3.4v3.4h-3.4zM2050.3 2975.2h3.4v3.4h-3.4zM2055.4 2976h2.6v2.6h-2.6zM2060.2 2975.4h2.6v2.6h-2.6zM2072.9 2976.1h2.2v2.2h-2.2zM2076.6 2975.1h2.6v2.6h-2.6zM2081.9 2975.7h3.4v3.4h-3.4zM2086.4 2975.1h3.4v3.4h-3.4zM2098.7 2975.2h3.4v3.4h-3.4zM2112.3 2976h2.6v2.6h-2.6zM2116.3 2975.7h3v3h-3zM2130 2975.4h2.2v2.2h-2.2zM2138.8 2975.7h3v3h-3zM2164.1 2975h3.4v3.4h-3.4zM2168.7 2975.6h2.2v2.2h-2.2zM2173.7 2975.6h3v3h-3zM2178.1 2975.9h3v3h-3zM2191.4 2976h2.6v2.6h-2.6zM2199.2 2975.7h2.2v2.2h-2.2zM2203.8 2975.1h2.2v2.2h-2.2zM2212.2 2975.9h2.2v2.2h-2.2zM2225.7 2975.4h2.6v2.6h-2.6zM2230.1 2974.9h2.6v2.6h-2.6zM2243.6 2975.8h2.2v2.2h-2.2zM2260.9 2975.7h2.2v2.2h-2.2zM2269.7 2975.2h2.2v2.2h-2.2zM2295.7 2975.3h3.4v3.4h-3.4zM2305.1 2975.8h3v3h-3zM2046.2 2980.2h3v3h-3zM2050.7 2979.6h3.4v3.4h-3.4zM2059.8 2979.6h3v3h-3zM2064.3 2980.3h3v3h-3zM2081.5 2979.3h2.2v2.2h-2.2zM2086.4 2979.7h2.6v2.6h-2.6zM2095 2980.1h3.4v3.4h-3.4zM2103.1 2979.3h2.6v2.6h-2.6zM2108 2979.8h2.6v2.6h-2.6zM2112.6 2980.1h3v3h-3zM2116.2 2980.1h2.2v2.2h-2.2zM2133.6 2979.9h2.6v2.6h-2.6zM2143.1 2979.4h2.2v2.2h-2.2zM2151.5 2980.2h2.2v2.2h-2.2zM2169.5 2979.6h3.4v3.4h-3.4zM2172.8 2980.2h2.2v2.2h-2.2zM2186.5 2980.2h2.2v2.2h-2.2zM2190.8 2980.4h3v3h-3zM2195 2979.5h3.4v3.4h-3.4zM2199.4 2980.1h2.2v2.2h-2.2zM2203.5 2979.9h2.2v2.2h-2.2zM2208.2 2980.4h2.2v2.2h-2.2zM2221.3 2980.4h3v3h-3zM2225.7 2980.2h3.4v3.4h-3.4zM2234.9 2980.2h3v3h-3zM2243.8 2979.3h3.4v3.4h-3.4zM2247.5 2979.4h3.4v3.4h-3.4zM2269.8 2980.2h3.4v3.4h-3.4zM2286.6 2980.1h3.4v3.4h-3.4zM2292 2980h3.4v3.4h-3.4zM2295.9 2979.5h3v3h-3zM2300.7 2979.3h2.2v2.2h-2.2zM2304.6 2980.3h3.4v3.4h-3.4zM2308.8 2980.2h3v3h-3zM2055.1 2983.8h2.2v2.2h-2.2zM2076.6 2984h3v3h-3zM2086 2984.2h3v3h-3zM2098.7 2983.8h3.4v3.4h-3.4zM2111.8 2984h3v3h-3zM2125 2984.2h3.4v3.4h-3.4zM2134.5 2984.6h2.2v2.2h-2.2zM2142.2 2984.8h3.4v3.4h-3.4zM2168.7 2984.5h2.6v2.6h-2.6zM2181.8 2984.2h3v3h-3zM2190.6 2984.6h2.6v2.6h-2.6zM2204.3 2983.9h2.6v2.6h-2.6zM2217.1 2984.7h3v3h-3zM2221.5 2983.9h2.2v2.2h-2.2zM2226.4 2984.2h3.4v3.4h-3.4zM2273.8 2984.4h2.6v2.6h-2.6zM2282.6 2984.7h2.6v2.6h-2.6z" fill="#DCEBF7"/>
<path d="M2050.6 2708.5h2.2v2.2h-2.2zM2089.9 2708h2.6v2.6h-2.6zM2173.8 2709h3.4v3.4h-3.4zM2208.3 2708.2h2.2v2.2h-2.2zM2212.5 2708.3h3.4v3.4h-3.4zM2269.1 2709h2.2v2.2h-2.2zM2278.7 2708.6h3v3h-3zM2296.2 2708.5h3v3h-3zM2055 2713.1h2.6v2.6h-2.6zM2064.1 2713.1h3.4v3.4h-3.4zM2138.2 2712.6h3.4v3.4h-3.4zM2142.2 2713h3v3h-3zM2046.4 2717.8h3.4v3.4h-3.4zM2099.3 2717.7h2.2v2.2h-2.2zM2111.5 2717.4h3.4v3.4h-3.4zM2234.7 2717h3v3h-3zM2247.3 2717.2h2.6v2.6h-2.6zM2264.7 2717.7h2.6v2.6h-2.6zM2077.3 2721.5h2.6v2.6h-2.6zM2203.8 2722.3h3.4v3.4h-3.4zM2278.1 2721.2h3v3h-3zM2160.7 2726.6h3v3h-3zM2217.7 2726.2h3v3h-3zM2226.2 2725.9h2.2v2.2h-2.2zM2252.7 2725.5h3v3h-3zM2081.4 2730.3h3.4v3.4h-3.4zM2143.1 2731h2.2v2.2h-2.2zM2182.7 2730.8h2.2v2.2h-2.2zM2199.6 2730.3h2.6v2.6h-2.6zM2221.9 2730.6h2.6v2.6h-2.6zM2256.6 2730.8h3.4v3.4h-3.4zM2059.4 2735h3.4v3.4h-3.4zM2156 2735.4h3.4v3.4h-3.4zM2172.9 2735.3h3.4v3.4h-3.4zM2181.7 2735.1h3v3h-3zM2191.4 2734.8h2.2v2.2h-2.2zM2203.8 2735.1h3.4v3.4h-3.4zM2243.6 2734.4h3.4v3.4h-3.4zM2077.7 2739.1h3v3h-3zM2094.1 2739.3h3v3h-3zM2129.5 2738.9h2.6v2.6h-2.6zM2261.4 2738.9h3v3h-3zM2085.3 2743.8h2.6v2.6h-2.6zM2112.4 2743.8h3v3h-3zM2230.8 2744.1h2.6v2.6h-2.6zM2243.9 2743h3.4v3.4h-3.4zM2273.5 2743h3v3h-3zM2283 2743.2h3v3h-3zM2291 2743.6h3v3h-3zM2090.8 2748h2.6v2.6h-2.6zM2107.5 2747.4h3v3h-3zM2151.1 2748h3.4v3.4h-3.4zM2185.9 2747.7h3.4v3.4h-3.4zM2225.5 2747.7h2.2v2.2h-2.2zM2265.2 2747.5h3v3h-3zM2273.6 2748.5h2.2v2.2h-2.2zM2300.8 2748.2h3v3h-3zM2055.1 2752.7h2.2v2.2h-2.2zM2208.2 2752.9h2.6v2.6h-2.6zM2046.9 2757h2.6v2.6h-2.6zM2073.2 2756.6h3.4v3.4h-3.4zM2090.1 2757h2.6v2.6h-2.6zM2124.7 2757.2h2.6v2.6h-2.6zM2134.1 2756.7h2.2v2.2h-2.2zM2186.6 2756.5h3.4v3.4h-3.4zM2217.2 2756.9h2.2v2.2h-2.2zM2221.3 2756.8h3v3h-3zM2230.8 2756.9h2.6v2.6h-2.6zM2282.4 2756.8h2.2v2.2h-2.2zM2051.4 2760.7h3.4v3.4h-3.4zM2055.2 2760.8h3.4v3.4h-3.4zM2121.2 2761.6h3v3h-3zM2138.6 2761.4h3v3h-3zM2230.1 2760.7h3.4v3.4h-3.4zM2239.4 2760.9h3.4v3.4h-3.4zM2260.3 2761.5h2.6v2.6h-2.6zM2291.9 2760.9h3v3h-3zM2308.9 2760.7h3v3h-3zM2094.7 2765.3h2.6v2.6h-2.6zM2115.9 2766h2.6v2.6h-2.6zM2130 2765.2h2.6v2.6h-2.6zM2151.4 2765.8h3v3h-3zM2164.6 2765.1h3.4v3.4h-3.4zM2195.2 2765.8h2.2v2.2h-2.2zM2208 2765.7h2.2v2.2h-2.2zM2054.7 2769.3h2.2v2.2h-2.2zM2116.8 2770.3h3v3h-3zM2133.7 2770.1h2.2v2.2h-2.2zM2204.1 2770.3h2.2v2.2h-2.2zM2248.1 2770.3h3.4v3.4h-3.4zM2269.7 2770.4h3v3h-3zM2278.8 2769.3h3.4v3.4h-3.4zM2090.7 2774.7h3.4v3.4h-3.4zM2103.6 2774h3v3h-3zM2120.6 2773.7h3.4v3.4h-3.4zM2143.2 2774.4h3.4v3.4h-3.4zM2155.4 2774.2h3.4v3.4h-3.4zM2213 2774.1h2.6v2.6h-2.6zM2243.8 2774h2.6v2.6h-2.6zM2261 2773.8h3v3h-3zM2055.5 2779h3v3h-3zM2063.4 2778h2.2v2.2h-2.2zM2247.2 2778.7h3.4v3.4h-3.4zM2256.8 2778.1h3v3h-3zM2265.5 2778.2h2.6v2.6h-2.6zM2305 2778.4h3.4v3.4h-3.4zM2076.8 2783.3h3v3h-3zM2107.9 2783h2.2v2.2h-2.2zM2112.3 2782.4h2.6v2.6h-2.6zM2165.1 2783.3h2.2v2.2h-2.2zM2195.4 2782.8h3.4v3.4h-3.4zM2200 2783h2.2v2.2h-2.2zM2247.8 2783.2h2.6v2.6h-2.6zM2051 2787.9h3v3h-3zM2252.6 2786.9h2.2v2.2h-2.2zM2270 2787.5h2.6v2.6h-2.6zM2137.8 2791.6h3v3h-3zM2182.3 2791.5h3v3h-3zM2283 2791.6h2.2v2.2h-2.2zM2102.8 2795.8h3.4v3.4h-3.4zM2168.6 2796.6h2.6v2.6h-2.6zM2208 2795.8h3v3h-3zM2230.7 2796.1h3.4v3.4h-3.4zM2243.3 2796.4h2.6v2.6h-2.6zM2094.7 2800h3v3h-3zM2147.2 2799.9h2.2v2.2h-2.2zM2177.9 2800h2.6v2.6h-2.6zM2216.7 2800h2.6v2.6h-2.6zM2238.7 2800.5h3.4v3.4h-3.4zM2304.1 2800.6h2.6v2.6h-2.6zM2317.5 2800.7h3v3h-3zM2156 2804.4h3.4v3.4h-3.4zM2252.6 2804.8h2.6v2.6h-2.6zM2313.3 2805.3h2.2v2.2h-2.2zM2073.2 2809.8h3.4v3.4h-3.4zM2124.8 2809.5h3v3h-3zM2151.6 2808.7h2.2v2.2h-2.2zM2213.1 2809.2h2.6v2.6h-2.6zM2295.4 2809.7h2.6v2.6h-2.6zM2067.8 2813.1h3.4v3.4h-3.4zM2077.3 2814.2h2.2v2.2h-2.2zM2081.3 2813.4h3v3h-3zM2130 2813.9h3.4v3.4h-3.4zM2146.9 2813.9h3v3h-3zM2200.1 2813.7h3v3h-3zM2225.7 2813.4h3.4v3.4h-3.4zM2270.2 2813.4h2.2v2.2h-2.2zM2317.2 2813h2.2v2.2h-2.2zM2115.9 2817.6h2.2v2.2h-2.2zM2138.3 2818.1h2.6v2.6h-2.6zM2234.9 2818.5h2.2v2.2h-2.2zM2260.8 2817.9h3.4v3.4h-3.4zM2304.3 2818.4h3.4v3.4h-3.4zM2313.7 2818.3h2.6v2.6h-2.6zM2050.3 2822.2h3.4v3.4h-3.4zM2054.8 2822.1h2.2v2.2h-2.2zM2059.2 2821.8h3v3h-3zM2076.8 2822.8h3v3h-3zM2120.7 2822.2h3v3h-3zM2134.2 2822.9h2.6v2.6h-2.6zM2147.1 2822.6h2.6v2.6h-2.6zM2168.8 2822.6h3.4v3.4h-3.4zM2173.9 2822.6h2.6v2.6h-2.6zM2270.1 2822.6h3v3h-3zM2085.6 2826.5h2.2v2.2h-2.2zM2142.4 2826.3h3.4v3.4h-3.4zM2195.1 2827h2.6v2.6h-2.6zM2208.2 2827h2.2v2.2h-2.2zM2243.6 2827.3h2.6v2.6h-2.6zM2042.1 2831.2h2.6v2.6h-2.6zM2055.1 2830.9h2.2v2.2h-2.2zM2072.3 2831.7h2.6v2.6h-2.6zM2147.6 2831.5h2.2v2.2h-2.2zM2213.1 2831.4h3v3h-3zM2300.4 2830.6h2.6v2.6h-2.6zM2050.9 2835.3h2.2v2.2h-2.2zM2086.2 2836h2.6v2.6h-2.6zM2133.5 2835.4h2.2v2.2h-2.2zM2143.2 2835.4h3v3h-3zM2182.1 2835.2h2.6v2.6h-2.6zM2204.5 2836.1h2.2v2.2h-2.2zM2256.4 2835.6h2.6v2.6h-2.6zM2269.1 2835.9h3.4v3.4h-3.4zM2047.1 2840.2h2.6v2.6h-2.6zM2095 2840.4h2.6v2.6h-2.6zM2111.7 2839.7h3v3h-3zM2164.8 2840.2h3.4v3.4h-3.4zM2182.5 2839.4h3.4v3.4h-3.4zM2217.2 2840.4h2.6v2.6h-2.6zM2251.9 2839.7h3.4v3.4h-3.4zM2295.9 2840.3h3.4v3.4h-3.4zM2120.5 2843.8h3v3h-3zM2143.3 2844.1h2.6v2.6h-2.6zM2160.6 2844.6h2.2v2.2h-2.2zM2168.7 2844.8h2.2v2.2h-2.2zM2177.5 2844h2.6v2.6h-2.6zM2212.3 2843.8h3.4v3.4h-3.4zM2269.6 2844.7h2.2v2.2h-2.2zM2295.5 2844.1h2.2v2.2h-2.2zM2317.4 2844.3h2.2v2.2h-2.2zM2077.6 2848.9h2.6v2.6h-2.6zM2133.9 2849h3v3h-3zM2147 2848.1h3.4v3.4h-3.4zM2195.1 2848.4h3v3h-3zM2295.8 2848.9h2.6v2.6h-2.6zM2309.1 2848.5h2.2v2.2h-2.2zM2067.9 2852.6h3v3h-3zM2199.8 2853.6h2.2v2.2h-2.2zM2204 2852.6h3v3h-3zM2208.4 2852.5h3v3h-3zM2221.2 2853.4h3.4v3.4h-3.4zM2239.2 2853.4h2.6v2.6h-2.6zM2269.1 2853.2h3v3h-3zM2274.4 2853.2h2.2v2.2h-2.2zM2291.6 2853.2h3v3h-3zM2295.5 2853.5h3v3h-3zM2313.2 2852.6h3.4v3.4h-3.4zM2317.5 2852.9h2.6v2.6h-2.6zM2080.9 2857.5h3v3h-3zM2191.1 2856.8h2.2v2.2h-2.2zM2208.7 2856.8h3v3h-3zM2243.4 2857.7h2.6v2.6h-2.6zM2203.8 2861.6h2.6v2.6h-2.6zM2278.5 2861.4h2.6v2.6h-2.6zM2300.2 2861.6h2.2v2.2h-2.2zM2313 2861.3h3.4v3.4h-3.4zM2059.1 2865.6h2.6v2.6h-2.6zM2076.6 2866.6h2.2v2.2h-2.2zM2129.2 2866.2h3.4v3.4h-3.4zM2134.4 2866.4h2.6v2.6h-2.6zM2168.9 2865.5h3v3h-3zM2234.2 2866.5h3.4v3.4h-3.4zM2282.5 2865.9h2.2v2.2h-2.2zM2050.8 2870.9h3v3h-3zM2059.8 2870.8h3.4v3.4h-3.4zM2085.9 2871h3.4v3.4h-3.4zM2090.6 2870.2h2.6v2.6h-2.6zM2108.1 2870.8h2.2v2.2h-2.2zM2112.5 2870.8h3v3h-3zM2238.5 2870.4h2.6v2.6h-2.6zM2304.6 2869.9h2.2v2.2h-2.2zM2042.4 2874.6h2.6v2.6h-2.6zM2072.4 2874.8h2.6v2.6h-2.6zM2194.9 2875h3.4v3.4h-3.4zM2208 2874.6h3v3h-3zM2225.5 2875h2.6v2.6h-2.6zM2264.8 2875.3h3.4v3.4h-3.4zM2274.3 2875.1h3.4v3.4h-3.4zM2050.3 2879.3h2.6v2.6h-2.6zM2125.7 2879h3.4v3.4h-3.4zM2203.7 2879.5h3v3h-3zM2278.2 2879.3h2.2v2.2h-2.2zM2317.2 2879.5h2.6v2.6h-2.6zM2108.1 2883.4h2.6v2.6h-2.6zM2216.8 2883.8h3.4v3.4h-3.4zM2261.4 2883.7h2.6v2.6h-2.6zM2291.9 2883.3h2.2v2.2h-2.2zM2090.7 2887.6h3v3h-3zM2221 2888.2h3v3h-3zM2264.6 2888.3h3.4v3.4h-3.4zM2300 2888.5h2.6v2.6h-2.6zM2317.3 2887.4h3.4v3.4h-3.4zM2041.7 2892.6h3v3h-3zM2112.2 2892.3h3.4v3.4h-3.4zM2164.7 2892.5h3v3h-3zM2186.9 2892.9h3.4v3.4h-3.4zM2064 2896.4h3v3h-3zM2094.5 2896.4h3.4v3.4h-3.4zM2146.8 2896.9h3v3h-3zM2151.9 2896.3h3.4v3.4h-3.4zM2221.3 2896.5h2.2v2.2h-2.2zM2234.2 2897.2h3v3h-3zM2041.6 2901h2.2v2.2h-2.2zM2086.3 2900.9h3.4v3.4h-3.4zM2150.9 2900.7h3v3h-3zM2168.5 2901.5h3v3h-3zM2181.6 2901.6h2.2v2.2h-2.2zM2230.7 2901.4h2.2v2.2h-2.2zM2247.3 2900.9h3v3h-3zM2256.1 2901.2h2.6v2.6h-2.6zM2265.4 2900.6h3.4v3.4h-3.4zM2309.2 2901.7h3.4v3.4h-3.4zM2081.1 2905.7h3.4v3.4h-3.4zM2099.3 2904.9h3v3h-3zM2160.2 2905h2.2v2.2h-2.2zM2186.6 2905.3h3v3h-3zM2190.4 2905.6h2.6v2.6h-2.6zM2300 2906.1h2.2v2.2h-2.2zM2304.4 2905.9h3.4v3.4h-3.4zM2313.4 2905.6h2.6v2.6h-2.6zM2317.7 2905.9h2.6v2.6h-2.6zM2050.3 2909.4h3v3h-3zM2080.9 2910.3h2.6v2.6h-2.6zM2094.7 2910.2h2.6v2.6h-2.6zM2099.3 2909.4h3v3h-3zM2146.8 2909.3h2.6v2.6h-2.6zM2152 2909.7h2.6v2.6h-2.6zM2200 2910.3h3.4v3.4h-3.4zM2235.2 2910.3h2.2v2.2h-2.2zM2260.5 2909.8h2.2v2.2h-2.2zM2282.4 2910.1h3.4v3.4h-3.4zM2287.1 2910h2.2v2.2h-2.2zM2291.7 2910.4h2.6v2.6h-2.6zM2090.2 2914.6h3.4v3.4h-3.4zM2142.8 2914.1h2.2v2.2h-2.2zM2147 2914.3h2.2v2.2h-2.2zM2200.1 2914.8h2.2v2.2h-2.2zM2230.2 2914.7h2.2v2.2h-2.2zM2287.5 2914.8h2.2v2.2h-2.2zM2309.3 2913.9h2.2v2.2h-2.2zM2076.5 2918h2.6v2.6h-2.6zM2147.6 2918.3h2.6v2.6h-2.6zM2160.1 2918.3h2.6v2.6h-2.6zM2282.5 2918.4h2.6v2.6h-2.6zM2077.4 2922.7h3.4v3.4h-3.4zM2086.4 2923.4h3.4v3.4h-3.4zM2120.5 2922.7h3v3h-3zM2138.6 2923.4h3v3h-3zM2142.8 2923.1h3.4v3.4h-3.4zM2225.8 2922.8h2.6v2.6h-2.6zM2273.6 2923.1h2.6v2.6h-2.6zM2072.6 2927.5h3.4v3.4h-3.4zM2155.4 2927h2.2v2.2h-2.2zM2199.7 2927.7h2.2v2.2h-2.2zM2213 2927.2h2.2v2.2h-2.2zM2291.6 2927.9h3.4v3.4h-3.4zM2064.2 2931.3h2.6v2.6h-2.6zM2068.1 2931.4h2.6v2.6h-2.6zM2072.2 2932h2.2v2.2h-2.2zM2120.9 2931.6h2.2v2.2h-2.2zM2164.2 2931.3h3.4v3.4h-3.4zM2182.2 2931.2h3v3h-3zM2212.8 2932.3h3.4v3.4h-3.4zM2130 2936.7h2.6v2.6h-2.6zM2168.7 2936.1h2.6v2.6h-2.6zM2265.4 2935.6h3.4v3.4h-3.4zM2059.8 2940.7h3.4v3.4h-3.4zM2108 2940h3v3h-3zM2116.3 2940.6h3v3h-3zM2239.5 2940.1h2.6v2.6h-2.6zM2247.2 2940.7h2.2v2.2h-2.2zM2296 2940.9h2.6v2.6h-2.6zM2051.4 2944.5h2.6v2.6h-2.6zM2095 2944.8h2.6v2.6h-2.6zM2199.8 2945h3v3h-3zM2274.3 2945.2h3.4v3.4h-3.4zM2064.2 2948.7h2.2v2.2h-2.2zM2142.5 2949.2h2.6v2.6h-2.6zM2204.2 2949.6h2.2v2.2h-2.2zM2239 2948.8h3v3h-3zM2260.6 2949.3h3v3h-3zM2274.1 2949h3.4v3.4h-3.4zM2282.3 2949.7h3v3h-3zM2287.6 2949.1h3.4v3.4h-3.4zM2291.4 2949.4h2.6v2.6h-2.6zM2300.6 2949.2h3v3h-3zM2146.7 2953.2h3v3h-3zM2182.3 2954h3v3h-3zM2195.7 2954h2.6v2.6h-2.6zM2216.7 2954.1h3v3h-3zM2308.7 2953.4h2.2v2.2h-2.2zM2317.9 2953.1h3.4v3.4h-3.4zM2042.5 2957.8h3.4v3.4h-3.4zM2090.2 2957.5h2.6v2.6h-2.6zM2099.2 2957.9h3.4v3.4h-3.4zM2181.7 2957.7h3.4v3.4h-3.4zM2264.7 2957.5h2.6v2.6h-2.6zM2274.3 2958h3v3h-3zM2286.8 2958.4h2.6v2.6h-2.6zM2318 2957.8h2.2v2.2h-2.2zM2156.4 2962h3.4v3.4h-3.4zM2256.3 2962.1h3v3h-3zM2094.2 2966.7h3v3h-3zM2107.5 2966.5h2.6v2.6h-2.6zM2151 2966.7h2.6v2.6h-2.6zM2169.2 2967.3h2.6v2.6h-2.6zM2195 2966.8h3v3h-3zM2234.7 2967h2.6v2.6h-2.6zM2046.3 2971.5h2.6v2.6h-2.6zM2050.8 2970.8h2.6v2.6h-2.6zM2107.3 2971.3h3v3h-3zM2067.8 2975.8h3v3h-3zM2108.2 2975.1h3.4v3.4h-3.4zM2186 2975.1h3.4v3.4h-3.4zM2257 2975.7h2.2v2.2h-2.2zM2265.5 2975.5h3v3h-3zM2287.5 2975.9h2.6v2.6h-2.6zM2300.4 2974.9h2.6v2.6h-2.6zM2077.4 2980.4h3v3h-3zM2138.6 2980.1h2.6v2.6h-2.6zM2160.3 2979.3h2.6v2.6h-2.6zM2251.7 2980h3.4v3.4h-3.4zM2317.4 2979.6h2.6v2.6h-2.6zM2042.2 2984.5h3.4v3.4h-3.4zM2072.3 2983.8h3.4v3.4h-3.4zM2094.4 2984.5h2.6v2.6h-2.6zM2103.9 2983.7h3.4v3.4h-3.4zM2116.6 2984.3h3.4v3.4h-3.4zM2129.1 2984.3h2.6v2.6h-2.6zM2151 2983.8h2.2v2.2h-2.2zM2186.3 2983.8h2.6v2.6h-2.6z" fill="#2A78BE"/>
<rect x="2369.5" y="2762" width="576.5" height="172.7" fill="#fff" stroke="#222" stroke-width="3.8"/>
<text class="sr b" x="2520" y="2873" font-size="80" textLength="276" lengthAdjust="spacingAndGlyphs" fill="#0b0b0b">10101···</text>
</svg>
</body></html>
